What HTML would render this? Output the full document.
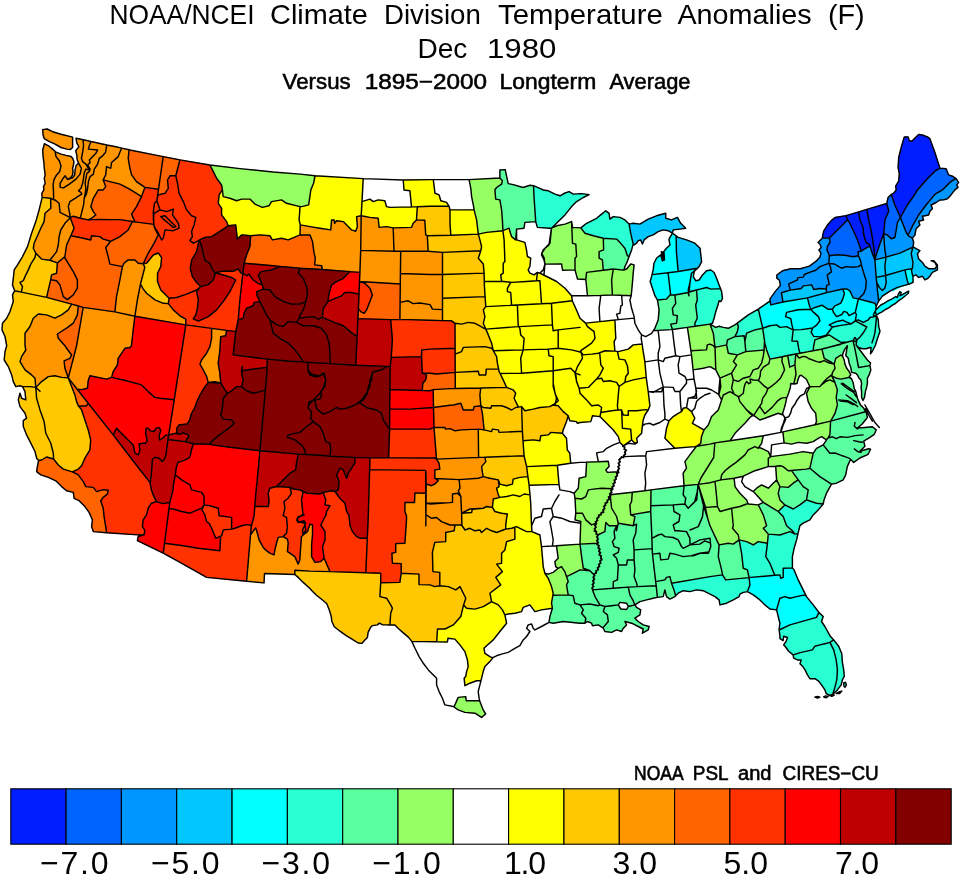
<!DOCTYPE html>
<html lang="en">
<head>
<meta charset="utf-8">
<title>NOAA/NCEI Climate Division Temperature Anomalies (F) Dec 1980</title>
<style>
html,body{margin:0;padding:0;background:#fff;}
body{width:961px;height:875px;overflow:hidden;font-family:"Liberation Sans",sans-serif;}
svg{display:block;}
text{font-family:"Liberation Sans",sans-serif;fill:#000;}
</style>
</head>
<body>
<svg width="961" height="875" viewBox="0 0 961 875">
<rect width="961" height="875" fill="#fff"/>
<g id="titles">
<text y="24.3" font-size="27.6"><tspan x="109.4" textLength="145.1" lengthAdjust="spacingAndGlyphs">NOAA/NCEI</tspan> <tspan x="270.1" textLength="97.8" lengthAdjust="spacingAndGlyphs">Climate</tspan> <tspan x="384.0" textLength="96.8" lengthAdjust="spacingAndGlyphs">Division</tspan> <tspan x="498.0" textLength="164.8" lengthAdjust="spacingAndGlyphs">Temperature</tspan> <tspan x="677.4" textLength="134.3" lengthAdjust="spacingAndGlyphs">Anomalies</tspan> <tspan x="827.9" textLength="36.8" lengthAdjust="spacingAndGlyphs">(F)</tspan></text>
<text y="58.4" font-size="27.6"><tspan x="417.5" textLength="49.9" lengthAdjust="spacingAndGlyphs">Dec</tspan> <tspan x="487.0" textLength="69.4" lengthAdjust="spacingAndGlyphs">1980</tspan></text>
<text y="89.0" font-size="21.8" stroke="#000" stroke-width="0.55"><tspan x="282.6" textLength="68.1" lengthAdjust="spacingAndGlyphs">Versus</tspan> <tspan x="364.7" textLength="122.4" lengthAdjust="spacingAndGlyphs">1895−2000</tspan> <tspan x="499.6" textLength="96.7" lengthAdjust="spacingAndGlyphs">Longterm</tspan> <tspan x="609.4" textLength="81.1" lengthAdjust="spacingAndGlyphs">Average</tspan></text>
</g>
<g id="map">
<path fill="#001eff" stroke="#001eff" stroke-width="0.6" fill-rule="evenodd" d="M846.2,215.6 846.2,215.6 835,217.5 831.2,220.6 827.5,225 823.7,231.2 822.5,236.2 822.5,237.8 829.4,238.1 836.2,231.2 842.5,225 847.5,220 847.5,220ZM858.7,211.9 858.7,211.9 846.2,215.6 847.5,220 847.5,220 848.7,221.2 853.7,231.2 857.5,240 860,247.4 861.2,251.2 865,248.7 869.9,246.2 869.3,244.3 866.2,242.5 863.7,235 863.1,227.5 860,220ZM866.8,209.4 858.7,211.9 860,220 863.1,227.5 863.7,235 866.2,242.5 869.3,244.3 869.9,246.2 870.6,248.1 872.4,253.7 874.9,259.9 874.3,251.2 873.1,242.5 871.2,231.2 868.7,220ZM886.8,203.5 866.8,209.4 866.8,209.4 868.7,220 871.2,231.2 873.1,242.5 874.3,251.2 874.9,259.9 876.2,254.9 878.7,247.4 881.8,238.7 883.7,233.7 883.7,233.7 884.3,227.5 884.9,220 888.7,211.2ZM891.2,194.4 894.9,205 899.9,216.2 900.4,217.5 907.4,205 914.9,194.4 917.4,189.9 927.4,178.7 934.9,171.2 939.9,168.1 934.9,152.5 929.9,138.7 927.4,136.9 922.4,135 918.7,134.4 914.9,138.1 911.8,141.2 909.3,140.6 908.1,136.9 904.3,136.9 901.2,147.5 898.7,157.5 898.1,167.5 899.3,173.7 898.7,181.2 895.6,186.2 896.2,189.9 893.7,193.1Z"/>
<path fill="#0064ff" stroke="#0064ff" stroke-width="0.6" fill-rule="evenodd" d="M829.3,255.7 837.6,254.7 844.9,255.2 853.2,256.8 858.4,255.7 858.1,251.8 861.2,251.2 861.2,251.2 860,247.4 857.5,240 853.7,231.2 848.7,221.2 847.5,220 847.5,220 847.5,220 842.5,225 836.2,231.2 829.4,238.1 829.4,238.1 830,242.5 827.5,246.2 826.9,249.9 828.7,253.7ZM891.2,194.4 888.1,197.5 886.8,203.5 886.8,203.5 888.7,211.2 884.9,220 884.3,227.5 883.7,233.7 883.7,233.7 887.4,235 891.2,238.7 894.9,237.5 896.2,230 897.4,222.5 900.4,217.5 899.9,216.2 894.9,205ZM900.4,217.5 906.2,232.5 908,235.2 912.4,226.2 918.6,215 926.1,205 934.9,194.4 942.4,189.9 949.9,182.4 955.7,178.4 952.4,176.2 948.6,174.9 946.1,168.7 939.9,168.1 939.9,168.1 934.9,171.2 927.4,178.7 917.4,189.9 914.9,194.4 907.4,205Z"/>
<path fill="#0096ff" stroke="#0096ff" stroke-width="0.6" fill-rule="evenodd" d="M770.2,300.4 770.2,300.8 770.7,304.9 783,302 781.4,292.7 790.3,290.1 788.7,283.8 797.1,280.2 798.1,277.6 803.3,277.1 804.3,274.5 809.5,272.4 815.8,270.3 819.9,266.6 825.2,264.6 828.8,263.5 829.3,255.7 828.7,253.7 826.9,249.9 827.5,246.2 830,242.5 829.4,238.1 829.4,238.1 822.5,237.8 822.5,238.1 820,240.6 818.1,242.5 820,244.3 821.2,247.4 818.9,250 821,253.1 819.9,257.3 815.8,261.4 809.5,266.1 800.2,268.7 790.8,268.7 782.5,270.8 776.8,275 776.8,278.1 779.4,280.2 780.4,285.4 775.2,291.6 770,298.9ZM828.8,263.5 825.2,264.6 819.9,266.6 815.8,270.3 809.5,272.4 804.3,274.5 803.3,277.1 798.1,277.6 797.1,280.2 788.7,283.8 790.3,290.1 790.3,290.1 801.2,288.5 803.3,285.9 811.6,284.9 813.7,289.5 819.9,288.5 826.2,289 826.2,289 826.7,285.4 829.3,284.3 828.3,280.2 827.2,275 831.4,271.9 830.4,266.6ZM826.7,292.6 842.8,289 842.8,289 847,289 850.1,291.1 852.2,295.8 853.2,297.9 858.4,298.9 863.7,293.7 865.7,288.5 866.3,281.2 863.7,272.9 861.6,265.6 861.4,264.6 858.4,266.6 853.2,267.2 846,266.6 841.8,268.2 838.7,266.6 834.5,264 828.8,263.5 830.4,266.6 831.4,271.9 827.2,275 828.3,280.2 829.3,284.3 826.7,285.4 826.2,289 826.2,289ZM829.3,255.7 828.8,263.5 834.5,264 838.7,266.6 841.8,268.2 846,266.6 853.2,267.2 858.4,266.6 861.4,264.6 860.5,260.4 858.4,255.7 853.2,256.8 844.9,255.2 837.6,254.7ZM858.4,255.7 860.5,260.4 861.4,264.6 861.6,265.6 863.7,272.9 866.3,281.2 865.7,288.5 863.7,293.7 858.4,298.9 867.5,301.2 875,303.3 876.2,306.6 876.2,306.6 877.5,303.3 878.7,301.1 877.4,289.9 876.7,282.4 876.2,277.4 876.2,277.4 875.6,269.9 874.9,259.9 874.9,259.9 872.4,253.7 870.6,248.1 869.9,246.2 865,248.7 861.2,251.2 861.2,251.2 861.2,251.2 858.1,251.8ZM886,257.1 884.9,249.9 884.3,242.5 883.7,233.7 881.8,238.7 878.7,247.4 876.2,254.9 874.9,259.9 884.9,257.4ZM883.7,233.7 884.3,242.5 884.9,249.9 886,257.1 899.9,253.1 912.4,247.4 913,246.8 913.7,242.5 912.4,238.1 912.4,238.1 908.7,236.2 908,235.2 906.2,232.5 900.4,217.5 897.4,222.5 896.2,230 894.9,237.5 891.2,238.7 887.4,235ZM908,235.2 908.7,236.2 912.4,238.1 914.9,235 916.1,228.7 919.9,225 918.6,221.2 923.6,220 922.4,216.2 928.6,215 929.9,211.2 932.4,208.7 931.1,205 936.1,202.5 940,200 943.6,199.9 947.4,198.7 949.9,196.2 952.4,193.1 954.9,189.9 958,187.4 956.8,184.9 958.6,182.4 956.1,178.7 955.7,178.4 949.9,182.4 942.4,189.9 934.9,194.4 926.1,205 918.6,215 912.4,226.2ZM861.2,251.2 861.2,251.2 861.2,251.2Z"/>
<path fill="#00c8ff" stroke="#00c8ff" stroke-width="0.6" fill-rule="evenodd" d="M672.4,233.2 673.2,229.9 679.9,229.1 685.7,228.3 680.7,223.3 677.4,217.4 671.5,219.9 665.7,218.3 665.7,213.3 656.5,215.8 648.2,219.1 639.9,224.1 633.2,223.3 629.1,224.1 629.1,224.1 630.7,233.2 632.4,240.7 633.2,244.1 634.1,244.9 636.6,243.2 638.2,240.7 640.7,239.9 642.4,244.1 644.1,239.9 648.2,236.6 653.2,234.9 658.2,231.6 663.2,229.9 668.2,230.7ZM700,248.2 694.8,243.2 686.5,239.9 678.2,237.4 676.1,235.9 676.5,253.2 678.2,271.5 678.2,271.5 697.5,268.3 699.1,266.6 701.6,261.7 700.8,255ZM783,302 783,302 807.5,297.9 807.5,297.9 826.2,292.7 826.7,292.6 826.2,289 819.9,288.5 813.7,289.5 811.6,284.9 803.3,285.9 801.2,288.5 790.3,290.1 790.3,290.1 781.4,292.7ZM826.7,292.6 826.2,292.7 807.5,297.9 807.5,297.9 809,304.1 810.6,309.3 810.6,309.3 815.8,307.2 822,305.2 824.1,306.7 828.3,309.3 832.4,309.3 832.4,309.3 834.5,306.2 840.8,303.1 842.8,298.9 844.4,293.7 842.8,289 842.8,289ZM874.9,259.9 874.9,259.9 874.9,259.9 875.6,269.9 876.2,277.4 885.6,275.5 885.6,275.5 884.9,266.2 886,257.1 884.9,257.4ZM913,246.8 912.4,247.4 899.9,253.1 886,257.1 884.9,266.2 885.6,275.5 904.9,269.9 904.9,269.9 911.2,268.7 912.4,268.4 913,262.4 911.2,253.7ZM876.7,282.4 877.4,289.9 878.7,301.1 882.4,296.1 889.9,291.1 897.4,287.4 906.2,284.9 908.7,284.3 908.7,284.3 907.4,281.2 904.9,269.9 904.9,269.9 885.6,275.5 886.2,282.4 884.9,288 882.4,290.5 879.3,287.4ZM876.2,277.4 876.2,277.4 876.7,282.4 879.3,287.4 882.4,290.5 884.9,288 886.2,282.4 885.6,275.5 885.6,275.5ZM913,276.2 916.1,274.9 918.6,277.4 922.4,276.2 924.9,279.9 927.4,278.7 929.9,276.2 932.4,272.4 937.4,269.9 937.4,264.9 933.6,260.6 931.1,260.6 934.9,262.4 936.8,266.2 934.9,268.7 928.6,268.7 924.9,266.2 922.4,262.4 918.6,258.7 917.4,253.7 919.9,250.6 916.1,248.7 913,246.8 913,246.8 911.2,253.7 913,262.4 912.4,268.4 912.4,268.7 911.2,268.7 912.4,274.9ZM810.6,309.3 810.6,309.3 810.6,309.3ZM874.9,259.9 874.9,259.9 874.9,259.9ZM912.4,268.4 911.2,268.7 912.4,268.7Z"/>
<path fill="#00ffff" stroke="#00ffff" stroke-width="0.6" fill-rule="evenodd" d="M672.4,233.2 669,239.1 669.9,244.9 666.5,248.2 663.5,251.9 664.5,259.9 662.4,260.7 660.7,254.9 656.5,258.2 654,263.2 653.2,269.9 652,274.6 668.1,272.7 678.2,271.5 676.5,253.2 676.1,235.9ZM652,274.6 651.6,276.5 650.2,281.5 652.4,288.2 654.9,295.7 657.4,300 666.5,299.1 669.9,295 670.3,295 670.7,295 668.1,272.9 668.1,272.7ZM678.2,271.5 668.1,272.7 668.1,272.9 670.7,295 674.9,295 688.2,292.5 688.5,292.4 688.2,289.9 689.8,283.2 689.9,283.1 691.5,273.2 697.5,268.3 678.2,271.5ZM697.5,268.3 691.5,273.2 689.9,283.1 689.2,291.6 696.3,290 696.5,290 696.5,290 696.6,290 700,289.1 706.6,287.5 710.8,289.1 720.5,288.6 719.1,285 716.6,278.3 714.1,272.5 710.8,270 706.6,270.8 702.5,275 699.1,280 695.8,280.8 693.3,276.6 694.2,271.6 696.6,269.1ZM770.2,300.8 766.6,303.3 758.3,309.1 762.4,326.6 762.7,328.3 769.9,325.8 776.6,324.9 779.9,327.4 786.6,326.6 789.9,328.3 793.2,329.9 791.9,324.9 790.8,318.7 785.6,316.6 786.6,312.4 798.1,309.8 810.6,309.3 810.6,309.3 809,304.1 807.5,297.9 783,302 783,302 770.7,304.9ZM810.6,309.3 810.6,309.3 810.6,309.3 798.1,309.8 786.6,312.4 785.6,316.6 790.8,318.7 791.9,324.9 793.2,329.9 801.2,329.6 812.7,328 816.8,324.9 819.9,320.8 818.4,316.6 813.7,312.4ZM832.4,309.3 832.4,309.3 828.3,309.3 824.1,306.7 822,305.2 815.8,307.2 810.6,309.3 813.7,312.4 818.4,316.6 819.9,320.8 816.8,324.9 812.7,328 811.1,332.2 813.7,336.4 819.9,336.9 826.2,335.3 829.3,331.2 832.4,327 829.3,324.9 835.6,321.8 842.8,320.2 846,321.8 851.2,323.9 851.2,323.9 855.3,320.8 855.3,320.8 856.4,314.5 855.3,312.4 855.3,312.4 849.1,315.6 847,312.4 843.9,311.4 841.8,314.5 836.6,316.6 833.5,312.4ZM858.4,298.9 853.2,297.9 852.2,295.8 850.1,291.1 847,289 842.8,289 844.4,293.7 842.8,298.9 840.8,303.1 834.5,306.2 832.4,309.3 833.5,312.4 836.6,316.6 841.8,314.5 843.9,311.4 847,312.4 849.1,315.6 855.3,312.4 855.3,312.4ZM851.2,323.9 846,321.8 842.8,320.2 835.6,321.8 829.3,324.9 832.4,327 840.8,325.4ZM908.7,284.3 913,282.4 913,276.2 913,276.2 912.4,274.9 911.2,268.7 904.9,269.9 907.4,281.2ZM774.9,575.3 750.8,577.4 749.1,577.6 749.9,584.9 747.4,591.6 747.4,591.6 753.3,594.9 759.9,599.9 764.9,604.9 769.9,609 776.6,609.9 779.9,598.2 784.9,596.6 789.9,598.2 796.6,596.6 804.9,594.9 806.5,596.6 806.5,596.6 803.2,589.9 798.2,579.9 794.1,569.9 792.4,567.9 783.2,568.3 783.2,577.4 780.7,578.2 779.9,574.9ZM819,612.4 818.2,611.5 813.2,604.9 806.5,596.6 804.9,594.9 796.6,596.6 789.9,598.2 784.9,596.6 779.9,598.2 776.6,609.9 776.6,609.9 778.2,616.5 779.9,623.2 779.1,629.9 779.1,630 789.9,624.9 816.5,617.4ZM858.4,298.9 855.3,312.4 856.4,314.5 855.3,320.8 855.3,320.8 858.3,319.9 863.3,322.4 868.3,319.9 870,317.5 872.9,317 874.8,316.4 873.3,315 875.6,310.4 876.2,306.6 875,303.3 867.5,301.2ZM875.6,310.4 875.4,311.6 876.4,315.1 876.6,315 879.1,313.3 882,311.9 885.4,309.5 888.7,307.9 892,305.4 895.4,303.5 898.7,300.6 902,298.5 905.3,295.8 908.4,293.3 908.7,291.2 906.6,292.1 903.3,294.1 899.9,295.8 901.2,292.5 899.9,291.6 898.3,294.1 897.4,297.5 895.8,296.6 891.6,299.1 887.5,301.2 884.1,303.3 880.8,305 878.3,307.5 875.8,310ZM689.9,283.1 689.8,283.2 688.2,289.9 688.5,292.4 696.3,290 689.2,291.6ZM696.5,290 696.5,290 696.3,290ZM810.6,309.3 810.6,309.3 810.6,309.3ZM876.4,315.1 875.4,311.6 875.6,310.4 873.3,315 874.8,316.4 875.4,316.2ZM876.6,315.8 876.6,315.8 876.4,315.1 875.4,316.2Z"/>
<path fill="#28ffd2" stroke="#28ffd2" stroke-width="0.6" fill-rule="evenodd" d="M541.5,189.1 534,185.8 533.5,185.7 534,196.6 534.9,209.9 535.7,221.6 535.7,221.6 537.4,227.4 549.9,228.2 551.5,228.2 558.3,221.6 565,214.9 571.6,206.6 576.6,201.6 583.3,197.5 589.1,194.6 581.6,193.6 573.3,194.1 569.1,191.6 565,193 560,195.8 555,194.1 548.3,190.8 543.3,190ZM629.1,224.1 624.9,219.9 619.9,217.4 613.3,216.6 609.9,219.1 609.1,213.3 605.8,210.8 601.6,214.1 596.6,218.3 586.6,223.3 580.8,227.9 585,233.2 593.3,235.7 603.3,238.2 603.3,238.2 616.6,239.1 619.9,242.4 624.9,248.2 627.4,255.7 629.1,256.6 629.1,256.6 631.6,249.9 633.2,244.1 632.4,240.7 630.7,233.2ZM695.2,326.3 710,324.1 712.5,323.3 714.1,318.3 715.8,311.6 717.5,306.6 719.1,300.8 720.8,301.6 722.5,298.3 721.6,291.6 720.5,288.6 710.8,289.1 706.6,287.5 700,289.1 696.6,290 696.5,290 697.3,300 695.7,305 697.3,318.3 694.8,323.3ZM675.7,595.7 678.2,593.2 683.2,590.7 689.9,591.6 696.5,589.9 703.2,590.7 710,594.1 715,596.6 719.1,599.9 720,604.9 726.6,603.2 733.3,599.9 739.1,596.6 739.9,594.1 743.3,592.4 747.4,591.6 749.9,584.9 749.1,577.6 725.8,579.9 722.5,574.9 710,576.6 671.5,583.2 674,589.9ZM758.3,309.1 758.3,309.1 748.3,314.9 741.6,319.9 737.3,323.1 738.3,326.6 737.4,331.6 734.9,336.6 744.1,335.7 744.9,341.6 746.6,333.2 754.9,329.9 762.7,328.3 762.4,326.6ZM762.7,328.3 764.5,340.7 764.9,343.2 766.6,349.9 769.9,359.1 782.3,356.6 787.7,355.5 795.7,353.9 795.8,353.9 800,353.1 798.7,348.7 797.5,341.2 791.9,341.1 793.2,329.9 789.9,328.3 786.6,326.6 779.9,327.4 776.6,324.9 769.9,325.8ZM808.5,351.6 813.1,350.7 813.7,346.2 814.9,339.9 827.4,335.6 829.3,335 834.9,338.7 841.2,342.5 847.4,341.9 853,340.6 854.9,337.5 856.8,340 856.8,340.1 857.4,339.5 860.5,336.4 863.7,332.2 866.8,327 855.3,320.8 851.2,323.9 851.2,323.9 851.2,323.9 840.8,325.4 832.4,327 829.3,331.2 826.2,335.3 819.9,336.9 813.7,336.4 811.1,332.2 812.7,328 801.2,329.6 793.2,329.9 791.9,341.1 797.5,341.2 798.7,348.7 800,353.1 800,353.1ZM855.3,320.8 866.8,327 863.7,332.2 860.5,336.4 857.4,339.5 856.8,340.1 856.5,342.1 856.1,345 856.1,345 858.6,347.5 862.4,348.7 866.1,348.7 869.9,347.5 871.1,347.5 870.5,353.7 872.4,351.2 875.5,345 877.4,338.7 880,331.2 878.7,326.6 878.3,319.9 876.6,315.8 875.4,316.2 875,316.6 874.8,316.4 872.9,317 870,317.5 868.3,319.9 863.3,322.4 858.3,319.9ZM806.5,499.9 799.9,504.9 793.2,509 784.9,504.9 784.9,504.9 778.2,511.5 778.2,511.5 783.2,516.5 786.6,525.7 792.4,530.8 794.9,534.1 794.9,534.1 798,533.6 799.9,525.7 803.2,523.2 809.9,519.9 813.2,514.9 818.2,509.9 823.2,504 823.2,504 816.5,503.2ZM749.1,577.6 750.8,577.4 774.9,575.3 773.2,571.6 769.9,563.3 765.8,556.6 767.4,543.3 758.3,541.6 753.3,544.9 746.6,541.6 739.1,539.9 741.6,553.3 743.3,568.3 747.4,569.9ZM774.9,575.3 779.9,574.9 780.7,578.2 783.2,577.4 783.2,568.3 792.4,567.9 792.4,564.9 792.4,556.6 794.1,548.3 796.6,539.9 798,533.6 794.9,534.1 794.9,534.1 794.9,534.1 789.9,531.6 779.9,535 768.3,534.1 767.4,543.3 765.8,556.6 769.9,563.3 773.2,571.6ZM829.9,635.7 824.9,626.5 821.5,621.5 823.2,616.5 819,612.4 816.5,617.4 789.9,624.9 779.1,630 779.9,635.7 780,638.7 783.1,640.6 783.7,636.2 787.5,637.5 786.2,641.2 783.7,644.9 785,646.2 788.7,651.2 793.1,654.9 801.2,652.4 812.4,649.9 814.9,646.2 819.9,644.9 824.9,643.7 829.9,642.4 829.9,642.4 833.7,639.9ZM793.1,654.9 793.7,658.1 797.5,659.9 801.2,659.9 800,663.7 802.5,666.2 805,669.9 807.5,674.9 809.9,678.7 814.9,678.7 818.7,681.2 822.4,686.1 824.9,689.9 826.2,693.6 829.9,695.5 832.9,694 834.9,687.4 836.8,679.9 837.4,669.9 836.2,659.9 833.7,649.9 829.9,642.4 829.9,642.4 829.9,642.4 824.9,643.7 819.9,644.9 814.9,646.2 812.4,649.9 801.2,652.4ZM832.9,694 833.7,693.6 837.4,689.9 841.2,684.9 842.4,679.9 844.3,676.2 843.7,669.9 842.4,662.4 841.8,653.7 838.7,646.2 833.7,639.9 833.7,639.9 829.9,642.4 829.9,642.4 833.7,649.9 836.2,659.9 837.4,669.9 836.8,679.9 834.9,687.4ZM769.9,359.1 782.3,356.7 782.3,356.6ZM800,353.2 808.5,351.6 800,353.1 800,353.1ZM813.1,350.7 808.5,351.6 813.1,350.8ZM851.2,323.9 851.2,323.9 851.2,323.9ZM856.8,340.1 855.3,341.6 856.5,342.1ZM855.3,341.6 856.8,340.1 856.8,340 854.9,337.5 853,340.6ZM794.9,534.1 794.9,534.1 794.9,534.1ZM875.4,316.2 874.8,316.4 875,316.6Z"/>
<path fill="#5affa0" stroke="#5affa0" stroke-width="0.6" fill-rule="evenodd" d="M533.5,185.7 529.9,185.3 523.2,187.5 513.2,184.6 508.2,183.6 505.2,169.6 499.9,170 499.9,178 502.4,180.8 501.6,184.1 496.6,187.5 494.9,189.9 495.7,199.1 499.9,199.9 501.6,209.9 502.4,219.9 502.9,230.7 509.1,228.2 509.9,231.6 511.6,236.6 515.7,239.9 516.6,229.1 516.6,229.1 524,228.2 524.9,222.4 535.7,221.6 535.7,221.6 534.9,209.9 534,196.6ZM624.1,269.9 624.9,266.5 626.6,263.2 629.1,256.6 627.4,255.7 624.9,248.2 619.9,242.4 616.6,239.1 603.3,238.2 603.3,238.2 603.6,249.9 599.1,251.6 599.1,258.2 602.4,259.9 603.3,270.2 603.3,270.2 613.3,269 621.6,269.9ZM552.9,595.2 551.5,603.2 552.4,608.2 552.4,608.2 549.9,616.5 549,622.4 553.2,623.2 563.2,621.5 580,623.2 585,623.2 585,623.2 585.8,618.2 581.6,613.2 583.3,609.9 580,604.9 574.8,603.2 573.2,595.7 568.2,594.9 568.2,594.9ZM657.4,300 657.4,300 659.1,309.9 658.2,319.9 654.9,328.3 653.4,330.6 671.5,329.6 672.4,329.5 670.7,324.1 676.5,323.3 677.4,315.8 673.2,314.9 672.4,308.3 675.7,303.3 674.9,295 670.7,295 670.3,295 669.9,295 666.5,299.1ZM688.5,292.4 689,295.7 688.2,292.5 688.2,292.5 674.9,295 675.7,303.3 672.4,308.3 673.2,314.9 677.4,315.8 676.5,323.3 670.7,324.1 672.4,329.5 687.4,327.4 687.4,327.4 695.2,326.3 694.8,323.3 697.3,318.3 695.7,305 697.3,300 696.5,290 696.3,290ZM618.3,523.2 618.3,523.2 616.6,530.7 616.6,525.8 616.6,525.8 614.1,531.6 614.9,538.3 612.4,541.6 614.1,546.6 619.1,548.3 618.3,552.4 613.3,554.9 616.6,558.3 618.3,564.9 626.6,564.9 627.4,559.9 634.1,559.9 634.1,549.9 634.1,549.9 633.2,539.9 635.7,533.3 636.6,524.1 633.3,525.6 633.2,525.7 633.2,525.7ZM650.7,511.5 630.7,514.9 634.9,516.5 633.3,525.6 636.6,524.1 635.7,533.3 633.2,539.9 634.1,549.9 634.1,549.9 652.2,548.6 651.9,538.3 651.9,538.3 651.6,530.7ZM684,485.7 651,489.9 650.8,505.7 650.9,505.7 673.2,504.9 673.2,504.9 684.9,504 685.7,498.2 683.2,494.9ZM650.8,505.7 650.7,511.5 650.7,511.5 651.6,530.7 651.9,538.3 658.2,535 661.6,534.1 664.9,536.6 673.2,537.5 678.2,539.9 681.5,546.6 683.2,548.3 689.9,544.9 689.9,538.3 686.5,531.6 678.2,530.8 674.9,530.7 673.2,524.9 679,521.5 679.9,514.9 674,511.5 673.2,504.9 673.2,504.9 650.9,505.7ZM698.2,484.4 698.2,484.4 684,485.7 684,485.7 683.2,494.9 685.7,498.2 684.9,504 688.2,508.2 689.9,506.5 694.8,501.5 697.3,491.6 697.7,488.3ZM684.9,504 673.2,504.9 674,511.5 679.9,514.9 679,521.5 673.2,524.9 674.9,530.7 678.2,530.8 686.5,531.6 689.9,538.3 689.9,544.9 700,539.9 710,538.3 710.5,543.2 710.8,546.6 708.8,552 708.3,553.3 700,553.3 693.3,555.8 689.9,555.9 683.2,556.6 674.9,554.1 669.9,553.3 668.2,559.1 660.7,559.9 659.9,553.3 652.5,554.1 654.1,568.3 655.7,581.6 655.7,581.6 655.7,581.6 664.9,579.9 666.5,577.4 669.9,576.6 671.5,583.2 671.5,583.2 710,576.6 722.5,574.9 722.5,574.9 721.6,569.9 718.3,556.6 719.1,544.9 719.1,544.9 716.6,539.9 710,525.7 707.8,518.9 703.6,505.9 703.3,504.9 698.2,484.4 697.7,488.3 696.7,500 689.9,506.5 688.2,508.2ZM594.1,574.9 594.1,574.9 597.5,569.9 599.9,563.3 601.6,558.3 599.9,554.9 599.1,548.3 597.5,543.3 580,544.1 581.6,556.6 583.3,568.3 590,570.7 590,570.7ZM580,569.9 573.2,573.3 566.5,576.6 564.8,571.6 564.8,571.6 568.2,581.6 566.5,584.9 568.2,594.9 573.2,595.7 574.8,603.2 580,604.9 590,604 598.3,605.7 599.9,604.9 595,596.6 592.5,589.9 593.3,583.2 594.1,574.9 590,570.7 590,570.7ZM599.9,604.9 598.3,605.7 590,604 580,604.9 583.3,609.9 581.6,613.2 585.8,618.2 585,623.2 587.5,621.5 591.6,623.2 592.5,625.7 598.3,624.9 602.9,627.9 608.3,621.5 607.4,614.9 603.3,611.5 604.9,606.5 604.9,606.5ZM592.5,589.9 595,596.6 599.9,604.9 604.9,606.5 604.9,606.5 611.6,605.7 618.3,604.9 618.3,604.9 619.9,602.4 626.6,603.2 628.3,606.5 628.3,606.5 634.9,604.9 633.2,600.7 629.9,594.9 628.3,587.1 628.2,587.1 613.2,588.3ZM618.3,604.9 611.6,605.7 604.9,606.5 603.3,611.5 607.4,614.9 608.3,621.5 602.9,627.9 603.3,628.2 604.9,631.5 611.6,632.4 616.6,629.9 621.6,631.5 623.3,628.2 626.6,624.9 624.9,621.5 631.6,623.2 638.2,626.5 643.2,629 642.4,633.2 648.2,629.9 649.1,626.5 643.2,624.9 638.2,621.5 634.9,618.2 639.9,614.9 640.7,609.9 636.6,607.4 634.9,604.9 628.3,606.5 626.6,609.5 620.8,609ZM597.5,535 597.5,543.3 597.5,543.3 599.1,548.3 599.9,554.9 601.6,558.3 599.9,563.3 597.5,569.9 594.1,574.9 594.1,574.9 593.3,583.2 592.5,589.9 613.2,588.3 613.3,581.6 617.4,579.9 618.3,564.9 616.6,558.3 613.3,554.9 618.3,552.4 619.1,548.3 614.1,546.6 612.4,541.6 614.9,538.3 614.1,531.6 616.6,525.8 609.1,525.8 605.8,522.5 604.9,531.6ZM613.2,588.3 628.2,587.1 628.3,587.1 628.3,587.1 637.4,586.6 637.4,586.6 637.4,586.6 636.6,583.2 634.1,576.6 634.9,569.9 634.1,559.9 627.4,559.9 626.6,564.9 618.3,564.9 617.4,579.9 613.3,581.6ZM634.1,549.9 634.1,559.9 634.9,569.9 634.1,576.6 636.6,583.2 637.4,586.6 637.4,586.6 656.2,585.8 655.7,581.6 655.7,581.6 654.1,568.3 652.5,554.1 652.4,553.3 652.2,548.6ZM628.3,587.1 629.9,594.9 633.2,600.7 634.9,604.9 639.9,601.6 646.6,599.9 653.2,598.2 657.4,597.4 656.2,585.8 637.4,586.6 637.4,586.6ZM651.9,538.3 651.9,538.3 652.2,548.6 652.4,553.3 652.5,554.1 659.9,553.3 660.7,559.9 668.2,559.1 669.9,553.3 674.9,554.1 683.2,556.6 689.9,555.9 691.5,555.8 699.8,553.3 708.8,552 710.8,546.6 710.5,543.2 704.8,540.8 699.8,544.1 689.9,544.9 683.2,548.3 681.5,546.6 678.2,539.9 673.2,537.5 664.9,536.6 661.6,534.1 658.2,535ZM655.7,581.6 656.2,585.8 657.4,597.4 657.4,597.4 663.2,596.6 664.9,589.9 666.5,596.6 669.9,599.1 674.9,596.6 675.7,595.7 674,589.9 671.5,583.2 671.5,583.2 671.5,583.2 669.9,576.6 666.5,577.4 664.9,579.9 655.7,581.6ZM737.3,323.1 734.9,324.9 728.3,328.3 723.3,327.4 719.1,326.3 715.8,327.4 710,324.1 713.3,333.2 715,347.4 715,347.4 726.6,344.9 726.6,344.9 727.5,339.9 734.9,336.6 734.9,336.6 737.4,331.6 738.3,326.6ZM734.9,336.6 734.9,336.6 727.5,339.9 726.6,344.9 728.3,353.2 737.4,354.9 737.4,354.9 745.8,351.6 744.9,341.6 744.9,341.6 744.1,335.7ZM744.9,341.6 744.9,341.6 745.8,351.6 764.1,349.9 764.1,349.9 764.5,340.7 762.7,328.3 754.9,329.9 746.6,333.2ZM813.1,350.7 821.5,349.1 821.9,349 827.2,347.7 853,340.6 847.4,341.9 841.2,342.5 834.9,338.7 829.3,335 827.4,335.6 814.9,339.9 813.7,346.2ZM856.5,342.1 855.3,341.6 853,340.6 854.9,348.7 858.6,367.5 869.9,365.6 870.5,363.1 867.4,360 863.6,355 859.9,350 856.1,345 856.1,345 856.1,345ZM827.2,347.7 821.9,349.1 824.2,358.3 831.7,362.5 834.2,364.1 835.8,358.3 840.8,355 842.6,356.3 842.4,355.8 843.3,352.5 844.9,349.1 847.4,345.8 846.7,350 845.8,355.8 848.3,358.3 849.2,363.3 850.8,367.5 851.7,372.4 855.8,373.3 857.4,374.9 859.1,378.3 860.8,379.9 861.6,383.3 861.1,387.4 861.6,391.6 861.6,397.4 863,400.5 864.5,397.4 865.4,391.6 866.6,387.4 867.4,383.3 867.4,378.3 869.1,374.9 870.8,369.9 869.9,365.6 858.6,367.5 854.9,348.7 853,340.6ZM865.5,411.8 863.6,408 860.5,404.9 858,399.9 856.6,394.9 855.8,391.6 854.2,388.3 853.3,383.3 851.7,379.1 851.4,378.8 849.1,377.4 845,378.3 840.8,379.1 836.6,378.3 831.7,375.8 832.1,376.6 833.3,379.1 834.9,382.4 834.9,382.4 834.9,382.5 837.4,389.9 836.2,397.4 837.4,404.9 834.9,413.7 830.6,421.1ZM809.9,468.2 809.9,468.2 819.9,476.6 831.5,484.1 836.5,483.2 843.2,479.9 845.7,474.9 847.3,466.6 850.6,459.3 850,458.7 843.7,456.2 840,454.9 835,453 829.9,453.3 823.2,444.9 823.2,444.9 816.5,448.3 813.2,453.3ZM865.5,411.8 830.6,421.1 829.9,434.9 827.8,438.1 826.5,439.9 826.5,439.9 826.3,440.3 823.2,444.9 829.9,453.3 835,453 840,454.9 843.7,456.2 850,458.7 850.6,459.3 850.6,459.3 853.7,462.4 859.9,458 868.1,454.3 870.6,449.3 868.7,448.7 859.9,451.2 864.9,446.2 863.7,441.2 869.9,437.4 874.3,434.3 876.2,429.9 872.4,426.8 864.9,427.5 857.5,428.1 862.4,423.7 867.4,417.5 866.2,412.2ZM798.2,479.9 793.2,483.2 788.2,487.4 779.9,486.6 778.2,493.2 779.9,499.9 784.9,504.9 784.9,504.9 793.2,509 799.9,504.9 806.5,499.9 806.5,499.9 808.2,489.9 803.2,486.6ZM809.9,468.2 806.5,469.1 788.2,470.7 791.6,470.7 798.2,479.9 803.2,486.6 808.2,489.9 806.5,499.9 806.5,499.9 816.5,503.2 823.2,504 824,499.9 826.5,493.2 831.5,484.1 819.9,476.6 809.9,468.2ZM763.3,502.4 758.3,504.9 758.3,504.9 763.3,514.9 766.6,525.7 763.3,528.3 768.3,534.1 768.3,534.1 779.9,535 789.9,531.6 794.9,534.1 792.4,530.8 786.6,525.7 783.2,516.5 778.2,511.5ZM719.1,544.9 718.3,556.6 721.6,569.9 722.5,574.9 722.5,574.9 725.8,579.9 749.1,577.6 747.4,569.9 743.3,568.3 741.6,553.3 739.1,539.9 739.1,539.9 733.3,544.1 728.3,543.3ZM795.8,354 787.7,355.6 789.7,367.1 794.9,364.8 794.9,364.8ZM689,295.7 688.5,292.4 688.2,292.5 688.2,292.5ZM633.2,525.7 633.2,525.7 633.3,525.6ZM697.7,488.3 697.3,491.6 694.8,501.5 689.9,506.5 696.7,500ZM707.8,518.9 705.2,506.7 703.6,505.9ZM628.3,587.1 628.3,587.1 628.2,587.1ZM689.9,544.9 699.8,544.1 704.8,540.8 710.5,543.2 710,538.3 700,539.9ZM708.8,552 699.8,553.3 691.5,555.8 689.9,555.9 693.3,555.8 700,553.3 708.3,553.3ZM671.5,583.2 671.5,583.2 671.5,583.2ZM787.7,355.6 795.8,354 795.7,353.9 787.7,355.5ZM827.2,347.7 821.9,349 821.9,349.1ZM795.8,353.9 795.7,353.9 795.8,354ZM856.1,345 856.1,345 856.1,345ZM834.9,382.4 834.9,382.4 833.3,379.1 832.1,376.6ZM834.9,382.5 834.9,382.4 834.9,382.4Z"/>
<path fill="#96ff64" stroke="#96ff64" stroke-width="0.6" fill-rule="evenodd" d="M300,174.1 273.2,172 239.9,168.6 209.9,165 209.9,165 213.3,171.6 216.6,178.3 221.6,185 222.4,189.9 222.4,189.9 222.4,189.9 223.2,196.6 229.9,198.3 236.6,200.8 241.6,199.1 249.9,199.1 254.9,204.1 262.4,207.4 269,205.8 271.5,201.6 281.5,199.9 286.5,203.3 300,206.6 301.6,206.6 308.6,204.9 309.6,198.3 310.8,190 313.6,183.3 315,175.8ZM499.9,178 499.9,178 469.1,179.6 469.1,179.6 470.8,188.3 471.6,196.6 473.3,204.9 474.1,209.8 474.1,209.9 476.6,219.9 478.3,234.1 478.3,234.1 486.6,232.4 502.9,230.7 502.4,219.9 501.6,209.9 499.9,199.9 495.7,199.1 494.9,189.9 496.6,187.5 501.6,184.1 502.4,180.8ZM544.9,264 544.9,264 544.9,264.1 561.6,264 562.5,270.2 575,269.9 575,258.2 576.6,256.6 575.8,244.1 572.5,243.2 571.6,221.6 565,224.1 556.6,225.8 551.5,228.2 550,243.2 549.1,244.1 549,244.9 544.8,248.5 542.5,252 541.9,253.7 544.2,258.2ZM580.8,227.9 580.8,227.9 572.5,227.4 571.6,221.6 572.5,243.2 575.8,244.1 576.6,256.6 575,258.2 575,269.9 577.5,279 585.8,279.5 585.8,279.4 586.6,272.4 603.3,270.2 602.4,259.9 599.1,258.2 599.1,251.6 603.6,249.9 603.3,238.2 593.3,235.7 585,233.2ZM613.3,269 603.3,270.2 603.3,270.2 586.6,272.4 585.8,279.4 587.5,295.8 587.5,295.8 600.8,295.4 612.4,295 611.6,279.9ZM624.1,269.9 624.1,269.9 624.1,269.9 621.6,269.9 613.3,269 611.6,279.9 612.4,295 612.9,295 621.6,295.3 621.6,295.3 631.2,295.7 632.4,283.2 633.2,273.2 634.1,264.9 630.7,264 626.6,269ZM580,544.1 556.5,545.8 556.5,545.8 556.5,545.8 558.2,558.3 554.9,561.6 555.7,566.6 558.2,568.3 561.5,566.6 564.8,571.6 564.8,571.6 566.5,576.6 573.2,573.3 580,569.9 590,570.7 583.3,568.3 581.6,556.6ZM544.9,573.3 548.2,578.3 551.5,586.6 553.2,593.2 552.9,595.2 568.2,594.9 568.2,594.9 566.5,584.9 568.2,581.6 564.8,571.6 561.5,566.6 558.2,568.3 558.2,568.3 553.2,572.4 548.2,574.1ZM454,707 458.2,709.9 464.9,712.4 474.9,713.2 481.6,717.4 485.7,714 483.2,709.9 480,701.8 479.1,700.7 466.2,700.7 465.7,696.6 458.2,697.4ZM695.2,326.3 687.4,327.4 690.9,350.7 706.5,349.9 707.3,344.9 710,344.1 713.3,345.7 715,347.4 715,347.4 713.3,333.2 710,324.1ZM690.9,350.7 691.5,354.9 691.5,354.9 693.1,369.9 703.2,368.2 710,366.6 715.8,369.9 715,347.4 713.3,345.7 710,344.1 707.3,344.9 706.5,349.9ZM710,444.1 696.5,446.3 689.9,454.9 684.9,461.6 686.5,468.2 683.2,473.2 684,485.7 684,485.7 698.2,484.4 698.2,484.4 701.2,477.5 707.5,467.5 713.7,457.5 714.8,443ZM612.3,488.8 612.4,488.2 614.1,483.2 615.8,478.2 618.2,471.8 607.4,472.4 605.8,469.9 609.1,466.6 608.3,461.3 598.3,461.7 586.6,462.1 585.8,476.6 579.1,478.2 578.3,488.2 574.1,493.2 575,498.2 575,498.2 581.6,499 585.8,496.6 588.3,489.9 593.3,489.1 601.6,488.2ZM610.2,494.7 610.8,493.2 612.3,488.8 601.6,488.2 593.3,489.1 588.3,489.9 585.8,496.6 581.6,499 575,498.2 575,498.2 575.8,513.2 582.5,513.2 585.8,519.9 591.6,524.9 595.8,523.2 598.3,516.5 603.3,511.5 604.9,504.9 608.3,499.9ZM595,530.7 595.8,523.2 595.8,523.2 591.6,524.9 585.8,519.9 582.5,513.2 575.8,513.2 575,519.9 580.8,521.5 580.7,523.2 580,544.1 597.5,543.3 597.5,543.3 597.5,535ZM632.3,492.2 610.2,494.7 611.6,508.2 616.6,516.5 618.3,523.2 633.2,525.7 633.3,525.6 634.9,516.5 630.7,514.9 629.9,504.9 631.6,501.5 632.3,492.3ZM644.9,490.7 632.3,492.2 632.3,492.3 631.6,501.5 629.9,504.9 630.7,514.9 650.7,511.5 650.7,511.5 650.8,505.7 651,489.9 644.9,490.7ZM610.2,494.7 608.3,499.9 604.9,504.9 603.3,511.5 598.3,516.5 595.8,523.2 595.8,523.2 595,530.7 597.5,535 604.9,531.6 605.8,522.5 609.1,525.8 616.6,525.8 616.6,525.8 616.6,525.8 616.6,530.7 618.3,523.2 618.3,523.2 616.6,516.5 611.6,508.2ZM715,347.4 715.8,369.9 715.8,369.9 720,378.2 731.6,373.2 731.6,373.2 736.6,364.9 733.3,361.6 737.4,354.9 728.3,353.2 726.6,344.9 726.6,344.9ZM745.8,351.6 737.4,354.9 737.4,354.9 733.3,361.6 736.6,364.9 731.6,373.2 733.3,379.9 733.3,379.9 738.3,381.5 743.3,378.2 749.9,376.5 753.3,369.9 758.3,368.2 761.6,363.2 763.2,356.6 764.1,350.7 764.1,349.9 764.1,349.9ZM731.6,373.2 731.6,373.2 720,378.2 720.8,386.7 718.8,394.9 721.6,400 723.3,395 730,391.7 734.2,394.2 731.6,388.2 733.3,379.9 733.3,379.9ZM746.8,410.1 753.3,415 753.3,415 753.7,415.3 759.6,406.4 759.6,406.4 759.8,406.1 761.6,403.3 762.7,398.1 765.8,393.9 767.9,388.7 767.9,388.7 763.7,385.6 758.5,380.4 753.3,380 750.8,379.1 750,379.1 750.8,382.5 748.7,383.7 746.6,381.6 745,384.1 744.1,387.5 743.3,393.3 739.1,396.6 738.3,396.6 738.3,396.6 739.9,401.6 746.3,409.5ZM782.3,356.7 769.9,359.1 768.9,363.7 763.7,366.9 760.6,371 760.1,376.2 758.5,380.4 763.7,385.6 767.9,388.7 767.9,388.7 771,386.6 776.2,382.5 780.4,378.3 782.5,374.1 784.5,370 783.5,365.8 781.9,361.6ZM834.9,382.4 829.9,379.9 826.2,381.2 821.1,385.1 819.9,386.6 814.7,386.6 809.9,386.7 806.5,393.3 808.2,401.6 811.5,408.3 815.7,413.3 816.5,421.6 815.1,424.7 830.6,421.1 834.9,413.7 837.4,404.9 836.2,397.4 837.4,389.9 834.9,382.5ZM696.5,446.3 710,444.1 714.8,443 715,442.9 730,440.8 735,433.3 739.9,428.3 744.9,423.3 749.9,417.5 752.7,415.4 750.2,413.7 746.8,410.1 746.6,410 746.3,409.5 739.9,401.6 738.3,396.6 738.3,396.6 734.2,394.2 730,391.7 723.3,395 721.6,400 721.6,400 718.3,410 711.6,416.6 708.3,425 704,430 701.5,436.6 700.7,443.3ZM698.2,484.4 710,482.7 715,481.4 720.8,479.9 721.6,474.9 725,470.7 730,466.6 735,463.2 739.9,459.1 744.9,454.9 748.3,449.9 754.9,446.6 758.3,448.3 758.7,447.5 761.6,443.3 763.3,435.8 763.3,435.8 730,440.8 730,440.8 715,442.9 714.8,443 713.7,457.5 707.5,467.5 701.2,477.5ZM758.7,447.5 758.3,448.3 754.9,446.6 748.3,449.9 744.9,454.9 739.9,459.1 735,463.2 730,466.6 725,470.7 721.6,474.9 720.8,479.9 720.8,479.9 734.1,478.2 734.1,478.2 743.3,476.2 743.3,476.2 754.9,470.7 768.3,466.6 768.3,466.6 768.3,458.3 770.7,456.6 768.3,451.6 761.6,448.3ZM815.1,424.7 782.9,431.9 784.1,442.9 784.1,442.9 791.6,444.1 798.2,442.4 806.5,443.3 813.2,441.6 818.2,438.3 821.5,436.6 826.5,439.9 827.8,438.1 829.9,434.9 830.6,421.1ZM768.3,466.6 775.7,466.2 775.7,466.2 779.9,465.7 783.2,466.6 788.2,470.7 806.5,469.1 809.9,468.2 813.2,453.3 813.2,453.3 803.2,451.6 789.9,454.1 770.7,456.6 768.3,458.3ZM788.2,470.7 783.2,466.6 779.9,465.7 775.7,466.2 776.6,479.9 776.6,479.9 779.9,486.6 779.9,486.6 788.2,487.4 793.2,483.2 798.2,479.9 791.6,470.7ZM776.6,479.9 773.2,483.2 768.3,488.2 761.6,484.9 756.6,488.2 753.3,491.6 753.3,491.6 756.6,494.9 763.3,502.4 763.3,502.4 778.2,511.5 778.2,511.5 784.9,504.9 779.9,499.9 778.2,493.2 779.9,486.6 779.9,486.6ZM710,482.7 698.2,484.4 704.8,504.9 705.2,506.7 706.6,507.4 717.5,506.5 717.5,506.5 716.6,496.5 715,481.4ZM720.8,479.9 715,481.4 716.6,496.5 717.5,506.5 717.5,506.5 720,511.5 731.6,508.2 731.6,508.2 739.9,506.5 748,503.5 746.6,499.9 739.9,493.2 735,486.6 734.1,478.2 734.1,478.2 720.8,479.9ZM705.2,506.7 707.8,518.9 710,525.7 716.6,539.9 719.1,544.9 719.1,544.9 728.3,543.3 733.3,544.1 739.1,539.9 739.1,539.9 738.3,535 732.5,528.3 733.3,525.7 731.6,508.2 720,511.5 717.5,506.5 706.6,507.4ZM758.3,504.9 748.3,504 748,503.5 739.9,506.5 731.6,508.2 731.6,508.2 733.3,525.7 732.5,528.3 738.3,535 739.1,539.9 746.6,541.6 753.3,544.9 758.3,541.6 767.4,543.3 768.3,534.1 768.3,534.1 763.3,528.3 766.6,525.7 763.3,514.9ZM787.7,355.6 782.3,356.7 781.9,361.6 783.5,365.8 784.5,370 782.5,374.1 780.4,378.3 776.2,382.5 771,386.6 767.9,388.7 765.8,393.9 762.7,398.1 761.6,403.3 759.8,406.1 759.6,406.4 759.6,406.4 764.8,413.7 772.1,407.4 777.3,401.2 781.4,398.1 786.9,397.4 788.7,392.9 790.3,387.7 790.8,383.5 793.8,384 796,374.1 794.9,364.8 794.9,364.8 794.9,364.8 789.7,367.1ZM753.7,415.3 759.9,420 764.9,418.3 771.6,415.8 778.2,413.3 783.2,415 782.5,413.7 784.5,407.4 785.6,403.3 786.6,398.1 786.9,397.4 781.4,398.1 777.3,401.2 772.1,407.4 764.8,413.7 759.6,406.4ZM793.8,384 793.9,384 797,383.5 798.1,379.3 799.6,375.7 801.2,375.2 806.4,379.3 809.9,386.7 814.7,386.6 819.9,386.6 821.1,385.1 824.1,381.4 827.2,378.3 831.4,375.2 831.7,375.8 832.5,372.5 835,368.3 834.2,364.1 828.2,362.7 824.1,360.6 819.9,362.2 816.8,361.6 808.5,358.5 806.4,357 803.3,356.4 799.1,358 795.8,354 794.9,364.8 794.9,364.8 796,374.1ZM764.1,349.9 764.1,350.7 763.2,356.6 761.6,363.2 758.3,368.2 753.3,369.9 749.9,376.5 743.3,378.2 738.3,381.5 733.3,379.9 731.6,388.2 734.2,394.2 738.3,396.6 739.1,396.6 743.3,393.3 744.1,387.5 745,384.1 746.6,381.6 748.7,383.7 750.8,382.5 750,379.1 750.8,379.1 753.3,380 758.5,380.4 760.1,376.2 760.6,371 763.7,366.9 768.9,363.7 769.9,359.1 766.6,349.9 764.9,343.2 764.5,340.7ZM851.4,378.8 849.2,376.6 850.8,374.9 849.2,371.6 846.7,368.3 844.9,364.1 844.2,360 842.6,356.3 840.8,355 835.8,358.3 834.2,364.1 835,368.3 832.5,372.5 831.7,375.8 831.7,375.8 836.6,378.3 840.8,379.1 845,378.3 849.1,377.4ZM800,353.2 795.8,354 799.1,358 803.3,356.4 806.4,357 808.5,358.5 816.8,361.6 819.9,362.2 824.1,360.6 828.2,362.7 834.2,364.1 831.7,362.5 824.2,358.3 821.9,349.1 821.2,349.3 813.1,350.8 808.5,351.6ZM222.4,189.9 222.4,189.9 222.4,189.9ZM544.9,264.1 544.9,264 544.9,264ZM544.8,248.5 549,244.9 549.1,244.1 545,248.2ZM551.5,228.2 549.1,244.1 550,243.2ZM624.1,269.9 624.1,269.9 624.1,269.9ZM705.2,506.7 704.8,504.9 698.2,484.4 703.3,504.9 703.6,505.9ZM616.6,525.8 616.6,525.8 616.6,525.8ZM720,378.2 719.1,388.2 718.8,394.9 720.8,386.7ZM782.3,356.7 787.7,355.6 787.7,355.5 782.3,356.6ZM795.8,354 800,353.2 800,353.1 795.8,353.9ZM821.9,349 821.5,349.1 813.1,350.7 813.1,350.8 821.2,349.3 821.9,349.1ZM821.1,385.1 826.2,381.2 829.9,379.9 834.9,382.4 832.1,376.6 831.7,375.8 831.7,375.8 831.7,375.8 831.7,375.8 831.4,375.2 827.2,378.3 824.1,381.4ZM834.9,382.4 834.9,382.4 834.9,382.5ZM752.7,415.4 753.3,415 753.3,415 746.8,410.1 750.2,413.7ZM746.3,409.5 746.6,410 746.8,410.1ZM831.7,375.8 831.7,375.8 831.7,375.8 831.7,375.8ZM832.1,376.6 831.7,375.8 831.7,375.8ZM831.7,375.8 831.7,375.8 831.7,375.8Z"/>
<path fill="#ffff00" stroke="#ffff00" stroke-width="0.6" fill-rule="evenodd" d="M222.4,189.9 219.1,194.9 218.3,203.3 221.6,208.3 221.6,214.9 226.6,221.6 228.2,225.7 228.2,225.7 235.7,224.9 237.4,239.1 241.6,234.9 250.7,235.7 259.9,234.9 269.9,235.7 272.4,239.9 281.5,238.2 288.2,239.9 300,234.9 300.3,224.9 300.3,224.9 299.1,219.9 299.6,213.3 300,206.6 286.5,203.3 281.5,199.9 271.5,201.6 269,205.8 262.4,207.4 254.9,204.1 249.9,199.1 241.6,199.1 236.6,200.8 229.9,198.3 223.2,196.6ZM363.2,178.6 315,175.8 315,175.8 313.6,183.3 310.8,190 309.6,198.3 308.6,204.9 301.6,206.6 300,206.6 299.6,213.3 299.1,219.9 300.3,224.9 300.3,224.9 311.6,226.9 319.9,228.3 330.8,229.9 331.6,219.9 334.1,219.9 334.6,223.3 336.6,220.8 343.3,221.6 347.4,225.8 351.6,229.9 355.7,231.2 357.4,226.6 356.6,216.6 361.2,215.8 361.2,215.8 362,201.6ZM362,201.6 361.2,215.8 361.2,215.8 369.9,217.4 378.2,218.3 379.1,227.4 386.5,226.6 393.2,227.9 393.2,227.9 411.5,227.4 413.2,223.3 416.5,219.9 416.5,219.9 417.3,206.7 411.5,206.9 389.9,207.4 386.5,206.6 384.9,200.8 378.2,199.9 373.2,201.6 369.9,199.1 362,201.6ZM430,179.6 403.2,180 404,190 409.9,190.8 411.5,206.9 417.3,206.7 430,206.3 449.1,206.3 446.6,202.4 440.8,200.8 439.1,194.9 435,193.3 433.3,179.6ZM474.1,209.8 450,209.9 450,209.9 450,223.2 450.8,235.2 450.8,235.2 478.3,234.1 478.3,234.1 476.6,219.9 474.1,209.9ZM478.3,234.1 479.9,239.9 481.6,246.6 480.8,250.7 478.3,258.2 483.3,264 484.1,273.1 484.1,273.2 484.3,281.5 501.6,281.2 501.6,281.2 500.7,274.9 503.2,273.2 503.2,263.2 504.9,261.5 504.1,239.9 502.9,230.7 486.6,232.4ZM516.6,229.1 516.6,229.1 515.7,239.9 511.6,236.6 509.9,231.6 509.1,228.2 502.9,230.7 504.1,239.9 504.9,261.5 503.2,263.2 503.2,273.2 500.7,274.9 501.6,281.2 510.7,282.3 511.6,282.4 526.5,281.5 536.5,280.7 536.5,280.6 537.4,272.4 534,274.9 529.9,273.2 528.2,269.9 529.9,266.5 530.7,258.2 527.4,256.5 526.5,249.9 524.9,242.4 516.6,239.9ZM539.7,273.2 537.4,272.4 537.4,272.4 536.5,280.6 539.9,280.8 541.5,303.8 551.5,303.3 551.5,303.3 572.3,300.8 572.3,300.8 571.6,295.7 565,288.2 556.6,281.5 546.7,276.5ZM485.8,306.6 483.3,309.9 484.9,316.6 483.3,323.3 485,327.3 485.8,329.1 518.2,326.6 518.8,326.6 518.2,325.8 517.4,305 517.4,305 511.6,305.3ZM541.5,303.8 517.4,305 518.2,325.8 518.8,326.6 552.4,324.9 552.4,324.9 551.5,303.3 551.5,303.3ZM572.3,300.8 551.5,303.3 552.4,324.9 552.4,324.9 553.2,330.8 558.2,329.9 558.2,329.9 558.2,329.9 558.2,348.2 558.2,348.2 571.5,349.9 581.1,352.2 580.8,350.7 586.6,346.6 591.6,343.2 595,338.3 594.1,331.6 587.5,326.6 585.8,323.3 585.6,323.1 580,318.3 575.7,308.3ZM485.8,329.1 486.6,330.9 488.3,334.9 491.6,343.2 493.3,350.7 493.3,350.7 523.2,349.9 523.2,349.9 524.1,338.3 520.7,334.9 519.9,328.3 518.8,326.6 518.2,326.6ZM518.8,326.6 519.9,328.3 520.7,334.9 524.1,338.3 523.2,349.9 548.2,349.1 548.2,349.1 558.2,348.2 558.2,329.9 558.2,329.9 553.2,330.8 552.4,324.9 552.4,324.9 552.4,324.9ZM493.3,350.7 496.6,356.6 497.4,363.2 498.6,369 499.1,371.6 500.1,373.5 521.6,373.2 521.6,373.2 520.7,358.2 523.2,349.9 523.2,349.9ZM548.2,349.1 548.2,349.1 523.2,349.9 520.7,358.2 521.6,373.2 553.2,370.7 553.2,370.7 553.2,356.6 549,355.7ZM558.2,348.2 548.2,349.1 549,355.7 553.2,356.6 553.2,370.7 570.7,368.2 575.2,372.7 577.5,366.6 582.5,358.2 581.1,352.2 571.5,349.9 558.2,348.2ZM500.1,373.5 503.2,379.9 506.6,387.4 506.6,387.4 513.2,389.9 515.7,393.2 514.1,398.2 518.4,407.1 521.6,406.6 521.6,406.6 521.6,406.6 524.9,410.8 533.2,409.1 539.9,407.5 549.9,406.6 550.3,406.3 552.4,405 552.6,405 554.2,404.1 555.4,403.2 556.5,398.2 555.4,394.2 555,393.3 554.8,392 553.2,386.5 553.2,383.3 553.2,370.7 553.2,370.7 521.6,373.2 521.6,373.2ZM575.2,372.7 570.7,368.2 553.2,370.7 553.2,383.3 554.8,392 555.4,394.2 558.3,400.8 555.4,403.2 554.9,405.3 558.2,405.8 558.2,405.8 563.2,411.6 568.2,415.8 568.2,415.8 568.2,415.8 569.8,420.8 576.5,421.6 577.3,423.3 580,422.5 590.8,421.6 592.5,415.8 599.9,416.6 599.9,416.6 600.8,412.5 600.8,412.5 601.6,407.5 598.3,405 591.6,405.7 586.6,399.9 580,393.2 579.2,388.3 576.5,381.5 576.4,380.2 575,373.2ZM484.3,281.5 484.4,285.7 485.1,296.6 485.8,306.6 511.6,305.3 510.7,292.5 507.4,291.6 507.4,288.3 510.7,282.3 501.6,281.2 501.6,281.2ZM536.5,280.6 536.5,280.7 526.5,281.5 511.6,282.4 510.7,282.3 507.4,288.3 507.4,291.6 510.7,292.5 511.6,305.3 517.4,305 517.4,305 541.5,303.8 539.9,280.8 536.5,280.6ZM523,440.8 524.1,455.8 524.1,455.8 526.6,466.6 557.4,465.2 557.4,465.2 570.7,463.2 569.8,453.3 567.3,449.9 566.5,438.3 562.4,433.3 550.7,432.4 548.2,434.9 540.7,435.8 539.9,440.8 533.2,439.9ZM529.1,485.3 529.1,484.9 527.9,476.6 519.9,477.4 513.2,479.1 512.4,484.1 506.6,485.7 499.9,484.1 498.3,479.9 499.1,486.6 496.6,488.2 498.3,494.9 499.9,497.4 506.6,496.5 513.2,494.9 519.9,496.5 524.1,494 530,494.9ZM531.3,519.6 530.7,503.2 530,494.9 524.1,494 519.9,496.5 513.2,494.9 506.6,496.5 499.9,497.4 493.3,499 492.4,507.4 494.9,511.5 501.6,513.2 507.4,514 506.6,518.2 505.7,525.7 505.7,529.1 511.6,528.3 514.8,527.2 516.6,526.6 519.9,528.3 526.6,531.6 531.9,531.6 531.6,525.7 531.3,520ZM557.4,465.2 557.4,465.2 526.6,466.6 527.9,476.6 529.1,484.9 529.1,485.3 559,484.4 558.2,474.9ZM531.9,531.6 526.6,531.6 519.9,528.3 516.6,526.6 514.8,527.2 514.9,539.1 506.6,541.6 504.9,549.9 501.6,553.3 501.6,563.3 496.6,564.1 502.4,571.6 495.8,577.4 500.7,584.9 489.9,593.2 491.6,601.6 498.3,604.9 502.4,609.9 504.9,614.9 504.9,614.9 508.2,614 514.9,613.2 521.6,611.6 523.2,607.4 529.9,604.9 534.9,611.6 541.5,609.9 552.4,608.2 552.4,608.2 551.5,603.2 552.9,595.2 553.2,593.2 551.5,586.6 548.2,578.3 544.9,573.3 544.9,573.3 543.2,566.6 542.4,556.6 541.5,546.6 541.5,546.6 539.9,535ZM491.6,601.6 483.3,606.6 474.9,609.1 466.6,608.2 463.6,604.9 460.8,616.5 453.3,624.9 445,629 437.5,629 436.7,641.8 447.4,641.9 447.9,638.3 454.9,639.1 459.9,644.9 464.9,651.6 467.4,659.9 468.2,666.6 466.6,671.6 465.7,676.6 464.1,678.2 464.9,685.7 469.9,683.2 476.6,680.7 480.9,680.8 481.6,678.2 483.2,671.6 484.9,666.6 489.9,661.6 492.8,657.9 489.9,656.6 484.9,653.3 484,648.3 486.6,645.7 493.3,639.9 499.9,631.5 506.6,623.2 504.9,614.9 504.9,614.9 502.4,609.9 498.3,604.9ZM585.6,323.1 585.8,323.3 587.5,326.6 594.1,331.6 595,338.3 591.6,343.2 586.6,346.6 580.8,350.7 581.1,352.2 583.3,354.9 591.6,354.1 598.3,353.2 599.7,352.7 604.9,350.7 614.9,351.1 614.1,341.6 615.8,338.3 614.9,320 599.9,321.6 599.9,321.6ZM575.2,372.7 575.7,373.2 576.4,380.2 576.6,381.5 579.1,388.2 579.2,388.3 588.3,387.4 596.6,379 599.9,374.9 603.3,368.2 600.8,364.9 599.7,352.7 598.3,353.2 591.6,354.1 583.3,354.9 581.1,352.2 582.5,358.2 577.5,366.6ZM614.9,351.1 604.9,350.7 599.7,352.7 600.8,364.9 603.3,368.2 599.9,374.9 596.6,379 601.6,378.2 603.3,381.5 609.9,380.7 616.6,382.4 619.1,386.5 619.1,386.5 624.9,382.4 625.8,376.5 628.3,373.2 627.4,365.7 624.9,359.9 619.1,359.1 617.4,351.4 614.9,351.1ZM642.1,344 633.2,344.9 628.3,349.1 618.3,351.6 617.4,351.4 619.1,359.1 624.9,359.9 627.4,365.7 628.3,373.2 625.8,376.5 624.9,382.4 624.9,382.4 633.2,379.9 646.2,377.4 646.2,377.4 644.9,361.9 644.9,361.6 643.2,351.6ZM579.2,388.3 580,393.2 586.6,399.9 591.6,405.7 598.3,405 601.6,407.5 600.8,412.5 611.6,410.8 617.9,410 617.4,405.7 618.3,394.9 619.1,386.5 619.1,386.5 616.6,382.4 609.9,380.7 603.3,381.5 601.6,378.2 596.6,379 588.3,387.4ZM624.9,382.4 619.1,386.5 618.3,394.9 617.4,405.7 617.9,410 617.9,410 621.6,410 621.6,410 623.3,415 628.3,415.3 628.3,410.8 636.6,410.8 645.7,409.6 648.2,410 648.2,410 649.9,405.7 648.2,391.5 648.2,391.5 646.2,377.4 633.2,379.9 624.9,382.4ZM600.8,412.5 600.8,412.5 599.9,416.6 599.9,416.6 606.6,423.3 613.3,430 618.3,436.6 619.9,442.4 623.3,445.8 628.3,442.4 631.6,439.9 630.7,429.1 622.4,428.3 621.6,410 617.9,410 617.9,410 611.6,410.8ZM648.2,410 645.7,409.6 636.6,410.8 628.3,410.8 628.3,415.3 623.3,415 621.6,410 621.6,410 622.4,428.3 630.7,429.1 631.6,439.9 634.9,443.3 637.4,442.4 637.4,442.4 636.6,438.3 641.6,433.3 642.4,425.8 643.2,420 644.9,415ZM681.5,411.6 681.5,411.6 678.2,413.3 673.2,416.6 669,420.8 666.5,428.3 664.9,438.3 669.9,443.3 674.9,448.3 694.8,446.6 696.5,446.3 700.7,443.3 701.5,436.6 704,430 698.2,426.6 692.4,423.3 694.8,418.3 691.5,411.6 686.5,407.5 683.2,408.3ZM537.4,272.4 536.5,280.6 536.5,280.6ZM558.2,329.9 558.2,329.9 558.2,329.9ZM575.7,373.2 575.2,372.7 575,373.2 576.4,380.2ZM553.2,383.3 553.2,386.5 554.8,392ZM555.4,394.2 554.8,392 555,393.3ZM555.4,394.2 556.5,398.2 555.4,403.2 558.3,400.8ZM554.9,405.3 555.4,403.2 554.2,404.1 552.6,405 554.5,405.3ZM576.4,380.2 576.5,381.5 579.2,388.3 579.1,388.2 576.6,381.5ZM521.6,406.6 521.6,406.6 521.6,406.6ZM552.6,405 552.4,405 550.3,406.3ZM568.2,415.8 568.2,415.8 568.2,415.8Z"/>
<path fill="#ffc800" stroke="#ffc800" stroke-width="0.6" fill-rule="evenodd" d="M50.7,198.5 50,198.3 42.2,197.4 39.1,210 35.8,221.6 31.6,233.3 27.5,246.6 22.5,256.6 17.5,264.9 14.2,269.9 13.3,278.3 12.5,284.9 14.7,290.7 14.7,290.7 21.3,292.1 21.3,292.1 22.5,286.6 20,282.4 23.3,280.7 25,276.6 28.3,269.9 30.8,264.1 35,257.4 35.8,253.3 35.8,253.3 33.3,248.3 34.1,243.3 37.5,235.8 40.8,228.3 44.1,221.6 45,213.3 50.8,208.3ZM21.3,292.1 46.6,297.4 46.6,297.4 49.9,283.2 50.7,279.7 51.6,274.9 56.6,273.3 57.4,262.9 57.4,262.9 49.9,260.3 49.9,260.3 41.6,259.1 35.8,253.3 35,257.4 30.8,264.1 28.3,269.9 25,276.6 23.3,280.7 20,282.4 22.5,286.6 21.3,292.1ZM14.7,290.7 12.5,294.9 13.3,301.6 10,311.6 6.7,318.2 2.5,323.2 2,329.9 5,336.5 6.7,345.7 5,351.6 4.2,360 8.3,366.6 11.7,374.9 13.3,381.6 15.8,386.6 20,385.8 22.5,386.6 30,386.6 35.8,387.4 35.8,387.4 35,378.3 31.6,374.9 25,369.9 20,361.6 21.6,356.6 25.8,350 25,345.7 25,333.2 30,326.5 33.3,318.2 38.3,314 46.6,314.9 54.9,318.2 61.6,314.9 68.3,309.9 71.6,304.1 46.6,297.4 46.6,297.4 21.3,292.1ZM143.2,263.8 144.8,267.4 140.7,283.2 140.5,284 143.3,289.1 146.6,293.3 155,299.9 163.3,303.3 168.3,303.6 169.1,298.3 166.6,295.8 160.8,290 157.5,281.6 157.5,273.3 160.8,266.6 161.6,257.5 158.3,253 153.3,255 146.6,263.3ZM22.5,386.6 25,391.6 25.8,399.9 21.6,398.3 20,393.3 18.3,399.9 20,406.6 25,413.2 26.6,418.2 23.3,420.7 23.3,426.6 26.6,434.9 30.8,443.2 35,451.5 36.6,458.2 38.6,460.5 38.6,460.5 41.6,460 46.6,457 53.6,459 53.3,453.2 50.8,443.2 45.8,433.2 44.1,421.6 40,409.9 36.6,398.3 35.8,387.4 35.8,387.4 30,386.6ZM68.3,377.9 61.6,377.4 54.9,375.8 48.3,376.6 41.6,381.6 35.8,387.4 36.6,398.3 40,409.9 44.1,421.6 45.8,433.2 50.8,443.2 53.3,453.2 53.6,459 58.3,465 63.3,469.1 72.4,471.9 72.4,471.9 78.3,469.1 81.6,465.7 84.9,458.2 89.9,449.9 90.7,439.9 88.2,429.9 84.9,419.9 81.6,409.9 78.3,405.7 78.3,405.7 76.6,401.6 74.9,394.9 71.6,386.6ZM450,531.6 445.7,532.5 445.7,541.6 434.8,542.4 432.4,552.4 432.9,571.6 439.8,572.4 439.8,585.7 439.8,585.7 448.3,586.6 455.8,589.9 460,586.6 465.8,598.2 463.6,604.9 463.6,604.9 466.6,608.2 474.9,609.1 483.3,606.6 491.6,601.6 489.9,593.2 500.7,584.9 495.8,577.4 502.4,571.6 496.6,564.1 501.6,563.3 501.6,553.3 504.9,549.9 506.6,541.6 514.9,539.1 514.8,527.2 511.6,528.3 505.7,529.1 505.7,529.1 503.2,530 496.6,532.5 491.6,530.8 486.6,528.3 481.6,532.5 479.9,530 474.9,530.8 469.9,528.3 465,530 461.9,525.5 461.6,525 455,525 454.1,530.8ZM310,571.1 294.8,570.2 294.8,574.5 298.2,577.4 303.2,582.4 310,588.5 311.2,590 316.2,595 322.5,600 326.8,603.7 329.3,610 331.2,616.2 331.8,621.2 334.3,626.8 340,631.2 346.2,635.6 352.4,639.3 358.1,643 361.8,643.4 364.9,639.9 367.4,637.4 368.1,632.4 370.6,627.4 372.4,625.6 377.4,624.9 379.3,623.1 382.4,624.7 387.4,624.9 389.9,624.9 390.7,613.2 392.4,608.2 390.7,604.9 386.6,598.2 379.9,596.6 380.7,582.7 380.7,582.7 380.7,573.2 365.8,572.7 330,571.6 330,571.6ZM389.9,624.9 389.9,624.9 394.9,624.9 398.6,628.7 403.6,633.1 408.6,637.4 411.8,641.4 436.6,641.8 436.7,641.8 437.5,629 445,629 453.3,624.9 460.8,616.5 463.6,604.9 463.6,604.9 463.6,604.9 465.8,598.2 460,586.6 455.8,589.9 448.3,586.6 439.8,585.7 434.8,586.6 429.9,584.9 419,584.6 419,574.1 401.2,573.2 399.9,582.4 380.7,582.7 379.9,596.6 386.6,598.2 390.7,604.9 392.4,608.2 390.7,613.2ZM430,206.3 417.3,206.7 416.5,219.9 416.5,219.9 424.8,220.3 425.7,234.9 427.3,235.7 450.8,235.2 450.8,235.2 450.8,235.2 450,223.2 450,209.9 449.1,206.3 449.1,206.3ZM427.3,235.7 427.3,235.7 428.2,251.2 442.5,252.4 442.5,252.4 480.8,250.7 481.6,246.6 479.9,239.9 478.3,234.1 450.8,235.2 450.8,235.2ZM480.8,250.7 442.5,252.4 442.5,252.4 442.5,274.5 442.5,274.5 484.1,273.1 483.3,264 478.3,258.2ZM442.5,274.5 442.5,285.7 442.5,298.3 442.5,298.3 485.1,296.6 484.4,285.7 484.3,281.5 484.1,273.2 484.1,273.1 442.5,274.5ZM442.5,298.3 442.5,309.6 442.5,320.6 451.6,320.8 455,323.3 455,323.3 461.6,324.1 468.3,322.4 474.9,323.3 479.9,325.8 484.1,328.3 485.8,329.1 485,327.3 483.3,323.3 484.9,316.6 483.3,309.9 485.8,306.6 485.1,296.6 442.5,298.3ZM485.8,329.1 484.1,328.3 479.9,325.8 474.9,323.3 468.3,322.4 461.6,324.1 455,323.3 455.1,348.2 455.1,354.1 461.6,351.6 463.3,347.4 484.9,346.6 491.6,348.2 493.3,350.7 493.3,350.7 491.6,343.2 488.3,334.9 486.6,330.9ZM498.6,369 497.4,363.2 496.6,356.6 493.3,350.7 491.6,348.2 484.9,346.6 463.3,347.4 461.6,351.6 455.1,354.1 455.2,372.4 455.2,372.4 478.3,371.2 479.1,374.9 485.8,374.9 486.3,369.1ZM500.1,373.5 499.1,371.6 498.6,369 486.3,369.1 485.8,374.9 479.1,374.9 478.3,371.2 455.2,372.4 455.3,388.5 480.8,388 506.6,387.4 503.2,379.9ZM518.4,407.1 514.1,398.2 515.7,393.2 513.2,389.9 506.6,387.4 506.6,387.4 480.8,388 480.8,388 479.9,394.9 480.8,405.7 483.3,407.5 490.8,408.3 491.6,405.8 501.6,405.8 506.6,407.5 511.6,410 515.7,407.5 518.4,407.1ZM518.4,407.1 515.7,407.5 511.6,410 506.6,407.5 501.6,405.8 491.6,405.8 490.8,408.3 483.3,407.5 480.8,405.7 482.4,413.3 484.1,429.9 491.6,431.6 492.4,429.1 498.3,429.9 499.1,432.4 522.4,431.3 522.4,431.3 521.6,406.6ZM484.1,429.9 478.3,429.1 478.6,457.4 484.9,457.2 524.1,455.8 523,440.8 522.4,431.3 499.1,432.4 498.3,429.9 492.4,429.1 491.6,431.6ZM521.6,406.6 522.4,431.3 522.4,431.3 523,440.8 533.2,439.9 539.9,440.8 540.7,435.8 548.2,434.9 550.7,432.4 562.4,433.3 563.2,429.9 566.5,421.6 568.2,415.8 568.2,415.8 563.2,411.6 558.2,405.8 558.2,405.8 554.9,405.3 554.5,405.3 552.6,405 550.3,406.3 549.9,406.6 539.9,407.5 533.2,409.1 524.9,410.8ZM524.1,455.8 484.9,457.2 484.9,457.2 485.8,461.6 481.6,466.6 482.4,472.4 483.3,476.6 489.9,478.2 498.3,479.9 498.3,479.9 499.9,484.1 506.6,485.7 512.4,484.1 513.2,479.1 519.9,477.4 527.9,476.6 526.6,466.6 524.1,455.8ZM461.6,513.2 461.9,525.5 465,530 469.9,528.3 474.9,530.8 479.9,530 481.6,532.5 486.6,528.3 491.6,530.8 496.6,532.5 503.2,530 505.7,529.1 505.7,529.1 505.7,525.7 506.6,518.2 507.4,514 501.6,513.2 494.9,511.5 492.4,507.4 486.6,506.7 483.3,508.3 472.4,509.2 471.6,512.5ZM518.4,407.1 518.4,407.1 521.6,406.6 521.6,406.6ZM461.6,513.2 461.6,513.2 471.6,512.5 472.4,509.2 483.3,508.3 486.6,506.7 492.4,507.4 486.6,506.5 483.3,508.2 469.9,509ZM463.6,604.9 463.6,604.9 463.6,604.9Z"/>
<path fill="#ff9600" stroke="#ff9600" stroke-width="0.6" fill-rule="evenodd" d="M42.7,129.6 43.1,135 44.3,138.7 48.5,141.2 55.1,144.1 61,147.5 66.8,149.1 70.1,149.6 72.6,147.5 72.6,137.1 61,134.2 52.6,131.7 47.2,129ZM55.1,151.3 52.6,149.1 48.5,145.8 44.3,143.7 43.9,145.8 42.7,150 43.1,156.6 43.9,162.5 44.3,168.3 45.2,174.9 44.3,178.3 45.2,183.3 43.5,186.6 43.9,189.9 41.8,193.3 42.2,197.4 50,198.3 50.7,198.5 53.6,199.7 53.5,190.8 53.1,184.9 53.9,179.9 56,175.8 59.7,171.6 61,165.8 59.3,160.8 56,156.6ZM67.6,179.5 71,177.4 72.6,174.9 73,171.6 72.6,168.3 73.5,165 73.9,161.6 72.6,158.3 71,156.5 66,155.4 61,154.1 56,152.1 55.1,151.3 56,156.6 59.3,160.8 61,165.8 59.7,171.6 56,175.8 53.9,179.9 53.1,184.9 53.5,190.8 53.6,199.7 55,199.9 55.8,200.6 55.8,200.6 56.1,200.8 59.1,203.2 60,212.4 70.3,217.7 69.6,213.2 68.3,206.6 69.9,201.6 76,197.8 77.6,196.6 81.8,194.1 81,192.4 78.5,190.8 81,188.3 82.6,183.3 83.5,178.3 84.3,172.5 85.9,169.1 89.3,170 85.9,164.1 82.6,161.6 81.4,158.3 82.6,152.5 83.5,145.8 83.1,139.7 76,138.3 76.8,142.9 78.9,146.6 75.8,150.8 76.8,155 77.2,160 78.4,162.8 81.4,168.3 80.1,174.1 76,179.1 69.3,184.1 63.5,187.9 60.3,187.4 60,183.7 62.6,179.1 65.1,175.8ZM90.9,141.5 90.9,141.5 83.5,139.8 83.1,139.7 83.5,145.8 82.6,152.5 81.4,158.3 82.6,161.6 85.9,164.1 89.3,170 85.9,169.1 84.3,172.5 83.5,178.3 82.6,183.3 81,188.3 78.5,190.8 81,192.4 81.8,194.1 77.6,196.6 76,197.8 69.9,201.6 68.3,206.6 69.6,213.2 70.3,217.7 73.3,216.2 80.3,218.2 80.3,218.2 81.9,211.6 83.6,204.9 84.3,197.8 85.1,194.1 85.9,188.3 85.1,183.3 85.9,178.3 86.8,173.3 89.3,171.6 90.1,169.1 87.6,165 90.1,162.5 89.3,160 91.8,157.5 95.9,153.3 97.6,150 88.4,149.1 89.3,145.8ZM106.8,145 106.8,145 90.9,141.5 89.3,145.8 88.4,149.1 97.6,150 95.9,153.3 91.8,157.5 89.3,160 90.1,162.5 87.6,165 90.1,169.1 89.3,171.6 86.8,173.3 85.9,178.3 85.1,183.3 85.9,188.3 85.1,194.1 84.3,197.8 86.4,194.1 87.6,188.3 88.4,181.6 90.1,176.6 93.4,174.1 94.3,169.1 97.6,164.1 99.3,158.3 102.6,155.8 105.5,152.5ZM116,146.8 106.8,145 105.5,152.5 102.6,155.8 99.3,158.3 97.6,164.1 94.3,169.1 93.4,174.1 90.1,176.6 88.4,181.6 87.6,188.3 86.4,194.1 84.3,197.8 83.6,204.9 81.9,211.6 80.3,218.2 88.3,219.9 91.6,218.2 95.8,214.9 93.3,211.6 90.8,206.6 93.3,198.3 98.3,189.9 103.2,189.9 105.7,186.6 103.2,179.9 105.7,174.9 106.6,166.6 110.7,168.3 111.6,162.5 118.2,156.6 121.6,148.1ZM129.1,149.8 121.6,148.1 118.2,156.6 111.6,162.5 110.7,168.3 106.6,166.6 105.7,174.9 103.2,179.9 109.9,181.6 119.9,184.1 128.2,188.3 134.9,192.4 141.5,196.6 141.5,196.6 144.9,187.4 144.9,187.4 136.5,181.6 131.6,174.9 129.9,168.3 128.2,158.3ZM67.6,179.5 67.6,179.5 67.6,179.5 65.1,175.8 62.6,179.1 60,183.7 60.3,187.4 63.5,187.9 69.3,184.1 76,179.1 80.1,174.1 81.4,168.3 78.4,162.8 78.5,162.9 76,165.8 75.1,170 74.7,174.9 72.6,177.9ZM55.8,200.6 55.8,200.6 53.6,199.7 50.7,198.5 50.8,208.3 45,213.3 44.1,221.6 40.8,228.3 37.5,235.8 34.1,243.3 33.3,248.3 35.8,253.3 35.8,253.3 41.6,259.1 49.9,260.3 49.9,260.3 56.6,251.6 58.3,245 59.1,236.6 60.8,230 64.9,223.3 70.3,217.7 60,212.4 59.1,203.2 56.1,200.8ZM49.9,260.3 57.4,262.9 64.4,257 64.9,256.6 66.6,245 70.8,235.8 70.8,235.8 74.1,228.3 70.3,217.7 64.9,223.3 60.8,230 59.1,236.6 58.3,245 56.6,251.6ZM114.9,311.9 114.9,311.9 134.9,316.2 134.9,316.2 137.4,299.9 140.5,284 140.7,283.2 144.8,267.4 143.2,263.8 138.2,263.3 134.9,259.9 128.2,259.9 124,263.3 122.4,266.6 119.9,279.9 116.5,296.6ZM78.3,306 71.6,304.1 71.6,304.1 68.3,309.9 61.6,314.9 54.9,318.2 46.6,314.9 38.3,314 33.3,318.2 30,326.5 25,333.2 25,345.7 25.8,350 21.6,356.6 20,361.6 25,369.9 31.6,374.9 35,378.3 35.8,387.4 41.6,381.6 48.3,376.6 54.9,375.8 61.6,377.4 68.3,377.9 68.3,377.9 68.3,377.9 68.3,377.9 64.9,368.3 64.1,360.8 69.9,358.3 71.6,355 66.6,348.3 64.9,345.7 58.3,338.2 57.4,334 66.6,328.2 73.3,323.2 77.4,314.9ZM114.9,311.9 83.2,307.4 76.6,345.7 68.3,377.9 68.3,377.9 77.2,389.3 81.6,389.6 87.4,388.3 88.2,380.8 89.9,375.8 106.6,379.1 111.6,377.4 111.6,377.4 113.2,371.6 117.4,365 118.2,358.3 124.9,348.3 129.9,347.5 131.5,345.7 133.2,329.9 134.9,316.2 134.9,316.2 134.9,316.2 134.9,316.2 114.9,311.9ZM140.5,284 137.4,299.9 134.9,316.2 185.8,324.9 185.8,319.1 179.9,315.8 173.3,309.9 168.3,303.6 163.3,303.3 155,299.9 146.6,293.3 143.3,289.1ZM226.6,330.4 211.6,328.4 211.6,338.2 209.9,346.6 206.6,353.2 201.6,359.9 199.9,364 203.2,369.9 203.3,369.9 203.3,370 206.6,376.5 208.1,381.9 208.3,382.4 208.4,382.4 208.9,382.4 214.9,381.7 220.7,383 220.7,382.9 219.9,373.2 218.2,363.2 218.2,363.2 219.9,349.9 220.7,336.6 225.7,335.7ZM300.3,224.9 300,234.9 310,234.9 312.5,241.6 313.6,249.9 314.1,253.2 315.3,258.2 314.6,264.9 321.6,265.7 322.4,269.5 322.4,269.5 349.9,271.6 359.9,272.4 360.7,250.4 360.7,250.4 361.2,215.8 356.6,216.6 357.4,226.6 355.7,231.2 351.6,229.9 347.4,225.8 343.3,221.6 336.6,220.8 334.6,223.3 334.1,219.9 331.6,219.9 330.8,229.9 319.9,228.3 311.6,226.9ZM361.2,215.8 360.7,250.4 394,251.2 393.2,227.9 393.2,227.9 386.5,226.6 379.1,227.4 378.2,218.3 369.9,217.4ZM416.5,219.9 416.5,219.9 413.2,223.3 411.5,227.4 393.2,227.9 394,251.2 394,251.2 400.7,251.2 428.2,251.2 427.3,235.7 427.3,235.7 425.7,234.9 424.8,220.3 416.5,219.9ZM360.7,250.4 360.7,250.4 359.9,272.4 359.5,281.5 400.3,284 400.4,273.5 400.7,251.2 394,251.2 394,251.2ZM428.2,251.2 400.7,251.2 400.4,273.5 400.4,273.5 430,274.5 442.5,274.5 442.5,252.4ZM430,274.5 400.4,273.5 400.4,273.5 400.3,284 400.1,302.4 400.1,302.4 408.2,300.8 413.2,303.6 419.8,303 430,304.6 432.5,309.1 442.5,309.6 442.5,298.3 442.5,285.7 442.5,274.5ZM399.9,319.4 430,320.3 442.5,320.6 442.5,309.6 432.5,309.1 430,304.6 419.8,303 413.2,303.6 408.2,300.8 400.1,302.4 400.1,302.4ZM450,388.6 433.2,389.6 433.2,389.6 433.5,407.5 450,405.3 453.3,405 460.8,403.3 463.3,410 473.3,410 474.1,406.6 480.8,405.7 479.9,394.9 480.8,388 480.8,388 455.3,388.5 455.3,388.5ZM434,427.4 436.5,459.1 478.3,457.4 478.6,457.4 478.3,429.1 478.3,429.1 461.6,429.9 455,430.8 450,428.6 445.7,429.1 444.8,427.4ZM425.7,493.2 414.9,492.9 414.5,502.4 404.9,502.4 404.9,511.5 406.5,515.7 406.5,520 404.9,543.3 395.7,543.6 395.7,552.4 391.9,553.3 392.4,563.3 401.2,563.6 401.2,573.2 401.2,573.2 419,574.1 419,584.6 429.9,584.9 434.8,586.6 439.8,585.7 439.8,585.7 439.8,572.4 432.9,571.6 432.4,552.4 434.8,542.4 445.7,541.6 445.7,532.5 450,531.6 454.1,530.8 455,525 455,525 450,525 441.5,521.6 436.5,517.5 431.5,518.3 426.5,515 425.9,515.7 425.9,516 425.9,515.7 425.7,503.2 425.7,503.2 425.7,503.2 425.7,503.2ZM435.2,478.5 438.2,480.7 434.8,484 431.5,485.7 426.2,484 426,503.2 431.5,503.2 450,502.6 452.5,502.4 452.5,494 457.5,493.2 460.8,496.5 458.3,490.7 460,488.2 459.1,479.6 459.1,479.6ZM425.9,515.7 426.5,515 431.5,518.3 436.5,517.5 441.5,521.6 450,525 455,525 455,525 461.6,525 461.9,525.5 461.6,513.2 461.6,513.2 461.6,513.2 461.6,513.2 460.8,496.5 460.8,496.5 457.5,493.2 452.5,494 452.5,502.4 450,502.6 430.8,504 426,503.2ZM246.6,581.2 246.6,581.2 264,582.9 264.5,573.5 294.8,574.5 294.8,570.2 310,571.1 330,571.6 324.1,558.3 324.1,558.3 320.8,561.6 315,562.4 311.6,556.6 311.6,544.9 312.5,535 312.5,525 310,524.1 307.5,531.6 303.2,534.9 303.2,534.9 301.5,536.6 300.7,546.6 299.8,559.9 298.2,564.1 294.8,556.6 289.9,553.2 287.4,551.6 288.2,543.2 287.4,539.1 283.2,536.6 283.2,536.6 278.2,537.4 276.5,543.2 274.9,549.9 274,554.9 269.9,553.2 266.5,550.7 263.2,547.4 259.1,539.9 257.4,533.3 255.7,527.9 254.1,529.9 250.5,535 250.5,535ZM436.5,459.1 439,463.2 439.8,469.1 434.8,469.9 434.8,478.2 435.2,478.5 459.1,479.6 459.1,479.6 478.3,478.2 483.3,476.6 482.4,472.4 481.6,466.6 485.8,461.6 484.9,457.2 484.9,457.2 478.6,457.4 478.3,457.4ZM483.3,476.6 478.3,478.2 459.1,479.6 460,488.2 458.3,490.7 460.8,496.5 460.8,496.5 461.6,513.2 461.6,513.2 469.9,509 483.3,508.2 486.6,506.5 492.4,507.4 493.3,499 499.9,497.4 498.3,494.9 496.6,488.2 499.1,486.6 498.3,479.9 498.3,479.9 489.9,478.2ZM67.6,179.5 67.6,179.5 67.6,179.5ZM55.8,200.6 55,199.9 53.6,199.7ZM134.9,316.2 134.9,316.2 134.9,316.2 134.9,316.2ZM203.3,370 203.3,369.9 203.2,369.9ZM203.3,370 206.6,376.5 208.1,381.9 206.6,376.5ZM220.7,382.9 220.7,383 220.8,383 220.8,383ZM68.3,377.9 68.3,377.9 68.3,377.9ZM68.3,377.9 68.3,377.9 68.3,377.9ZM425.7,503.2 425.7,503.2 425.7,503.2ZM425.7,503.2 425.9,515.7 425.9,515.7 426,503.2ZM425.9,515.7 425.9,516 425.9,515.7ZM450,502.6 431.5,503.2 426,503.2 426,503.2 430.8,504ZM461.6,513.2 461.6,513.2 461.6,513.2Z"/>
<path fill="#ff6400" stroke="#ff6400" stroke-width="0.6" fill-rule="evenodd" d="M103.2,179.9 105.7,186.6 103.2,189.9 98.3,189.9 93.3,198.3 90.8,206.6 93.3,211.6 95.8,214.9 91.6,218.2 88.3,219.9 88.3,219.9 99.9,219.4 109.9,219.6 119.9,219.6 132.4,221.5 134.9,221.9 131.6,214.1 136.5,206.6 141.5,196.6 134.9,192.4 128.2,188.3 119.9,184.1 109.9,181.6ZM163.2,156.6 129.9,150 129.1,149.8 128.2,158.3 129.9,168.3 131.6,174.9 136.5,181.6 144.9,187.4 144.9,187.4 158.5,189.3ZM46.6,297.4 71.6,304.1 71.6,304.1 78.3,306 83.2,307.4 83.2,307.4 114.9,311.9 116.5,296.6 119.9,279.9 122.4,266.6 109.9,264.1 108.2,256.6 105.7,247.5 110.7,241.3 110.7,241.3 103.2,239.1 99.9,236.6 91.6,235.8 90.7,240 79.9,237.5 70.8,235.8 70.8,235.8 66.6,245 64.9,256.6 64.4,257 68.3,263.3 73.3,271.6 77.4,279.9 77.4,288.2 73.3,294.9 67.4,299.6 63.3,296.6 59.9,284.9 56.6,280.7 50.7,279.7 49.9,283.2ZM64.4,257 57.4,262.9 57.4,262.9 56.6,273.3 51.6,274.9 50.7,279.7 56.6,280.7 59.9,284.9 63.3,296.6 67.4,299.6 73.3,294.9 77.4,288.2 77.4,279.9 73.3,271.6 68.3,263.3ZM134.9,221.9 132.4,221.5 128.2,230 119.9,236.6 110.7,241.3 105.7,247.5 108.2,256.6 109.9,264.1 122.4,266.6 124,263.3 128.2,259.9 134.9,259.9 138.2,263.3 143.2,263.8 143.2,263.8 148.2,253.3 154,243.3 158.2,235 154.8,228.3 154.6,227.3 154.2,226.6 153.9,224.4 134.9,221.9ZM83.2,307.4 83.2,307.4 78.3,306 77.4,314.9 73.3,323.2 66.6,328.2 57.4,334 58.3,338.2 64.9,345.7 66.6,348.3 71.6,355 69.9,358.3 64.1,360.8 64.9,368.3 68.3,377.9 76.6,345.7ZM163.2,156.6 163.2,156.6 163.2,156.6 158.5,189.3 157.3,197.8 157.3,197.8 158.3,194.9 165,193.3 168.3,188.3 167.5,180 170,175.8 175.8,175.8 175.8,175.8 179.9,159.9 178.3,159.6ZM300,234.9 288.2,239.9 281.5,238.2 272.4,239.9 269.9,235.7 259.9,234.9 250.7,235.7 249.9,246.6 246.6,254.9 244.1,263.2 273.2,265.7 280.4,266.4 300,268.2 322.4,269.5 321.6,265.7 314.6,264.9 315.3,258.2 314.1,253.2 313.6,249.9 312.5,241.6 310,234.9ZM77.2,389.3 68.3,377.9 71.6,386.6 74.9,394.9 76.6,401.6 78.3,405.7 78.3,405.7 79.9,406.2 86.6,405.7 88.2,403.2 88.2,403.2ZM38.6,460.5 37.5,465.8 36.6,471.6 40.8,474.9 48.3,477.4 55.8,480.8 61.6,486.6 66.6,490.8 73.3,492.4 74.1,498.3 79.1,500.7 84.9,506.6 89.1,512.4 92.4,519.9 91.6,526.6 93.3,531.6 106.6,532.7 105.7,526.6 104.1,516.6 103.2,508.2 100.7,500.7 103.2,497.4 107.4,494.1 108.2,490.3 103.2,489.6 96.6,491.6 93.3,487.4 85.8,486.6 83.3,481.6 78.3,474.9 72.4,471.9 63.3,469.1 58.3,465 53.6,459 46.6,457 41.6,460ZM400.3,284 359.5,281.5 364.9,283.3 369.9,288.3 372.4,295 369.9,301.6 366.6,309.9 364.1,313.3 360.7,311.6 358.4,308.3 357.9,318.6 357.9,318.6 390.7,319.6 390.7,319.6 399.9,319.4 399.9,319.4 400.1,302.4ZM422.3,390.5 430,390.7 433.2,389.6 433.2,389.6 450,388.6 455.3,388.5 455.3,388.5 455.2,372.4 455.2,372.4 436.6,374 430,373.2 422.3,373.2 426.5,374.9 425.7,379.9 422.8,383.2 422.3,390.5ZM450,405.3 433.5,407.5 434,427.4 444.8,427.4 445.7,429.1 450,428.6 455,430.8 461.6,429.9 478.3,429.1 478.3,429.1 484.1,429.9 482.4,413.3 480.8,405.7 474.1,406.6 473.3,410 463.3,410 460.8,403.3 453.3,405ZM163.2,156.6 163.2,156.6 163.2,156.6ZM179.9,159.9 163.2,156.6 178.3,159.6ZM154.6,227.3 153.9,224.4 154.2,226.6Z"/>
<path fill="#ff3200" stroke="#ff3200" stroke-width="0.6" fill-rule="evenodd" d="M158.5,189.3 144.9,187.4 141.5,196.6 141.5,196.6 136.5,206.6 131.6,214.1 134.9,221.9 134.9,221.9 153.9,224.4 153.3,218.3 153.5,217.4 153.2,213.2 154.5,203.2 156.9,200.7 157.3,197.8ZM80.3,218.2 80.3,218.2 73.3,216.2 70.3,217.7 74.1,228.3 70.8,235.8 79.9,237.5 90.7,240 91.6,235.8 99.9,236.6 103.2,239.1 110.7,241.3 110.7,241.3 119.9,236.6 128.2,230 132.4,221.5 119.9,219.6 109.9,219.6 99.9,219.4 88.3,219.9 88.3,219.9ZM209.9,165 179.9,159.9 175.8,175.8 175.8,175.8 177.5,183.3 179.1,193.3 183.3,201.6 186.6,209.9 191.6,215.8 195.8,217.4 194.1,224.9 191.6,231.6 192.4,236.6 189.9,240.7 193.3,243.2 199.1,240.3 199.1,240.2 204.9,237.4 211.6,236.6 218.3,232.4 224.9,228.2 228.2,225.7 226.6,221.6 221.6,214.9 221.6,208.3 218.3,203.3 219.1,194.9 222.4,189.9 222.4,189.9 221.6,185 216.6,178.3 213.3,171.6ZM153.5,217.4 153.9,224.4 154.6,227.3 158.3,233.2 161.6,239.9 163.3,238.2 165,229.9 173.3,230.7 179.1,228.2 178.3,223.2 172.5,214.9 173.3,209.1 166.6,211.6 160,209.9 154.2,213.3ZM160.8,216.6 165,215.8 171.6,222.4 175.8,226.6 173.3,227.4 168.3,223.2 163.3,219.1ZM160.8,216.6 163.3,219.1 168.3,223.2 173.3,227.4 175.8,226.6 171.6,222.4 165,215.8ZM157.3,197.8 156.9,200.7 160,209.9 166.6,211.6 173.3,209.1 172.5,214.9 178.3,223.2 179.1,228.2 173.3,230.7 165,229.9 163.3,238.2 161.6,239.9 158.3,233.2 154.6,227.3 154.8,228.3 158.2,235 154,243.3 148.2,253.3 143.2,263.8 143.2,263.8 146.6,263.3 153.3,255 158.3,253 161.6,257.5 160.8,266.6 157.5,273.3 157.5,281.6 160.8,290 166.6,295.8 169.1,298.3 176.6,297.5 186.6,294.1 196.6,290 200.8,286.6 200.8,286.6 196.6,282.5 192.4,276.6 190.3,268.3 191.6,260 196.6,251.7 199.1,240.3 193.3,243.2 189.9,240.7 192.4,236.6 191.6,231.6 194.1,224.9 195.8,217.4 191.6,215.8 186.6,209.9 183.3,201.6 179.1,193.3 177.5,183.3 175.8,175.8 170,175.8 167.5,180 168.3,188.3 165,193.3 158.3,194.9 157.3,197.8ZM241.5,285.7 242.9,273 240.7,273 238.2,268.8 233.2,271.3 223.2,271.1 214.9,272.8 223.2,275 231.6,277.5 235.7,280 229.9,291.6 223.2,301.6 216.6,309.9 208.3,316.6 198.3,321.1 193.3,318.8 195.8,314.9 197.4,308.3 198.3,299.9 196.6,291.6 200.8,286.6 196.6,290 186.6,294.1 176.6,297.5 169.1,298.3 168.3,303.6 173.3,309.9 179.9,315.8 185.8,319.1 185.8,324.9 185.8,324.9 211.6,328.4 226.6,330.4 235.7,331.6 235.7,331.6 238.2,319.9 238.2,319.9 239.9,299.9ZM211.6,328.4 185.8,324.9 185.8,324.9 174.2,399.8 168.7,434.9 168.7,434.9 175.8,433.3 175.8,433.3 176.8,432.3 176.8,428.1 178.9,425 187.2,423.9 189.8,419.8 191.4,413.5 194.5,408.3 197.6,400 200,395 205,386.6 208.3,382.5 208.1,381.9 206.6,376.5 203.3,370 203.2,369.9 199.9,364 201.6,359.9 206.6,353.2 209.9,346.6 211.6,338.2ZM113.2,434.9 88.2,403.2 86.6,405.7 79.9,406.2 78.3,405.7 81.6,409.9 84.9,419.9 88.2,429.9 90.7,439.9 89.9,449.9 84.9,458.2 81.6,465.7 78.3,469.1 72.4,471.9 72.4,471.9 78.3,474.9 83.3,481.6 85.8,486.6 93.3,487.4 96.6,491.6 103.2,489.6 108.2,490.3 107.4,494.1 103.2,497.4 100.7,500.7 103.2,508.2 104.1,516.6 105.7,526.6 106.6,532.7 106.6,532.7 138.2,534.9 144,534.9 144,534.9 144.9,530.7 142.4,526.6 143.2,519.9 146.5,514.9 148.2,508.2 151.5,503.2 156.5,501.6 156.5,501.6 153.2,494.9 151.5,489.9 149.9,482.4 136.5,465.3ZM219.1,515.7 218.3,508.2 209.9,505.7 204.1,504.9 201.9,509.9 204.9,514.9 206.6,521.6 209.1,523.3 211.6,528.3 215.8,538.3 220.6,536.2 221.6,535.8 223.3,529.9 231.6,529.1 231.6,517.4ZM254.8,506.2 254.1,515.7 251.6,525.2 251.2,526.6 250.5,535 250.5,535 254.1,529.9 255.7,527.9 257.4,533.3 259.1,539.9 263.2,547.4 266.5,550.7 269.9,553.2 274,554.9 274.9,549.9 276.5,543.2 278.2,537.4 283.2,536.6 283.2,536.6 286.5,533.3 287.4,526.6 286.5,517.4 283.2,515.7 284.9,508.2 284,501.5 288.2,498.2 291.5,493.2 289.9,487.4 289.9,487.4 276.5,486.5 269.9,488.2 268.2,493.2 269.1,501.5 268.2,506.5ZM303.2,491.5 299.9,489.9 293.2,489 289.9,487.4 291.5,493.2 288.2,498.2 284,501.5 284.9,508.2 283.2,515.7 286.5,517.4 287.4,526.6 286.5,533.3 283.2,536.6 287.4,539.1 288.2,543.2 287.4,551.6 289.9,553.2 294.8,556.6 298.2,564.1 299.8,559.9 300.7,546.6 301.5,536.6 303.2,534.9 303.2,534.9 302.5,530 305,524.9 304.8,523.3 299.9,522 298.3,522.5 296.7,520 297.4,518.5 297.3,518.3 297.6,518.1 298.3,516.6 300.9,515.9 302.3,514.9 302.8,515.4 303.1,515.3 301.5,499.9ZM359.5,281.5 359,294.2 358.4,308.3 360.7,311.6 364.1,313.3 366.6,309.9 369.9,301.6 372.4,295 369.9,288.3 364.9,283.3ZM399.9,319.4 399.9,319.4 390.7,319.6 392.4,339.9 391.2,357.4 391.2,357.4 421.5,356.6 421.5,356.6 421.8,349.9 430,349.1 455.1,348.2 455.1,348.2 455,323.3 455,323.3 451.6,320.8 442.5,320.6 430,320.3ZM430,349.1 421.8,349.9 421.5,356.6 422.3,373.2 422.3,373.2 430,373.2 436.6,374 455.2,372.4 455.2,372.4 455.1,354.1 455.1,348.2 455.1,348.2ZM389.6,429.1 389.6,429.1 388.6,457.7 434.8,457.9 436.5,459.1 434,427.4 429.9,429.1ZM388.6,457.7 388.6,457.7 369.9,457.9 369.6,469.6 425.7,470.4 426.2,484 431.5,485.7 434.8,484 438.2,480.7 435.2,478.5 434.8,478.2 434.8,469.9 439.8,469.1 439,463.2 436.5,459.1 434.8,457.9ZM425.7,470.4 369.6,469.6 368.3,515.7 367.3,538.3 365.8,572.7 365.8,572.7 380.7,573.2 380.7,582.7 380.7,582.7 399.9,582.4 401.2,573.2 401.2,573.2 401.2,563.6 392.4,563.3 391.9,553.3 395.7,552.4 395.7,543.6 404.9,543.3 406.5,520 406.5,515.7 404.9,511.5 404.9,502.4 414.5,502.4 414.9,492.9 425.7,493.2 425.7,492.8ZM349.1,515.7 346.6,511.5 344.9,503.2 339.9,498.2 335,491.5 331.6,490.7 323.3,492.4 323.1,492.5 325.8,499.9 325,504.9 330,505.7 326.6,511.5 325.8,515.7 324.1,518.3 320.8,525 325,531.6 325,539.9 322.5,546.6 324.1,558.3 330,571.6 330,571.6 365.8,572.7 365.8,572.7 367.3,538.3 360.8,538.3 356.6,536.6 352.4,531.6 349.9,525ZM163.2,553.2 180,562.4 206.6,577.4 246.6,581.2 250.5,535 251.2,526.6 251.6,525.2 246.6,524.6 241.6,525.8 234.9,528.3 231.6,529.1 223.3,529.9 221.6,535.8 220.6,536.2 219.9,550.7 198.3,548.2 183.3,545.7 164.5,543.3ZM156.9,200.7 154.5,203.2 153.2,213.2 153.5,217.4 154.2,213.3 160,209.9ZM153.9,224.4 153.5,217.4 153.3,218.3ZM208.4,382.4 208.3,382.4 208.1,381.9 208.3,382.5ZM426.2,484 425.7,470.4 425.7,492.8 425.7,493.2 425.7,503.2 425.7,503.2 426,503.2ZM425.7,503.2 425.7,503.2 426,503.2 426,503.2ZM303.2,534.9 305.7,529.9 305,524.9 302.5,530ZM299.9,522 298.2,521.6 297.4,518.5 296.7,520 298.3,522.5ZM297.6,518.1 297.3,518.3 297.4,518.5ZM297.6,518.1 300.9,515.9 298.3,516.6ZM302.8,515.4 302.3,514.9 300.9,515.9ZM455.2,372.4 455.2,372.4 455.2,372.4Z"/>
<path fill="#ff0000" stroke="#ff0000" stroke-width="0.6" fill-rule="evenodd" d="M134.9,316.2 134.9,316.2 133.2,329.9 131.5,345.7 129.9,347.5 124.9,348.3 118.2,358.3 117.4,365 113.2,371.6 111.6,377.4 111.6,377.4 126.5,380.8 141.5,384.9 148.2,391.6 154.8,397.4 160,398.3 174.2,399.8 185.8,324.9ZM242.9,273 242.9,273 241.5,285.7 239.9,299.9 238.2,319.9 243.2,318.3 244,313.3 246.5,308.3 253.2,305.8 254,302.4 259.9,301.6 259.7,301.3 257.4,296.6 256.5,291.6 263.2,289.1 262.4,285 258.2,283.3 253.2,280 249,274.1 246.5,275.8ZM77.2,389.3 88.2,403.2 88.2,403.2 113.2,434.9 116.5,428.2 121.5,433.2 128.2,439.9 133.2,444.9 134.9,453.2 138.2,454.9 139.9,449.9 139,444 143.2,443.2 145.6,443.2 147.2,440.6 145.6,433.3 146.1,428.1 148.2,428.1 150.8,431.2 154.5,431.2 156,428.1 159.1,427.6 160.7,430.2 159.1,436.4 159.7,440.1 162.3,438.5 165.4,435.4 168.7,434.9 174.2,399.8 160,398.3 154.8,397.4 148.2,391.6 141.5,384.9 126.5,380.8 111.6,377.4 106.6,379.1 89.9,375.8 88.2,380.8 87.4,388.3 81.6,389.6ZM156.5,501.6 151.5,503.2 148.2,508.2 146.5,514.9 143.2,519.9 142.4,526.6 144.9,530.7 144,534.9 144,534.9 138.2,536.5 137.4,540.7 163.2,553.2 163.2,553.2 164.5,543.3 169,508.6 169.8,502.5 169.8,502.5 162.5,503.6ZM209,444.4 208,444.2 193.5,443.7 191.4,449.9 190.4,455.2 189.3,457.8 184.1,460.4 177.9,462.4 176.3,467.6 175.3,474.8 181.6,479.9 190,484.9 191.6,489.9 201.6,492.4 204.1,496.5 204.1,504.9 204.1,504.9 204.1,504.9 209.9,505.7 218.3,508.2 219.1,515.7 231.6,517.4 231.6,529.1 234.9,528.3 241.6,525.8 246.6,524.6 251.6,525.2 254.1,515.7 254.8,506.2 255.7,494.9 258.2,469.9 259.9,450.7 259.9,450.7 230,447.3ZM175.3,474.8 175.3,474.9 173.7,483.2 172.7,491.1 169.8,502.4 169.8,502.5 169,508.6 173.3,509 181.6,511.5 190,513.2 201.6,508.2 204.1,504.9 204.1,504.9 204.1,496.5 201.6,492.4 191.6,489.9 190,484.9 181.6,479.9ZM320,494 306.5,493.2 303.2,491.5 301.5,499.9 303.1,515.3 304.2,515 303.2,515.7 302.8,515.4 300.9,515.9 297.6,518.1 297.4,518.5 298.2,521.6 299.9,522 304.2,520.8 305.8,523.3 305,524.9 305.7,529.9 303.2,534.9 307.5,531.6 310,524.1 312.5,525 312.5,535 311.6,544.9 311.6,556.6 315,562.4 320.8,561.6 324.1,558.3 324.1,558.3 322.5,546.6 325,539.9 325,531.6 320.8,525 324.1,518.3 325.8,515.7 326.6,511.5 330,505.7 325,504.9 325.8,499.9 323.1,492.5ZM359.9,272.4 349.9,271.6 343.3,278.3 336.6,281.6 331.6,285 329.1,293.3 327.9,301.6 327.9,301.6 333.3,299.1 341.6,295.8 344.9,292.5 351.6,292.5 359,294.2 359.5,281.5ZM389.9,389.5 389.9,389.5 389.7,409.1 389.7,409.1 409.9,409.1 433.5,407.5 433.2,389.6 430,390.7 422.3,390.5ZM389.7,409.1 389.6,429.1 429.9,429.1 434,427.4 433.5,407.5 409.9,409.1 389.7,409.1ZM169,508.6 164.5,543.3 183.3,545.7 198.3,548.2 219.9,550.7 220.6,536.2 215.8,538.3 211.6,528.3 209.1,523.3 206.6,521.6 204.9,514.9 201.9,509.9 204.1,504.9 201.6,508.2 190,513.2 181.6,511.5 173.3,509ZM134.9,316.2 134.9,316.2 134.9,316.2ZM242.9,273 241.5,285.7 242.9,273 242.9,273ZM204.1,504.9 204.1,504.9 204.1,504.9ZM303.1,515.3 303.2,515.7 304.2,515ZM303.2,515.7 303.1,515.3 302.8,515.4ZM299.9,522 304.8,523.3 305,524.9 305.8,523.3 304.2,520.8Z"/>
<path fill="#be0000" stroke="#be0000" stroke-width="0.6" fill-rule="evenodd" d="M214.9,272.8 214.9,275 213.2,280 208.3,284.6 200.8,286.6 196.6,291.6 198.3,299.9 197.4,308.3 195.8,314.9 193.3,318.8 198.3,321.1 208.3,316.6 216.6,309.9 223.2,301.6 229.9,291.6 235.7,280 231.6,277.5 223.2,275ZM280.4,266.4 273.2,265.7 244.1,263.2 242.9,273 246.5,275.8 249,274.1 253.2,280 258.2,283.3 262.4,285 258.2,275 261.5,271.6 271.5,270ZM235.7,331.6 226.6,330.4 225.7,335.7 220.7,336.6 219.9,349.9 218.2,363.2 219.9,373.2 220.8,383 224.1,388.3 227.4,393.3 231.6,390.8 236.6,386.6 241.6,386.6 241.6,386.6 243.2,380 241.6,373.3 241.9,370.7 253.2,369 267,367.4 267,367.4 267.4,359.1 267.4,359.1 233.2,354.9ZM241.9,370.7 241.6,370.7 242.4,366.5ZM143.2,443.2 139,444 139.9,449.9 138.2,454.9 134.9,453.2 133.2,444.9 128.2,439.9 121.5,433.2 116.5,428.2 113.2,434.9 136.5,465.3 149.9,482.4 150.3,482.2 151.3,474.9 151.9,466.6 152.4,459.3 155,457.2 159.1,458.3 162.3,461.4 164.3,459.3 165.9,455.2 168,439.5 168.7,434.9 168.7,434.9 165.4,435.4 162.3,438.5 159.7,440.1 159.1,436.4 160.7,430.2 159.1,427.6 156,428.1 154.5,431.2 150.8,431.2 148.2,428.1 146.1,428.1 145.6,433.3 147.2,440.6 145.6,443.2ZM168.7,434.9 168,439.5 185.2,441.6 185.2,441.6 188.8,436.4 188.3,434.9 183.1,432.8 179.9,434.3 175.8,433.3 175.8,433.3 168.7,434.9ZM149.9,482.4 151.5,489.9 153.2,494.9 156.5,501.6 156.5,501.6 162.5,503.6 169.8,502.5 169.8,502.5 169.8,502.4 172.7,491.1 173.7,483.2 175.3,474.9 175.3,474.8 176.3,467.6 177.9,462.4 184.1,460.4 189.3,457.8 190.4,455.2 191.4,449.9 193.5,443.7 193.5,443.7 185.2,441.6 185.2,441.6 168,439.5 165.9,455.2 164.3,459.3 162.3,461.4 159.1,458.3 155,457.2 152.4,459.3 151.9,466.6 151.3,474.9 150.3,482.2ZM298.2,454.1 259.9,450.7 258.2,469.9 255.7,494.9 254.8,506.2 268.2,506.5 269.1,501.5 268.2,493.2 269.9,488.2 276.5,486.5 276.5,486.5 279.9,483.2 284.9,478.2 289.9,473.2 295.7,469.9 296.5,463.2ZM357.9,318.6 357.1,336.1 355.7,365.2 386.5,366.4 390.2,366.6 390.2,366.6 391.2,357.4 391.2,357.4 392.4,339.9 390.7,319.6 390.7,319.6ZM390.2,366.6 389.9,389.5 389.9,389.5 422.3,390.5 422.3,390.5 422.8,383.2 425.7,379.9 426.5,374.9 422.3,373.2 422.3,373.2 422.3,373.2 421.5,356.6 421.5,356.6 391.2,357.4ZM358.4,308.3 359,294.2 351.6,292.5 344.9,292.5 341.6,295.8 333.3,299.1 327.9,301.6 323.3,308.3 322.4,317.4 322.4,317.4 328.3,319.9 336.6,323.3 343.3,325.8 348.3,329.9 353.2,334.1 357.1,336.1 357.9,318.6 357.9,318.6ZM369.9,457.9 369.9,457.9 354.9,457.4 354.9,457.4 354.9,463.2 351.6,468.2 348.3,473.2 346.6,478.2 343.3,469.9 339.9,468.2 336.6,474.9 339.1,481.6 338.3,489.9 335,491.5 339.9,498.2 344.9,503.2 346.6,511.5 349.1,515.7 349.9,525 352.4,531.6 356.6,536.6 360.8,538.3 367.3,538.3 368.3,515.7 369.6,469.6ZM244.1,263.2 242.9,272.9 242.9,273 242.9,273ZM242.9,273 242.9,273 242.9,273ZM218.2,363.2 218.2,363.2 219.9,373.2 220.7,382.9 220.8,383 219.9,373.2ZM242.4,366.5 241.6,370.7 241.9,370.7ZM168.7,434.9 168.7,434.9 168.7,434.9ZM422.3,373.2 422.3,373.2 422.3,373.2Z"/>
<path fill="#820000" stroke="#820000" stroke-width="0.6" fill-rule="evenodd" d="M228.2,225.7 224.9,228.2 218.3,232.4 211.6,236.6 204.9,237.4 199.1,240.2 199.1,240.3 200.8,243.3 202.4,250 204.9,260 209.9,263.7 211.9,268.6 214.9,272.8 214.9,272.8 223.2,271.1 233.2,271.3 238.2,268.8 240.7,273 242.9,273 242.9,273 242.9,272.9 244.1,263.2 246.6,254.9 249.9,246.6 250.7,235.7 241.6,234.9 237.4,239.1 235.7,224.9 228.2,225.7ZM214.9,272.8 211.9,268.6 209.9,263.7 204.9,260 202.4,250 200.8,243.3 199.1,240.3 196.6,251.7 191.6,260 190.3,268.3 192.4,276.6 196.6,282.5 200.8,286.6 200.8,286.6 208.3,284.6 213.2,280 214.9,275 214.9,272.8 214.9,272.8ZM238.2,319.9 238.2,319.9 235.7,331.6 235.7,331.6 233.2,354.9 267.4,359.1 267.4,359.1 290,361.2 303.3,361.9 303.3,361.9 300,356.6 295,349.9 288.3,343.2 280,338.3 273.3,333.3 269.9,319.9 266.5,314.9 263.2,308.3 259.9,301.6 254,302.4 253.2,305.8 246.5,308.3 244,313.3 243.2,318.3ZM300,268.2 280.4,266.4 271.5,270 261.5,271.6 258.2,275 262.4,285 263.2,289.1 269.9,290 275,296.6 283.3,301.6 291.6,304.1 300,304.1 305.8,301.6 307.5,293.3 306.6,286.6 303.3,278.3 298.3,273.3ZM263.2,289.1 256.5,291.6 257.4,296.6 259.7,301.3 259.9,301.6 263.2,308.3 266.5,314.9 269.9,319.9 276.7,324.9 283.3,326.6 288.3,321.6 296.6,322.4 296.6,322.4 299.1,318.3 300,314.9 303.3,309.9 305.8,301.6 305.8,301.6 300,304.1 291.6,304.1 283.3,301.6 275,296.6 269.9,290ZM303.3,361.9 307.5,362.2 330.3,363.6 330.3,363.6 329.9,353.2 329.1,343.2 326.6,334.9 321.6,328.3 313.3,325.8 303.3,325.8 296.6,322.4 296.6,322.4 288.3,321.6 283.3,326.6 276.7,324.9 269.9,319.9 273.3,333.3 280,338.3 288.3,343.2 295,349.9 300,356.6ZM220.7,383 220.7,383.2 208.9,382.4 208.3,382.5 208.3,382.5 205,386.6 200,395 197.6,400 194.5,408.3 191.4,413.5 189.8,419.8 187.2,423.9 178.9,425 176.8,428.1 176.8,432.3 175.8,433.3 179.9,434.3 183.1,432.8 188.3,434.9 188.8,436.4 185.2,441.6 193.5,443.7 193.5,443.7 208,444.2 209,444.4 213.3,439.9 221.6,433.3 229.9,427.4 234.1,423.3 231.6,419.9 223.3,419.1 220.8,415 222.4,408.3 223.3,398.3 227.4,393.3 224.1,388.3 220.8,383 220.8,383ZM264.9,395.7 265.3,390.4 259.9,391.6 253.2,393.3 246.6,390.8 241.6,386.6 241.6,386.6 236.6,386.6 231.6,390.8 227.4,393.3 223.3,398.3 222.4,408.3 220.8,415 223.3,419.1 231.6,419.9 234.1,423.3 229.9,427.4 221.6,433.3 213.3,439.9 209,444.4 230,447.3 259.9,450.7 259.9,450.7ZM265.3,390.4 266.5,376.5 267,367.4 267,367.4 253.2,369 241.9,370.7 241.6,373.3 243.2,380 241.6,386.6 246.6,390.8 253.2,393.3 259.9,391.6ZM290,361.2 267.4,359.1 267,367.4 266.5,376.5 265.3,390.4 264.9,395.7 259.9,450.7 298.2,454.1 298.2,454.1 305.7,454.5 304.8,449.9 301.5,444.9 294.9,439.9 287.4,437.4 288.2,434.9 299.9,432.4 304.8,428.3 313.2,421.6 310.7,418.3 311.5,411.6 308.2,408.3 308.5,405.5 309,401.6 312.7,400.6 313.3,399.9 319.9,393.2 320.9,391.8 320.8,391.6 321.7,390.6 323.3,388.2 325.8,379.9 325.8,379.8 323.5,373.7 320,375.8 320,375.8 319.9,375.8 316.5,376.7 309.8,375 309.1,372.4 308.4,371.6 308.3,371.6 308.3,371.5 308,368.3 307.5,362.2 303.3,361.9 303.3,361.9ZM305.7,454.5 320,455.2 330,456.2 330.8,449.9 330,443.3 325.8,441.6 323.3,433.3 320,426.6 313.2,421.6 304.8,428.3 299.9,432.4 288.2,434.9 287.4,437.4 294.9,439.9 301.5,444.9 304.8,449.9ZM314.8,400 314.8,400 312.7,400.6 308.5,405.5 308.2,408.3 311.5,411.6 310.7,418.3 313.2,421.6 320,426.6 323.3,433.3 325.8,441.6 330,443.3 330.8,449.9 330,456.2 330,456.2 354.9,457.4 354.9,457.4 369.9,457.9 369.9,457.9 388.6,457.7 388.6,457.7 389.6,429.1 389.6,429.1 386.6,424.9 383.2,419.9 381.6,413.3 376.6,410 368.3,408.3 359.2,402.7 357.5,403.6 353.3,405.8 346.6,408.3 339.9,409.1 336.6,407.5 330,411.6 323.3,414.1 320,411.6 316.5,408.3ZM305.7,454.5 298.2,454.1 298.2,454.1 296.5,463.2 295.7,469.9 289.9,473.2 284.9,478.2 279.9,483.2 276.5,486.5 276.5,486.5 289.9,487.4 289.9,487.4 293.2,489 299.9,489.9 303.2,491.5 306.5,493.2 320,494 323.1,492.5 323.3,492.4 331.6,490.7 335,491.5 338.3,489.9 339.1,481.6 336.6,474.9 339.9,468.2 343.3,469.9 346.6,478.2 348.3,473.2 351.6,468.2 354.9,463.2 354.9,457.4 330,456.2 330,456.2 320,455.2ZM322.4,269.5 300,268.2 298.3,273.3 303.3,278.3 306.6,286.6 307.5,293.3 305.8,301.6 305.8,301.6 303.3,309.9 300,314.9 299.1,318.3 305.8,317.4 313.3,316.6 318.3,319.1 322.4,317.4 323.3,308.3 327.9,301.6 327.9,301.6 329.1,293.3 331.6,285 336.6,281.6 343.3,278.3 349.9,271.6 322.4,269.5ZM355.7,365.2 357.1,336.1 353.2,334.1 348.3,329.9 343.3,325.8 336.6,323.3 328.3,319.9 322.4,317.4 322.4,317.4 318.3,319.1 313.3,316.6 305.8,317.4 299.1,318.3 296.6,322.4 303.3,325.8 313.3,325.8 321.6,328.3 326.6,334.9 329.1,343.2 329.9,353.2 330.3,363.6ZM308,368.3 308,368.3 309,372 313.3,374.9 319.9,375.7 323.3,373.2 323.5,373.7 324.1,373.3 325.8,379.8 325.8,379.9 325.8,379.9 325.8,380 325,386.6 321.7,390.6 320.9,391.8 321.6,395 320,399.1 314.8,400 316.5,408.3 320,411.6 323.3,414.1 330,411.6 336.6,407.5 339.9,409.1 346.6,408.3 353.3,405.8 357.5,403.6 361.6,399.9 366.6,393.2 367.7,390.9 368.3,386.6 369.9,383.4 369.9,379.9 372.2,374 372.4,372.5 372.9,372.4 373.2,371.6 381.4,369.9 381.6,369.9 381.6,369.9 386.5,366.4 355.7,365.2 330.3,363.6 330.3,363.6 307.5,362.2ZM390.2,366.6 390.2,366.6 386.5,366.4 381.6,369.9 381.6,369.9 381.4,369.9 372.9,372.4 372.2,374 371.6,380 369.9,383.4 369.9,386.5 367.7,390.9 367.4,393.3 363.3,400 359.2,402.7 368.3,408.3 376.6,410 381.6,413.3 383.2,419.9 386.6,424.9 389.6,429.1 389.7,409.1 389.9,389.5 389.9,389.5 389.9,389.5ZM214.9,272.8 214.9,272.8 214.9,272.8ZM208.9,382.4 208.4,382.4 208.3,382.5 208.3,382.5ZM208.9,382.4 220.7,383.2 220.7,383 214.9,381.7ZM309,372 308,368.3 308,368.3 308.3,371.5 308.3,371.5 308.4,371.6ZM309,372 309.1,372.4 311.6,375 319.9,375.8 320,375.8 323.5,373.7 323.3,373.2 319.9,375.7 313.3,374.9ZM309.1,372.4 309,372 308.4,371.6ZM309.1,372.4 309.8,375 316.5,376.7 319.9,375.8 311.6,375ZM320,375.8 319.9,375.8 320,375.8ZM314.8,400 320,399.1 321.6,395 320.9,391.8 319.9,393.2 313.3,399.9 312.7,400.6 314.8,400ZM312.7,400.6 309,401.6 308.5,405.5ZM308.3,371.5 308.3,371.6 308.4,371.6 308.3,371.5ZM323.5,373.7 325.8,379.8 324.1,373.3ZM325.8,379.9 325.8,379.9 325.8,379.8ZM325.8,379.9 323.3,388.2 321.7,390.6 325,386.6 325.8,380ZM320.9,391.8 321.7,390.6 320.8,391.6ZM381.4,369.9 381.6,369.9 381.6,369.9 381.6,369.9ZM381.4,369.9 373.2,371.6 372.9,372.4ZM372.2,374 372.9,372.4 372.4,372.5ZM372.2,374 369.9,379.9 369.9,383.4 371.6,380ZM367.7,390.9 369.9,386.5 369.9,383.4 368.3,386.6ZM367.7,390.9 366.6,393.2 361.6,399.9 357.5,403.6 359.2,402.7 363.3,400 367.4,393.3Z"/>
<path fill="#000000" d="M660.7,250.7 664.5,251.9 664.9,259.1 662.4,261.2 661,256.6Z"/>
<path fill="#28ffd2" d="M814.9,697.1 817.4,696.4 819.9,697.1 817.4,698.1Z"/>
<path fill="#28ffd2" d="M823.7,696.8 825.6,695.9 828.1,696.5 825.9,697.8Z"/>
<path fill="#28ffd2" d="M829.9,695.5 832.4,694.6 834.3,695.1 831.8,696.4Z"/>
<path fill="#28ffd2" d="M836.2,693.4 839.3,691.8 841.8,691.1 839.9,693.4Z"/>
<path fill="#28ffd2" d="M843.7,683 845.5,682.2 846.4,684.9 844.9,687.4 843.9,686.1Z"/>
<path fill="#00ffff" d="M890.8,290.8 896.6,287.9 901.6,286.2 902.4,286.6 898.3,288.7 892.4,291.6Z"/>
<path fill="none" stroke="#000" stroke-width="1.45" stroke-linejoin="round" stroke-linecap="round" d="M14.7,290.7 21.3,292.1M14.7,290.7 12.5,294.9 13.3,301.6 10,311.6 6.7,318.2 2.5,323.2 2,329.9 5,336.5 6.7,345.7 5,351.6 4.2,360 8.3,366.6 11.7,374.9 13.3,381.6 15.8,386.6 20,385.8 22.5,386.6M42.2,197.4 39.1,210 35.8,221.6 31.6,233.3 27.5,246.6 22.5,256.6 17.5,264.9 14.2,269.9 13.3,278.3 12.5,284.9 14.7,290.7 14.7,290.7M46.6,297.4 46.6,297.4 21.3,292.1M21.3,292.1 21.3,292.1 22.5,286.6 20,282.4 23.3,280.7 25,276.6 28.3,269.9 30.8,264.1 35,257.4 35.8,253.3M22.5,386.6 30,386.6 35.8,387.4 35.8,387.4M22.5,386.6 25,391.6 25.8,399.9 21.6,398.3 20,393.3 18.3,399.9 20,406.6 25,413.2 26.6,418.2 23.3,420.7 23.3,426.6 26.6,434.9 30.8,443.2 35,451.5 36.6,458.2 38.6,460.5 38.6,460.5M35.8,253.3 41.6,259.1 49.9,260.3 49.9,260.3M50.7,198.5 50.8,208.3 45,213.3 44.1,221.6 40.8,228.3 37.5,235.8 34.1,243.3 33.3,248.3 35.8,253.3 35.8,253.3M53.6,459 53.3,453.2 50.8,443.2 45.8,433.2 44.1,421.6 40,409.9 36.6,398.3 35.8,387.4M35.8,387.4 35,378.3 31.6,374.9 25,369.9 20,361.6 21.6,356.6 25.8,350 25,345.7 25,333.2 30,326.5 33.3,318.2 38.3,314 46.6,314.9 54.9,318.2 61.6,314.9 68.3,309.9 71.6,304.1M35.8,387.4 41.6,381.6 48.3,376.6 54.9,375.8 61.6,377.4 68.3,377.9M38.6,460.5 37.5,465.8 36.6,471.6 40.8,474.9 48.3,477.4 55.8,480.8 61.6,486.6 66.6,490.8 73.3,492.4 74.1,498.3 79.1,500.7 84.9,506.6 89.1,512.4 92.4,519.9 91.6,526.6 93.3,531.6 106.6,532.7M38.6,460.5 41.6,460 46.6,457 53.6,459M42.2,197.4 50,198.3 50.7,198.5M55.1,151.3 52.6,149.1 48.5,145.8 44.3,143.7 43.9,145.8 42.7,150 43.1,156.6 43.9,162.5 44.3,168.3 45.2,174.9 44.3,178.3 45.2,183.3 43.5,186.6 43.9,189.9 41.8,193.3 42.2,197.4M71.6,304.1 46.6,297.4M46.6,297.4 49.9,283.2 50.7,279.7M57.4,262.9 49.9,260.3M49.9,260.3 56.6,251.6 58.3,245 59.1,236.6 60.8,230 64.9,223.3 70.3,217.7M64.4,257 68.3,263.3 73.3,271.6 77.4,279.9 77.4,288.2 73.3,294.9 67.4,299.6 63.3,296.6 59.9,284.9 56.6,280.7 50.7,279.7M50.7,279.7 51.6,274.9 56.6,273.3 57.4,262.9 57.4,262.9M50.7,198.5 53.6,199.7M53.6,199.7 55,199.9 55.8,200.6M53.6,199.7 55.8,200.6M53.6,199.7 53.5,190.8 53.1,184.9 53.9,179.9 56,175.8 59.7,171.6 61,165.8 59.3,160.8 56,156.6 55.1,151.3M53.6,459 58.3,465 63.3,469.1 72.4,471.9M67.6,179.5 71,177.4 72.6,174.9 73,171.6 72.6,168.3 73.5,165 73.9,161.6 72.6,158.3 71,156.5 66,155.4 61,154.1 56,152.1 55.1,151.3M55.8,200.6 55.8,200.6 56.1,200.8 59.1,203.2 60,212.4 70.3,217.7M57.4,262.9 64.4,257M70.8,235.8 70.8,235.8 66.6,245 64.9,256.6 64.4,257M67.6,179.5 67.6,179.5M67.6,179.5 67.6,179.5 67.6,179.5M78.4,162.8 81.4,168.3 80.1,174.1 76,179.1 69.3,184.1 63.5,187.9 60.3,187.4 60,183.7 62.6,179.1 65.1,175.8 67.6,179.5M78.4,162.8 78.5,162.9 76,165.8 75.1,170 74.7,174.9 72.6,177.9 67.6,179.5M68.3,377.9 68.3,377.9M68.3,377.9 68.3,377.9 68.3,377.9M68.3,377.9 68.3,377.9M68.3,377.9 68.3,377.9M68.3,377.9 64.9,368.3 64.1,360.8 69.9,358.3 71.6,355 66.6,348.3 64.9,345.7 58.3,338.2 57.4,334 66.6,328.2 73.3,323.2 77.4,314.9 78.3,306M68.3,377.9 76.6,345.7 83.2,307.4M68.3,377.9 77.2,389.3M78.3,405.7 78.3,405.7 76.6,401.6 74.9,394.9 71.6,386.6 68.3,377.9M70.3,217.7 74.1,228.3 70.8,235.8M70.3,217.7 69.6,213.2 68.3,206.6 69.9,201.6 76,197.8 77.6,196.6 81.8,194.1 81,192.4 78.5,190.8 81,188.3 82.6,183.3 83.5,178.3 84.3,172.5 85.9,169.1 89.3,170 85.9,164.1 82.6,161.6 81.4,158.3 82.6,152.5 83.5,145.8 83.1,139.7M70.3,217.7 73.3,216.2 80.3,218.2 80.3,218.2M70.8,235.8 79.9,237.5 90.7,240 91.6,235.8 99.9,236.6 103.2,239.1 110.7,241.3 110.7,241.3M71.6,304.1 71.6,304.1 78.3,306M72.4,471.9 72.4,471.9 78.3,469.1 81.6,465.7 84.9,458.2 89.9,449.9 90.7,439.9 88.2,429.9 84.9,419.9 81.6,409.9 78.3,405.7M72.4,471.9 78.3,474.9 83.3,481.6 85.8,486.6 93.3,487.4 96.6,491.6 103.2,489.6 108.2,490.3 107.4,494.1 103.2,497.4 100.7,500.7 103.2,508.2 104.1,516.6 105.7,526.6 106.6,532.7M77.2,389.3 81.6,389.6 87.4,388.3 88.2,380.8 89.9,375.8 106.6,379.1 111.6,377.4M88.2,403.2 88.2,403.2 77.2,389.3M78.3,405.7 79.9,406.2 86.6,405.7 88.2,403.2M78.3,306 83.2,307.4 83.2,307.4M83.1,139.7 76,138.3 76.8,142.9 78.9,146.6 75.8,150.8 76.8,155 77.2,160 78.4,162.8M80.3,218.2 88.3,219.9M80.3,218.2 81.9,211.6 83.6,204.9 84.3,197.8M90.9,141.5 90.9,141.5 83.5,139.8 83.1,139.7M83.2,307.4 114.9,311.9M84.3,197.8 85.1,194.1 85.9,188.3 85.1,183.3 85.9,178.3 86.8,173.3 89.3,171.6 90.1,169.1 87.6,165 90.1,162.5 89.3,160 91.8,157.5 95.9,153.3 97.6,150 88.4,149.1 89.3,145.8 90.9,141.5M84.3,197.8 86.4,194.1 87.6,188.3 88.4,181.6 90.1,176.6 93.4,174.1 94.3,169.1 97.6,164.1 99.3,158.3 102.6,155.8 105.5,152.5 106.8,145M88.2,403.2 113.2,434.9M88.3,219.9 88.3,219.9 99.9,219.4 109.9,219.6 119.9,219.6 132.4,221.5M88.3,219.9 91.6,218.2 95.8,214.9 93.3,211.6 90.8,206.6 93.3,198.3 98.3,189.9 103.2,189.9 105.7,186.6 103.2,179.9M106.8,145 106.8,145 90.9,141.5M103.2,179.9 109.9,181.6 119.9,184.1 128.2,188.3 134.9,192.4 141.5,196.6M103.2,179.9 105.7,174.9 106.6,166.6 110.7,168.3 111.6,162.5 118.2,156.6 121.6,148.1M106.6,532.7 106.6,532.7 138.2,534.9 144,534.9M121.6,148.1 116,146.8 106.8,145M110.7,241.3 105.7,247.5 108.2,256.6 109.9,264.1 122.4,266.6M110.7,241.3 119.9,236.6 128.2,230 132.4,221.5M111.6,377.4 126.5,380.8 141.5,384.9 148.2,391.6 154.8,397.4 160,398.3 174.2,399.8M111.6,377.4 111.6,377.4 113.2,371.6 117.4,365 118.2,358.3 124.9,348.3 129.9,347.5 131.5,345.7 133.2,329.9 134.9,316.2M149.9,482.4 136.5,465.3 113.2,434.9M113.2,434.9 116.5,428.2 121.5,433.2 128.2,439.9 133.2,444.9 134.9,453.2 138.2,454.9 139.9,449.9 139,444 143.2,443.2 145.6,443.2 147.2,440.6 145.6,433.3 146.1,428.1 148.2,428.1 150.8,431.2 154.5,431.2 156,428.1 159.1,427.6 160.7,430.2 159.1,436.4 159.7,440.1 162.3,438.5 165.4,435.4 168.7,434.9M134.9,316.2 114.9,311.9 114.9,311.9M114.9,311.9 116.5,296.6 119.9,279.9 122.4,266.6M129.1,149.8 121.6,148.1M122.4,266.6 124,263.3 128.2,259.9 134.9,259.9 138.2,263.3 143.2,263.8M163.2,156.6 129.9,150 129.1,149.8M144.9,187.4 144.9,187.4 136.5,181.6 131.6,174.9 129.9,168.3 128.2,158.3 129.1,149.8M132.4,221.5 134.9,221.9M134.9,316.2 134.9,316.2M134.9,316.2 134.9,316.2 134.9,316.2M134.9,316.2 134.9,316.2M134.9,316.2 134.9,316.2M134.9,316.2 134.9,316.2M134.9,316.2 185.8,324.9M134.9,316.2 137.4,299.9 140.5,284M134.9,221.9 134.9,221.9 153.9,224.4M134.9,221.9 131.6,214.1 136.5,206.6 141.5,196.6M140.5,284 143.3,289.1 146.6,293.3 155,299.9 163.3,303.3 168.3,303.6M140.5,284 140.7,283.2 144.8,267.4 143.2,263.8M141.5,196.6 141.5,196.6 144.9,187.4M143.2,263.8 143.2,263.8 148.2,253.3 154,243.3 158.2,235 154.8,228.3 154.6,227.3M143.2,263.8 146.6,263.3 153.3,255 158.3,253 161.6,257.5 160.8,266.6 157.5,273.3 157.5,281.6 160.8,290 166.6,295.8 169.1,298.3M144,534.9 138.2,536.5 137.4,540.7 163.2,553.2 163.2,553.2M144,534.9 144,534.9 144.9,530.7 142.4,526.6 143.2,519.9 146.5,514.9 148.2,508.2 151.5,503.2 156.5,501.6M144.9,187.4 158.5,189.3M156.5,501.6 156.5,501.6 153.2,494.9 151.5,489.9 149.9,482.4M149.9,482.4 150.3,482.2 151.3,474.9 151.9,466.6 152.4,459.3 155,457.2 159.1,458.3 162.3,461.4 164.3,459.3 165.9,455.2 168,439.5M153.5,217.4 153.9,224.4M153.9,224.4 153.3,218.3 153.5,217.4M153.5,217.4 153.2,213.2 154.5,203.2 156.9,200.7M153.5,217.4 154.2,213.3 160,209.9M153.9,224.4 154.6,227.3M154.6,227.3 154.2,226.6 153.9,224.4M160,209.9 166.6,211.6 173.3,209.1 172.5,214.9 178.3,223.2 179.1,228.2 173.3,230.7 165,229.9 163.3,238.2 161.6,239.9 158.3,233.2 154.6,227.3M156.5,501.6 162.5,503.6 169.8,502.5 169.8,502.5M156.9,200.7 160,209.9M156.9,200.7 157.3,197.8M158.5,189.3 157.3,197.8M157.3,197.8 157.3,197.8 158.3,194.9 165,193.3 168.3,188.3 167.5,180 170,175.8 175.8,175.8M158.5,189.3 163.2,156.6M163.2,156.6 163.2,156.6M163.2,156.6 163.2,156.6 163.2,156.6M179.9,159.9 163.2,156.6M179.9,159.9 178.3,159.6 163.2,156.6M163.2,553.2 180,562.4 206.6,577.4 246.6,581.2M163.2,553.2 164.5,543.3M220.6,536.2 219.9,550.7 198.3,548.2 183.3,545.7 164.5,543.3M164.5,543.3 169,508.6M185.2,441.6 185.2,441.6 168,439.5M168,439.5 168.7,434.9M185.8,324.9 185.8,319.1 179.9,315.8 173.3,309.9 168.3,303.6M168.3,303.6 169.1,298.3M168.7,434.9 168.7,434.9M168.7,434.9 168.7,434.9M174.2,399.8 168.7,434.9M168.7,434.9 168.7,434.9M168.7,434.9 175.8,433.3 175.8,433.3M169,508.6 173.3,509 181.6,511.5 190,513.2 201.6,508.2 204.1,504.9M169,508.6 169.8,502.5M169.1,298.3 176.6,297.5 186.6,294.1 196.6,290 200.8,286.6M169.8,502.5 169.8,502.4 172.7,491.1 173.7,483.2 175.3,474.9 175.3,474.8M174.2,399.8 185.8,324.9M175.3,474.8 181.6,479.9 190,484.9 191.6,489.9 201.6,492.4 204.1,496.5 204.1,504.9M175.3,474.8 176.3,467.6 177.9,462.4 184.1,460.4 189.3,457.8 190.4,455.2 191.4,449.9 193.5,443.7M175.8,433.3 179.9,434.3 183.1,432.8 188.3,434.9 188.8,436.4 185.2,441.6M175.8,433.3 176.8,432.3 176.8,428.1 178.9,425 187.2,423.9 189.8,419.8 191.4,413.5 194.5,408.3 197.6,400 200,395 205,386.6 208.3,382.5M175.8,175.8 175.8,175.8 179.9,159.9M199.1,240.3 193.3,243.2 189.9,240.7 192.4,236.6 191.6,231.6 194.1,224.9 195.8,217.4 191.6,215.8 186.6,209.9 183.3,201.6 179.1,193.3 177.5,183.3 175.8,175.8M209.9,165 179.9,159.9M185.2,441.6 193.5,443.7 193.5,443.7M185.8,324.9 185.8,324.9 211.6,328.4M193.5,443.7 208,444.2 209,444.4M199.1,240.3 200.8,243.3 202.4,250 204.9,260 209.9,263.7 211.9,268.6 214.9,272.8M200.8,286.6 200.8,286.6 196.6,282.5 192.4,276.6 190.3,268.3 191.6,260 196.6,251.7 199.1,240.3M199.1,240.3 199.1,240.2 204.9,237.4 211.6,236.6 218.3,232.4 224.9,228.2 228.2,225.7M214.9,272.8 223.2,275 231.6,277.5 235.7,280 229.9,291.6 223.2,301.6 216.6,309.9 208.3,316.6 198.3,321.1 193.3,318.8 195.8,314.9 197.4,308.3 198.3,299.9 196.6,291.6 200.8,286.6M200.8,286.6 208.3,284.6 213.2,280 214.9,275 214.9,272.8M203.2,369.9 203.3,369.9 203.3,370M203.3,370 203.2,369.9M203.2,369.9 199.9,364 201.6,359.9 206.6,353.2 209.9,346.6 211.6,338.2 211.6,328.4M203.3,370 206.6,376.5 208.1,381.9M208.1,381.9 206.6,376.5 203.3,370M204.1,504.9 209.9,505.7 218.3,508.2 219.1,515.7 231.6,517.4 231.6,529.1M220.6,536.2 215.8,538.3 211.6,528.3 209.1,523.3 206.6,521.6 204.9,514.9 201.9,509.9 204.1,504.9M204.1,504.9 204.1,504.9M204.1,504.9 204.1,504.9 204.1,504.9M208.1,381.9 208.3,382.4 208.4,382.4M208.3,382.5 208.1,381.9M208.3,382.5 208.3,382.5 208.9,382.4M208.3,382.5 208.4,382.4M208.4,382.4 208.9,382.4M208.9,382.4 220.7,383.2 220.7,383M208.9,382.4 214.9,381.7 220.7,383M209,444.4 230,447.3 259.9,450.7 259.9,450.7M227.4,393.3 223.3,398.3 222.4,408.3 220.8,415 223.3,419.1 231.6,419.9 234.1,423.3 229.9,427.4 221.6,433.3 213.3,439.9 209,444.4M315,175.8 300,174.1 273.2,172 239.9,168.6 209.9,165 209.9,165M222.4,189.9 221.6,185 216.6,178.3 213.3,171.6 209.9,165M211.6,328.4 226.6,330.4M214.9,272.8 214.9,272.8M214.9,272.8 214.9,272.8 214.9,272.8M214.9,272.8 223.2,271.1 233.2,271.3 238.2,268.8 240.7,273 242.9,273M218.2,363.2 219.9,373.2 220.8,383M220.7,382.9 219.9,373.2 218.2,363.2 218.2,363.2M218.2,363.2 219.9,349.9 220.7,336.6 225.7,335.7 226.6,330.4M231.6,529.1 223.3,529.9 221.6,535.8 220.6,536.2M220.8,383 220.7,382.9M220.7,383 220.7,382.9M220.8,383 220.8,383 220.7,383M220.8,383 224.1,388.3 227.4,393.3M222.4,189.9 222.4,189.9 222.4,189.9M222.4,189.9 222.4,189.9M222.4,189.9 223.2,196.6 229.9,198.3 236.6,200.8 241.6,199.1 249.9,199.1 254.9,204.1 262.4,207.4 269,205.8 271.5,201.6 281.5,199.9 286.5,203.3 300,206.6M228.2,225.7 226.6,221.6 221.6,214.9 221.6,208.3 218.3,203.3 219.1,194.9 222.4,189.9M226.6,330.4 235.7,331.6M227.4,393.3 231.6,390.8 236.6,386.6 241.6,386.6 241.6,386.6M250.7,235.7 241.6,234.9 237.4,239.1 235.7,224.9 228.2,225.7 228.2,225.7M251.6,525.2 246.6,524.6 241.6,525.8 234.9,528.3 231.6,529.1M267.4,359.1 267.4,359.1 233.2,354.9 235.7,331.6M235.7,331.6 235.7,331.6 238.2,319.9 238.2,319.9M238.2,319.9 239.9,299.9 241.5,285.7M238.2,319.9 243.2,318.3 244,313.3 246.5,308.3 253.2,305.8 254,302.4 259.9,301.6M242.9,273 241.5,285.7M241.5,285.7 242.9,273 242.9,273M241.6,386.6 246.6,390.8 253.2,393.3 259.9,391.6 265.3,390.4M241.6,386.6 243.2,380 241.6,373.3 241.9,370.7M241.9,370.7 241.6,370.7 242.4,366.5 241.9,370.7M241.9,370.7 253.2,369 267,367.4 267,367.4M242.9,273 242.9,273M242.9,273 242.9,273M242.9,273 242.9,273M242.9,273 242.9,272.9 244.1,263.2M242.9,273 246.5,275.8 249,274.1 253.2,280 258.2,283.3 262.4,285M244.1,263.2 242.9,273M244.1,263.2 273.2,265.7 280.4,266.4M244.1,263.2 246.6,254.9 249.9,246.6 250.7,235.7M246.6,581.2 246.6,581.2 264,582.9 264.5,573.5 294.8,574.5M246.6,581.2 250.5,535M250.5,535 251.2,526.6 251.6,525.2M250.5,535 250.5,535 254.1,529.9 255.7,527.9 257.4,533.3 259.1,539.9 263.2,547.4 266.5,550.7 269.9,553.2 274,554.9 274.9,549.9 276.5,543.2 278.2,537.4 283.2,536.6 283.2,536.6M250.7,235.7 259.9,234.9 269.9,235.7 272.4,239.9 281.5,238.2 288.2,239.9 300,234.9M251.6,525.2 254.1,515.7 254.8,506.2M254.8,506.2 268.2,506.5 269.1,501.5 268.2,493.2 269.9,488.2 276.5,486.5M254.8,506.2 255.7,494.9 258.2,469.9 259.9,450.7M269.9,319.9 266.5,314.9 263.2,308.3 259.9,301.6M259.9,301.6 259.7,301.3 257.4,296.6 256.5,291.6 263.2,289.1M259.9,450.7 298.2,454.1M265.3,390.4 264.9,395.7 259.9,450.7M262.4,285 263.2,289.1M262.4,285 258.2,275 261.5,271.6 271.5,270 280.4,266.4M263.2,289.1 269.9,290 275,296.6 283.3,301.6 291.6,304.1 300,304.1 305.8,301.6M267,367.4 266.5,376.5 265.3,390.4M267,367.4 267.4,359.1M267.4,359.1 290,361.2 303.3,361.9 303.3,361.9M269.9,319.9 276.7,324.9 283.3,326.6 288.3,321.6 296.6,322.4 296.6,322.4M303.3,361.9 300,356.6 295,349.9 288.3,343.2 280,338.3 273.3,333.3 269.9,319.9M276.5,486.5 289.9,487.4 289.9,487.4M276.5,486.5 276.5,486.5 279.9,483.2 284.9,478.2 289.9,473.2 295.7,469.9 296.5,463.2 298.2,454.1M280.4,266.4 300,268.2M283.2,536.6 287.4,539.1 288.2,543.2 287.4,551.6 289.9,553.2 294.8,556.6 298.2,564.1 299.8,559.9 300.7,546.6 301.5,536.6 303.2,534.9 303.2,534.9M283.2,536.6 286.5,533.3 287.4,526.6 286.5,517.4 283.2,515.7 284.9,508.2 284,501.5 288.2,498.2 291.5,493.2 289.9,487.4M289.9,487.4 293.2,489 299.9,489.9 303.2,491.5M294.8,574.5 298.2,577.4 303.2,582.4 310,588.5 311.2,590 316.2,595 322.5,600 326.8,603.7 329.3,610 331.2,616.2 331.8,621.2 334.3,626.8 340,631.2 346.2,635.6 352.4,639.3 358.1,643 361.8,643.4 364.9,639.9 367.4,637.4 368.1,632.4 370.6,627.4 372.4,625.6 377.4,624.9 379.3,623.1 382.4,624.7 387.4,624.9 389.9,624.9M294.8,574.5 294.8,570.2 310,571.1 330,571.6M296.6,322.4 303.3,325.8 313.3,325.8 321.6,328.3 326.6,334.9 329.1,343.2 329.9,353.2 330.3,363.6M296.6,322.4 299.1,318.3M297.4,518.5 298.2,521.6 299.9,522M299.9,522 298.3,522.5 296.7,520 297.4,518.5M297.4,518.5 297.3,518.3 297.6,518.1M297.6,518.1 297.4,518.5M297.6,518.1 298.3,516.6 300.9,515.9M300.9,515.9 297.6,518.1M298.2,454.1 298.2,454.1 305.7,454.5M299.1,318.3 300,314.9 303.3,309.9 305.8,301.6 305.8,301.6M299.1,318.3 305.8,317.4 313.3,316.6 318.3,319.1 322.4,317.4M305,524.9 304.8,523.3 299.9,522M299.9,522 304.2,520.8 305.8,523.3 305,524.9M300,206.6 301.6,206.6 308.6,204.9 309.6,198.3 310.8,190 313.6,183.3 315,175.8M300.3,224.9 300.3,224.9 299.1,219.9 299.6,213.3 300,206.6M322.4,269.5 321.6,265.7 314.6,264.9 315.3,258.2 314.1,253.2 313.6,249.9 312.5,241.6 310,234.9 300,234.9M300,234.9 300.3,224.9M300,268.2 322.4,269.5M305.8,301.6 307.5,293.3 306.6,286.6 303.3,278.3 298.3,273.3 300,268.2M300.3,224.9 311.6,226.9 319.9,228.3 330.8,229.9 331.6,219.9 334.1,219.9 334.6,223.3 336.6,220.8 343.3,221.6 347.4,225.8 351.6,229.9 355.7,231.2 357.4,226.6 356.6,216.6 361.2,215.8M300.9,515.9 302.3,514.9 302.8,515.4M302.8,515.4 300.9,515.9M303.2,515.7 302.8,515.4M302.8,515.4 303.1,515.3M303.1,515.3 303.2,515.7M303.1,515.3 301.5,499.9 303.2,491.5M303.1,515.3 304.2,515 303.2,515.7M303.2,491.5 306.5,493.2 320,494 323.1,492.5M303.2,534.9 302.5,530 305,524.9M305,524.9 305.7,529.9 303.2,534.9M303.2,534.9 307.5,531.6 310,524.1 312.5,525 312.5,535 311.6,544.9 311.6,556.6 315,562.4 320.8,561.6 324.1,558.3 324.1,558.3M307.5,362.2 303.3,361.9M330,456.2 320,455.2 305.7,454.5M305.7,454.5 304.8,449.9 301.5,444.9 294.9,439.9 287.4,437.4 288.2,434.9 299.9,432.4 304.8,428.3 313.2,421.6M330.3,363.6 330.3,363.6 307.5,362.2M308,368.3 307.5,362.2M308,368.3 308,368.3 309,372M308.3,371.5 308,368.3M308.3,371.5 308.3,371.5 308.4,371.6M308.4,371.6 308.3,371.6 308.3,371.5M308.4,371.6 309,372M309.1,372.4 308.4,371.6M313.2,421.6 310.7,418.3 311.5,411.6 308.2,408.3 308.5,405.5M308.5,405.5 309,401.6 312.7,400.6M312.7,400.6 308.5,405.5M309,372 313.3,374.9 319.9,375.7 323.3,373.2 323.5,373.7M309,372 309.1,372.4M309.1,372.4 311.6,375 319.9,375.8M319.9,375.8 316.5,376.7 309.8,375 309.1,372.4M312.7,400.6 313.3,399.9 319.9,393.2 320.9,391.8M312.7,400.6 314.8,400 314.8,400M330,456.2 330.8,449.9 330,443.3 325.8,441.6 323.3,433.3 320,426.6 313.2,421.6M314.8,400 316.5,408.3 320,411.6 323.3,414.1 330,411.6 336.6,407.5 339.9,409.1 346.6,408.3 353.3,405.8 357.5,403.6M320.9,391.8 321.6,395 320,399.1 314.8,400M363.2,178.6 315,175.8 315,175.8M320,375.8 320,375.8 319.9,375.8M319.9,375.8 320,375.8M323.5,373.7 320,375.8M320.9,391.8 320.8,391.6 321.7,390.6M321.7,390.6 320.9,391.8M321.7,390.6 323.3,388.2 325.8,379.9M325.8,379.9 325.8,380 325,386.6 321.7,390.6M322.4,269.5 322.4,269.5 349.9,271.6M322.4,317.4 322.4,317.4 328.3,319.9 336.6,323.3 343.3,325.8 348.3,329.9 353.2,334.1 357.1,336.1M322.4,317.4 323.3,308.3 327.9,301.6M324.1,558.3 322.5,546.6 325,539.9 325,531.6 320.8,525 324.1,518.3 325.8,515.7 326.6,511.5 330,505.7 325,504.9 325.8,499.9 323.1,492.5M323.1,492.5 323.3,492.4 331.6,490.7 335,491.5M325.8,379.8 323.5,373.7M323.5,373.7 324.1,373.3 325.8,379.8M324.1,558.3 330,571.6M325.8,379.8 325.8,379.9 325.8,379.9M325.8,379.9 325.8,379.8M327.9,301.6 327.9,301.6 329.1,293.3 331.6,285 336.6,281.6 343.3,278.3 349.9,271.6M327.9,301.6 333.3,299.1 341.6,295.8 344.9,292.5 351.6,292.5 359,294.2M354.9,457.4 330,456.2 330,456.2M330,571.6 330,571.6 365.8,572.7M355.7,365.2 330.3,363.6M335,491.5 339.9,498.2 344.9,503.2 346.6,511.5 349.1,515.7 349.9,525 352.4,531.6 356.6,536.6 360.8,538.3 367.3,538.3M335,491.5 338.3,489.9 339.1,481.6 336.6,474.9 339.9,468.2 343.3,469.9 346.6,478.2 348.3,473.2 351.6,468.2 354.9,463.2 354.9,457.4M349.9,271.6 359.9,272.4M354.9,457.4 354.9,457.4 369.9,457.9 369.9,457.9M386.5,366.4 355.7,365.2M357.1,336.1 355.7,365.2M357.1,336.1 357.9,318.6M357.5,403.6 361.6,399.9 366.6,393.2 367.7,390.9M359.2,402.7 357.5,403.6M357.9,318.6 390.7,319.6 390.7,319.6M358.4,308.3 357.9,318.6 357.9,318.6M359.5,281.5 364.9,283.3 369.9,288.3 372.4,295 369.9,301.6 366.6,309.9 364.1,313.3 360.7,311.6 358.4,308.3M359,294.2 358.4,308.3M359,294.2 359.5,281.5M389.6,429.1 386.6,424.9 383.2,419.9 381.6,413.3 376.6,410 368.3,408.3 359.2,402.7M367.7,390.9 367.4,393.3 363.3,400 359.2,402.7M359.5,281.5 400.3,284M359.5,281.5 359.9,272.4M359.9,272.4 360.7,250.4 360.7,250.4M360.7,250.4 394,251.2M360.7,250.4 361.2,215.8M361.2,215.8 369.9,217.4 378.2,218.3 379.1,227.4 386.5,226.6 393.2,227.9 393.2,227.9M361.2,215.8 361.2,215.8 362,201.6M362,201.6 363.2,178.6M362,201.6 362,201.6 369.9,199.1 373.2,201.6 378.2,199.9 384.9,200.8 386.5,206.6 389.9,207.4 411.5,206.9M403.2,180 403.2,180 363.2,178.6 363.2,178.6M367.3,538.3 365.8,572.7 365.8,572.7M365.8,572.7 380.7,573.2 380.7,582.7 380.7,582.7M367.3,538.3 368.3,515.7 369.6,469.6M367.7,390.9 368.3,386.6 369.9,383.4M369.9,383.4 369.9,386.5 367.7,390.9M369.6,469.6 425.7,470.4M369.6,469.6 369.9,457.9M369.9,383.4 369.9,379.9 372.2,374M372.2,374 371.6,380 369.9,383.4M369.9,457.9 388.6,457.7 388.6,457.7M372.2,374 372.4,372.5 372.9,372.4M372.9,372.4 372.2,374M372.9,372.4 373.2,371.6 381.4,369.9M381.4,369.9 372.9,372.4M389.9,624.9 390.7,613.2 392.4,608.2 390.7,604.9 386.6,598.2 379.9,596.6 380.7,582.7M380.7,582.7 399.9,582.4 401.2,573.2M381.4,369.9 381.6,369.9 381.6,369.9M381.6,369.9 381.6,369.9 381.4,369.9M381.6,369.9 386.5,366.4M386.5,366.4 390.2,366.6 390.2,366.6M388.6,457.7 434.8,457.9 436.5,459.1M388.6,457.7 389.6,429.1 389.6,429.1M389.6,429.1 429.9,429.1 434,427.4M389.6,429.1 389.7,409.1M389.7,409.1 389.7,409.1 409.9,409.1 433.5,407.5M389.7,409.1 389.9,389.5 389.9,389.5M389.9,389.5 422.3,390.5M389.9,389.5 389.9,389.5 390.2,366.6M389.9,624.9 389.9,624.9 394.9,624.9 398.6,628.7 403.6,633.1 408.6,637.4 411.8,641.4M390.2,366.6 391.2,357.4M391.2,357.4 391.2,357.4 392.4,339.9 390.7,319.6M390.7,319.6 399.9,319.4 399.9,319.4M421.5,356.6 421.5,356.6 391.2,357.4M394,251.2 393.2,227.9M393.2,227.9 411.5,227.4 413.2,223.3 416.5,219.9 416.5,219.9M400.7,251.2 394,251.2 394,251.2M442.5,320.6 430,320.3 399.9,319.4M399.9,319.4 400.1,302.4M400.1,302.4 400.3,284M400.1,302.4 400.1,302.4 408.2,300.8 413.2,303.6 419.8,303 430,304.6 432.5,309.1 442.5,309.6M400.3,284 400.4,273.5M400.4,273.5 400.4,273.5 430,274.5 442.5,274.5M400.4,273.5 400.7,251.2M400.7,251.2 428.2,251.2M401.2,573.2 419,574.1 419,584.6 429.9,584.9 434.8,586.6 439.8,585.7M401.2,573.2 401.2,573.2 401.2,563.6 392.4,563.3 391.9,553.3 395.7,552.4 395.7,543.6 404.9,543.3 406.5,520 406.5,515.7 404.9,511.5 404.9,502.4 414.5,502.4 414.9,492.9 425.7,493.2M411.5,206.9 409.9,190.8 404,190 403.2,180M433.3,179.6 430,179.6 403.2,180M411.5,206.9 417.3,206.7M411.8,641.4 436.6,641.8 436.7,641.8M411.8,641.4 415,648.3 419.1,656.6 423.3,663.3 428.3,669.9 434.1,675.7 436.6,678.2 436.6,684.9 439.1,691.6 442.4,698.2 444.9,704.9 453.2,706.5 454,707M416.5,219.9 416.5,219.9 424.8,220.3 425.7,234.9 427.3,235.7M416.5,219.9 417.3,206.7M417.3,206.7 430,206.3 449.1,206.3M422.3,373.2 421.5,356.6M421.5,356.6 421.8,349.9 430,349.1 455.1,348.2 455.1,348.2M433.2,389.6 430,390.7 422.3,390.5M422.3,390.5 422.3,390.5 422.8,383.2 425.7,379.9 426.5,374.9 422.3,373.2M422.3,373.2 422.3,373.2M422.3,373.2 422.3,373.2 422.3,373.2M455.2,372.4 436.6,374 430,373.2 422.3,373.2M425.7,470.4 426.2,484M425.7,493.2 425.7,492.8 425.7,470.4M425.7,493.2 425.7,503.2 425.7,503.2M425.7,503.2 425.7,503.2M425.7,503.2 425.7,503.2 425.7,503.2M425.7,503.2 426,503.2M425.7,503.2 426,503.2M425.9,515.7 425.7,503.2M425.9,515.7 425.9,516 425.9,515.7M425.9,515.7 425.9,515.7M425.9,515.7 426,503.2M455,525 455,525 450,525 441.5,521.6 436.5,517.5 431.5,518.3 426.5,515 425.9,515.7M426,503.2 430.8,504 450,502.6M426,503.2 426,503.2M426,503.2 426.2,484M426,503.2 431.5,503.2 450,502.6M426.2,484 431.5,485.7 434.8,484 438.2,480.7 435.2,478.5M428.2,251.2 427.3,235.7 427.3,235.7M427.3,235.7 450.8,235.2 450.8,235.2M428.2,251.2 442.5,252.4M433.5,407.5 433.2,389.6M433.2,389.6 433.2,389.6 450,388.6 455.3,388.5 455.3,388.5M449.1,206.3 446.6,202.4 440.8,200.8 439.1,194.9 435,193.3 433.3,179.6M469.1,179.6 433.3,179.6M434,427.4 433.5,407.5M433.5,407.5 450,405.3 453.3,405 460.8,403.3 463.3,410 473.3,410 474.1,406.6 480.8,405.7M434,427.4 444.8,427.4 445.7,429.1 450,428.6 455,430.8 461.6,429.9 478.3,429.1 478.3,429.1M436.5,459.1 434,427.4M459.1,479.6 459.1,479.6 435.2,478.5M435.2,478.5 434.8,478.2 434.8,469.9 439.8,469.1 439,463.2 436.5,459.1M436.5,459.1 478.3,457.4 478.6,457.4M436.7,641.8 447.4,641.9 447.9,638.3 454.9,639.1 459.9,644.9 464.9,651.6 467.4,659.9 468.2,666.6 466.6,671.6 465.7,676.6 464.1,678.2 464.9,685.7 469.9,683.2 476.6,680.7 480.9,680.8M436.7,641.8 437.5,629 445,629 453.3,624.9 460.8,616.5 463.6,604.9M463.6,604.9 465.8,598.2 460,586.6 455.8,589.9 448.3,586.6 439.8,585.7M439.8,585.7 439.8,585.7 439.8,572.4 432.9,571.6 432.4,552.4 434.8,542.4 445.7,541.6 445.7,532.5 450,531.6 454.1,530.8 455,525M442.5,252.4 442.5,252.4 480.8,250.7M442.5,274.5 442.5,252.4M442.5,298.3 442.5,285.7 442.5,274.5M442.5,274.5 442.5,274.5 484.1,273.1M442.5,309.6 442.5,298.3M442.5,298.3 442.5,298.3 485.1,296.6M442.5,320.6 442.5,309.6M455,323.3 455,323.3 451.6,320.8 442.5,320.6M450,209.9 449.1,206.3 449.1,206.3M450,209.9 450,209.9 474.1,209.8M450.8,235.2 450.8,235.2 450,223.2 450,209.9M450,502.6 452.5,502.4 452.5,494 457.5,493.2 460.8,496.5M478.3,234.1 450.8,235.2M454,707 458.2,709.9 464.9,712.4 474.9,713.2 481.6,717.4 485.7,714 483.2,709.9 480,701.8M454,707 458.2,697.4 465.7,696.6 466.2,700.7 479.1,700.7 480,701.8M455,323.3 461.6,324.1 468.3,322.4 474.9,323.3 479.9,325.8 484.1,328.3 485.8,329.1M455.1,348.2 455,323.3M455,525 461.6,525 461.9,525.5M455.1,354.1 455.1,348.2M455.2,372.4 455.1,354.1M455.1,354.1 461.6,351.6 463.3,347.4 484.9,346.6 491.6,348.2 493.3,350.7M455.2,372.4 455.2,372.4M455.2,372.4 455.2,372.4M455.2,372.4 455.2,372.4M455.3,388.5 455.2,372.4M455.2,372.4 478.3,371.2 479.1,374.9 485.8,374.9 486.3,369.1 498.6,369M480.8,388 455.3,388.5M460.8,496.5 458.3,490.7 460,488.2 459.1,479.6M459.1,479.6 478.3,478.2 483.3,476.6M461.6,513.2 461.6,513.2 460.8,496.5 460.8,496.5M461.6,513.2 461.6,513.2M461.6,513.2 461.6,513.2 461.6,513.2M461.6,513.2 469.9,509 483.3,508.2 486.6,506.5 492.4,507.4M461.9,525.5 461.6,513.2M461.6,513.2 471.6,512.5 472.4,509.2 483.3,508.3 486.6,506.7 492.4,507.4M505.7,529.1 505.7,529.1 503.2,530 496.6,532.5 491.6,530.8 486.6,528.3 481.6,532.5 479.9,530 474.9,530.8 469.9,528.3 465,530 461.9,525.5M463.6,604.9 466.6,608.2 474.9,609.1 483.3,606.6 491.6,601.6M463.6,604.9 463.6,604.9 463.6,604.9M463.6,604.9 463.6,604.9M474.1,209.8 473.3,204.9 471.6,196.6 470.8,188.3 469.1,179.6M499.9,178 499.9,178 469.1,179.6 469.1,179.6M474.1,209.8 474.1,209.9 476.6,219.9 478.3,234.1 478.3,234.1M480.8,250.7 481.6,246.6 479.9,239.9 478.3,234.1M478.3,234.1 486.6,232.4 502.9,230.7M478.3,429.1 484.1,429.9M478.6,457.4 478.3,429.1M484.9,457.2 478.6,457.4M480,701.8 479.9,701.6 479.1,698.2 478.2,691.6 479.9,684.9 480.9,680.8M484.1,273.1 483.3,264 478.3,258.2 480.8,250.7M480.8,405.7 479.9,394.9 480.8,388 480.8,388M480.8,388 506.6,387.4M480.8,405.7 483.3,407.5 490.8,408.3 491.6,405.8 501.6,405.8 506.6,407.5 511.6,410 515.7,407.5 518.4,407.1M484.1,429.9 482.4,413.3 480.8,405.7M480.9,680.8 481.6,678.2 483.2,671.6 484.9,666.6 489.9,661.6 492.8,657.9M483.3,476.6 489.9,478.2 498.3,479.9 498.3,479.9M483.3,476.6 482.4,472.4 481.6,466.6 485.8,461.6 484.9,457.2 484.9,457.2M484.1,273.1 484.1,273.2 484.3,281.5M522.4,431.3 499.1,432.4 498.3,429.9 492.4,429.1 491.6,431.6 484.1,429.9M485.1,296.6 484.4,285.7 484.3,281.5M484.3,281.5 501.6,281.2 501.6,281.2M484.9,457.2 524.1,455.8M485.1,296.6 485.8,306.6M485.8,329.1 485,327.3 483.3,323.3 484.9,316.6 483.3,309.9 485.8,306.6M485.8,306.6 511.6,305.3M493.3,350.7 493.3,350.7 491.6,343.2 488.3,334.9 486.6,330.9 485.8,329.1M485.8,329.1 518.2,326.6 518.8,326.6M491.6,601.6 498.3,604.9 502.4,609.9 504.9,614.9 504.9,614.9M491.6,601.6 489.9,593.2 500.7,584.9 495.8,577.4 502.4,571.6 496.6,564.1 501.6,563.3 501.6,553.3 504.9,549.9 506.6,541.6 514.9,539.1 514.8,527.2M492.4,507.4 494.9,511.5 501.6,513.2 507.4,514 506.6,518.2 505.7,525.7 505.7,529.1M499.9,497.4 493.3,499 492.4,507.4M492.8,657.9 489.9,656.6 484.9,653.3 484,648.3 486.6,645.7 493.3,639.9 499.9,631.5 506.6,623.2 504.9,614.9M492.8,657.9 493.2,657.4 496.5,655.8 501.5,654.1 508.2,652.4 514.8,648.3 519.9,645.7 523.2,639.9 526.6,636.5 529.9,631.5 526.6,628.2 528.2,624.9 531.6,624 533.2,628.2 534.9,629.9 541.5,626.5 549,622.4M493.3,350.7 496.6,356.6 497.4,363.2 498.6,369M493.3,350.7 523.2,349.9 523.2,349.9M498.3,479.9 499.9,484.1 506.6,485.7 512.4,484.1 513.2,479.1 519.9,477.4 527.9,476.6M498.3,479.9 499.1,486.6 496.6,488.2 498.3,494.9 499.9,497.4M498.6,369 499.1,371.6 500.1,373.5M502.9,230.7 502.4,219.9 501.6,209.9 499.9,199.9 495.7,199.1 494.9,189.9 496.6,187.5 501.6,184.1 502.4,180.8 499.9,178M533.5,185.7 529.9,185.3 523.2,187.5 513.2,184.6 508.2,183.6 505.2,169.6 499.9,170 499.9,178M499.9,497.4 506.6,496.5 513.2,494.9 519.9,496.5 524.1,494 530,494.9M506.6,387.4 503.2,379.9 500.1,373.5M500.1,373.5 521.6,373.2 521.6,373.2M510.7,282.3 501.6,281.2M501.6,281.2 500.7,274.9 503.2,273.2 503.2,263.2 504.9,261.5 504.1,239.9 502.9,230.7M502.9,230.7 509.1,228.2 509.9,231.6 511.6,236.6 515.7,239.9 516.6,229.1 516.6,229.1M504.9,614.9 508.2,614 514.9,613.2 521.6,611.6 523.2,607.4 529.9,604.9 534.9,611.6 541.5,609.9 552.4,608.2M514.8,527.2 511.6,528.3 505.7,529.1M506.6,387.4 506.6,387.4 513.2,389.9 515.7,393.2 514.1,398.2 518.4,407.1M510.7,282.3 511.6,282.4 526.5,281.5 536.5,280.7 536.5,280.6M511.6,305.3 510.7,292.5 507.4,291.6 507.4,288.3 510.7,282.3M511.6,305.3 517.4,305 517.4,305M514.8,527.2 516.6,526.6 519.9,528.3 526.6,531.6 531.9,531.6M516.6,229.1 516.6,239.9 524.9,242.4 526.5,249.9 527.4,256.5 530.7,258.2 529.9,266.5 528.2,269.9 529.9,273.2 534,274.9 537.4,272.4M516.6,229.1 524,228.2 524.9,222.4 535.7,221.6M518.8,326.6 518.2,325.8 517.4,305M517.4,305 541.5,303.8M518.4,407.1 518.4,407.1M518.4,407.1 521.6,406.6M518.4,407.1 521.6,406.6M523.2,349.9 524.1,338.3 520.7,334.9 519.9,328.3 518.8,326.6M518.8,326.6 552.4,324.9 552.4,324.9M521.6,406.6 521.6,406.6M521.6,406.6 521.6,406.6 521.6,406.6M521.6,406.6 524.9,410.8 533.2,409.1 539.9,407.5 549.9,406.6 550.3,406.3M522.4,431.3 522.4,431.3 521.6,406.6M521.6,373.2 520.7,358.2 523.2,349.9M553.2,370.7 553.2,370.7 521.6,373.2M523,440.8 522.4,431.3M524.1,455.8 523,440.8M523,440.8 533.2,439.9 539.9,440.8 540.7,435.8 548.2,434.9 550.7,432.4 562.4,433.3M523.2,349.9 548.2,349.1 548.2,349.1M526.6,466.6 524.1,455.8 524.1,455.8M527.9,476.6 526.6,466.6M526.6,466.6 557.4,465.2 557.4,465.2M527.9,476.6 529.1,484.9 529.1,485.3M530,494.9 529.1,485.3M529.1,485.3 559,484.4M530,494.9 530.7,503.2 531.3,519.6 531.3,520 531.6,525.7M531.9,531.6 531.6,525.7M531.6,525.7 534.9,518.2 541.5,516.5 543.2,509 551.5,508.2 553.2,516.5M531.9,531.6 539.9,535 541.5,546.6M551.5,228.2 558.3,221.6 565,214.9 571.6,206.6 576.6,201.6 583.3,197.5 589.1,194.6 581.6,193.6 573.3,194.1 569.1,191.6 565,193 560,195.8 555,194.1 548.3,190.8 543.3,190 541.5,189.1 534,185.8 533.5,185.7M535.7,221.6 535.7,221.6 534.9,209.9 534,196.6 533.5,185.7M535.7,221.6 537.4,227.4 549.9,228.2 551.5,228.2M536.5,280.6 536.5,280.6M536.5,280.6 537.4,272.4M536.5,280.6 539.9,280.8 541.5,303.8M537.4,272.4 536.5,280.6M537.4,272.4 537.4,272.4 539.7,273.2M539.7,273.2 544,274.9 544.9,264.1M571.6,295.7 565,288.2 556.6,281.5 546.7,276.5 539.7,273.2M539.7,273.2 543.3,269.9 544.9,264.1M544.9,573.3 544.9,573.3 543.2,566.6 542.4,556.6 541.5,546.6 541.5,546.6M541.5,546.6 552.4,546M541.5,303.8 551.5,303.3 551.5,303.3M541.9,253.7 544.2,258.2 544.9,264M544.9,264 544,259.9 541.5,254.9 541.9,253.7M541.9,253.7 541.7,253.2 542.5,252M542.5,252 541.9,253.7M542.5,252 543.2,249.9 544.8,248.5M544.8,248.5 542.5,252M544.8,248.5 545,248.2 549.1,244.1M549.1,244.1 549,244.9 544.8,248.5M544.9,264.1 544.9,264 544.9,264M544.9,264.1 544.9,264M575,269.9 562.5,270.2 561.6,264 544.9,264.1M544.9,573.3 548.2,574.1 553.2,572.4 558.2,568.3 558.2,568.3M552.9,595.2 553.2,593.2 551.5,586.6 548.2,578.3 544.9,573.3M553.2,370.7 553.2,356.6 549,355.7 548.2,349.1M548.2,349.1 558.2,348.2M549,622.4 553.2,623.2 563.2,621.5 580,623.2 585,623.2 585,623.2M552.4,608.2 549.9,616.5 549,622.4M549.1,244.1 551.5,228.2M551.5,228.2 550,243.2 549.1,244.1M550.3,406.3 552.4,405 552.6,405M552.6,405 550.3,406.3M571.6,221.6 565,224.1 556.6,225.8 551.5,228.2M552.4,324.9 551.5,303.3M551.5,303.3 572.3,300.8M552.4,546 553.2,540 551.5,530 549.9,521.6 553.2,516.5M552.4,546 556.5,545.8M552.4,608.2 552.4,608.2 551.5,603.2 552.9,595.2M552.4,324.9 552.4,324.9 553.2,330.8 558.2,329.9M552.6,405 554.5,405.3 554.9,405.3M552.6,405 554.2,404.1 555.4,403.2M552.9,595.2 568.2,594.9 568.2,594.9M553.2,516.5 561.5,518.2 569.8,521.5 580.7,523.2M553.2,383.3 554.8,392M554.8,392 553.2,386.5 553.2,383.3M553.2,383.3 553.2,370.7M553.2,370.7 570.7,368.2 575.2,372.7M554.8,392 555.4,394.2M555.4,394.2 555,393.3 554.8,392M554.9,405.3 558.2,405.8 558.2,405.8 563.2,411.6 568.2,415.8M555.4,403.2 554.9,405.3M555.4,394.2 558.3,400.8 555.4,403.2M555.4,403.2 556.5,398.2 555.4,394.2M558.2,568.3 555.7,566.6 554.9,561.6 558.2,558.3 556.5,545.8 556.5,545.8M556.5,545.8 556.5,545.8 580,544.1M559,484.4 558.2,474.9 557.4,465.2M557.4,465.2 570.7,463.2M564.8,571.6 561.5,566.6 558.2,568.3M558.2,329.9 558.2,329.9 558.2,329.9M558.2,329.9 558.2,329.9M558.2,329.9 558.2,348.2M558.2,348.2 558.2,348.2 571.5,349.9 581.1,352.2M559,484.4 559.9,489.9 569.8,491.6 574.1,493.2M570.7,463.2 569.8,453.3 567.3,449.9 566.5,438.3 562.4,433.3M562.4,433.3 563.2,429.9 566.5,421.6 568.2,415.8M564.8,571.6 564.8,571.6 566.5,576.6 573.2,573.3 580,569.9 590,570.7M568.2,594.9 566.5,584.9 568.2,581.6 564.8,571.6M580,604.9 574.8,603.2 573.2,595.7 568.2,594.9M568.2,415.8 568.2,415.8 568.2,415.8M568.2,415.8 568.2,415.8M568.2,415.8 569.8,420.8 576.5,421.6 577.3,423.3 580,422.5 590.8,421.6 592.5,415.8 599.9,416.6M570.7,463.2 570.7,463.2 580,462.4 586.6,462.1M580.8,227.9 580.8,227.9 572.5,227.4 571.6,221.6M575,269.9 575,258.2 576.6,256.6 575.8,244.1 572.5,243.2 571.6,221.6M571.6,295.7 587.5,295.8M572.3,300.8 572.3,300.8 571.6,295.7M585.6,323.1 580,318.3 575.7,308.3 572.3,300.8M575,498.2 574.1,493.2M574.1,493.2 578.3,488.2 579.1,478.2 585.8,476.6 586.6,462.1M585.8,279.4 585.8,279.5 577.5,279 575,269.9M575,498.2 575,498.2 581.6,499 585.8,496.6 588.3,489.9 593.3,489.1 601.6,488.2 612.3,488.8M575.8,513.2 575,498.2M575.2,372.7 575.7,373.2 576.4,380.2M576.4,380.2 575,373.2 575.2,372.7M575.2,372.7 577.5,366.6 582.5,358.2 581.1,352.2M575.8,513.2 582.5,513.2 585.8,519.9 591.6,524.9 595.8,523.2M580.7,523.2 580.8,521.5 575,519.9 575.8,513.2M576.4,380.2 576.6,381.5 579.1,388.2 579.2,388.3M579.2,388.3 576.5,381.5 576.4,380.2M600.8,412.5 601.6,407.5 598.3,405 591.6,405.7 586.6,399.9 580,393.2 579.2,388.3M579.2,388.3 588.3,387.4 596.6,379M590,570.7 583.3,568.3 581.6,556.6 580,544.1M580,544.1 580.7,523.2M580,544.1 597.5,543.3M585,623.2 585.8,618.2 581.6,613.2 583.3,609.9 580,604.9M580,604.9 590,604 598.3,605.7 599.9,604.9M603.3,238.2 593.3,235.7 585,233.2 580.8,227.9M629.1,224.1 624.9,219.9 619.9,217.4 613.3,216.6 609.9,219.1 609.1,213.3 605.8,210.8 601.6,214.1 596.6,218.3 586.6,223.3 580.8,227.9M599.7,352.7 598.3,353.2 591.6,354.1 583.3,354.9 581.1,352.2M581.1,352.2 580.8,350.7 586.6,346.6 591.6,343.2 595,338.3 594.1,331.6 587.5,326.6 585.8,323.3 585.6,323.1M585,623.2 587.5,621.5 591.6,623.2 592.5,625.7 598.3,624.9 602.9,627.9M585.6,323.1 599.9,321.6 599.9,321.6M587.5,295.8 585.8,279.4M585.8,279.4 586.6,272.4 603.3,270.2M586.6,462.1 598.3,461.7M587.5,295.8 587.5,295.8 600.8,295.4M594.1,574.9 590,570.7 590,570.7M599.9,604.9 595,596.6 592.5,589.9M592.5,589.9 593.3,583.2 594.1,574.9M592.5,589.9 613.2,588.3M597.5,543.3 599.1,548.3 599.9,554.9 601.6,558.3 599.9,563.3 597.5,569.9 594.1,574.9 594.1,574.9M595.8,523.2 595.8,523.2 595,530.7 597.5,535M595.8,523.2 598.3,516.5 603.3,511.5 604.9,504.9 608.3,499.9 610.2,494.7M596.6,379 599.9,374.9 603.3,368.2 600.8,364.9 599.7,352.7M619.1,386.5 619.1,386.5 616.6,382.4 609.9,380.7 603.3,381.5 601.6,378.2 596.6,379M597.5,543.3 597.5,543.3 597.5,535M597.5,535 604.9,531.6 605.8,522.5 609.1,525.8 616.6,525.8M598.3,461.7 596.6,452.9 603.3,451.6 606.6,448.3 613.3,444.9 619.9,442.4M598.3,461.7 608.3,461.3 609.1,466.6 605.8,469.9 607.4,472.4 618.2,471.8M599.7,352.7 604.9,350.7 614.9,351.1M604.9,606.5 604.9,606.5 599.9,604.9M599.9,321.6 599.1,308.3 600.8,295.4M614.9,320 599.9,321.6M619.9,442.4 618.3,436.6 613.3,430 606.6,423.3 599.9,416.6M599.9,416.6 599.9,416.6 600.8,412.5 600.8,412.5M600.8,295.4 612.4,295M600.8,412.5 611.6,410.8 617.9,410M602.9,627.9 603.3,628.2 604.9,631.5 611.6,632.4 616.6,629.9 621.6,631.5 623.3,628.2 626.6,624.9 624.9,621.5 631.6,623.2 638.2,626.5 643.2,629 642.4,633.2 648.2,629.9 649.1,626.5 643.2,624.9 638.2,621.5 634.9,618.2 639.9,614.9 640.7,609.9 636.6,607.4 634.9,604.9M602.9,627.9 608.3,621.5 607.4,614.9 603.3,611.5 604.9,606.5M603.3,238.2 603.3,238.2 616.6,239.1 619.9,242.4 624.9,248.2 627.4,255.7 629.1,256.6M603.3,270.2 602.4,259.9 599.1,258.2 599.1,251.6 603.6,249.9 603.3,238.2M603.3,270.2 603.3,270.2 613.3,269M604.9,606.5 611.6,605.7 618.3,604.9M618.3,523.2 616.6,516.5 611.6,508.2 610.2,494.7M612.3,488.8 610.8,493.2 610.2,494.7M610.2,494.7 632.3,492.2M618.2,471.8 615.8,478.2 614.1,483.2 612.4,488.2 612.3,488.8M613.3,269 611.6,279.9 612.4,295M612.4,295 612.9,295 621.6,295.3M613.2,588.3 613.3,581.6 617.4,579.9 618.3,564.9M628.2,587.1 613.2,588.3M613.3,269 621.6,269.9 624.1,269.9M614.9,351.1 614.9,351.1 617.4,351.4M614.9,320 615.8,338.3 614.1,341.6 614.9,351.1M618.3,319.6 614.9,320M616.6,525.8 616.6,525.8M616.6,525.8 614.1,531.6 614.9,538.3 612.4,541.6 614.1,546.6 619.1,548.3 618.3,552.4 613.3,554.9 616.6,558.3 618.3,564.9M616.6,525.8 616.6,525.8 616.6,525.8M616.6,525.8 616.6,530.7 618.3,523.2 618.3,523.2M617.4,351.4 618.3,351.6 628.3,349.1 633.2,344.9 642.1,344M624.9,382.4 625.8,376.5 628.3,373.2 627.4,365.7 624.9,359.9 619.1,359.1 617.4,351.4M617.9,410 617.4,405.7 618.3,394.9 619.1,386.5M617.9,410 617.9,410 621.6,410M618.2,471.8 618.3,471.6 619.1,463.3 619.9,458.3 624.1,456.6M621.6,295.3 622.4,305 620.8,305.8 619.9,313.3 616.6,314.1 618.3,319.6M618.3,319.6 618.3,319.6 634.3,318.1M628.3,606.5 626.6,609.5 620.8,609 618.3,604.9M618.3,604.9 618.3,604.9 619.9,602.4 626.6,603.2 628.3,606.5 628.3,606.5M618.3,523.2 633.2,525.7M618.3,564.9 626.6,564.9 627.4,559.9 634.1,559.9M619.1,386.5 624.9,382.4M619.9,442.4 623.3,445.8M621.6,410 621.6,410 623.3,415 628.3,415.3 628.3,410.8 636.6,410.8 645.7,409.6 648.2,410M631.6,439.9 630.7,429.1 622.4,428.3 621.6,410M621.6,295.3 621.6,295.3 631.2,295.7M624.1,456.6 624.1,456.6 625.8,450.8 623.3,445.8 623.3,445.8M623.3,445.8 628.3,442.4 631.6,439.9M637.4,442.4 634.9,444.1 628.3,443.3 623.3,445.8M624.1,269.9 624.1,269.9 624.1,269.9M629.1,256.6 626.6,263.2 624.9,266.5 624.1,269.9M624.1,269.9 624.1,269.9M624.1,269.9 626.6,269 630.7,264 634.1,264.9 633.2,273.2 632.4,283.2 631.2,295.7M624.1,456.6 645.7,455.8M624.9,382.4 624.9,382.4 633.2,379.9 646.2,377.4M628.2,587.1 628.3,587.1 628.3,587.1M628.3,587.1 628.2,587.1M634.9,604.9 633.2,600.7 629.9,594.9 628.3,587.1M628.3,587.1 637.4,586.6 637.4,586.6M628.3,606.5 634.9,604.9M672.4,233.2 673.2,229.9 679.9,229.1 685.7,228.3 680.7,223.3 677.4,217.4 671.5,219.9 665.7,218.3 665.7,213.3 656.5,215.8 648.2,219.1 639.9,224.1 633.2,223.3 629.1,224.1 629.1,224.1M633.2,244.1 632.4,240.7 630.7,233.2 629.1,224.1M629.1,256.6 629.1,256.6 631.6,249.9 633.2,244.1M633.3,525.6 634.9,516.5 630.7,514.9M630.7,514.9 629.9,504.9 631.6,501.5 632.3,492.3 632.3,492.2M630.7,514.9 650.7,511.5M631.2,295.7 629.9,300 631.6,308.3 634.1,316.6 634.3,318.1M631.6,439.9 634.9,443.3 637.4,442.4M632.3,492.2 644.9,490.7M633.3,525.6 633.2,525.7 633.2,525.7M633.2,525.7 633.3,525.6M633.2,244.1 634.1,244.9 636.6,243.2 638.2,240.7 640.7,239.9 642.4,244.1 644.1,239.9 648.2,236.6 653.2,234.9 658.2,231.6 663.2,229.9 668.2,230.7 672.4,233.2M634.1,549.9 634.1,549.9 633.2,539.9 635.7,533.3 636.6,524.1 633.3,525.6M634.1,559.9 634.1,549.9M634.1,549.9 652.2,548.6M637.4,586.6 637.4,586.6 636.6,583.2 634.1,576.6 634.9,569.9 634.1,559.9M634.3,318.1 634.9,323.3 638.2,329.9 641.6,334.9M634.9,604.9 639.9,601.6 646.6,599.9 653.2,598.2 657.4,597.4M637.4,442.4 637.4,442.4M637.4,442.4 637.4,442.4 637.4,442.4M642.4,425.8 641.6,433.3 636.6,438.3 637.4,442.4M656.2,585.8 637.4,586.6M641.6,334.9 641.6,334.9 645.7,336.6 651.6,333.3 653.4,330.6M642.1,344 641.2,338.3 641.6,334.9M642.1,344 643.2,351.6 644.9,361.6 644.9,361.9M648.2,410 644.9,415 643.2,420 642.4,425.8M642.4,425.8 644.9,424.1 649.9,423.3 653.2,425 659.9,422.5 664.9,419.1M644.9,490.7 645.7,483.2 644.9,473.2 646.6,464.9 645.7,455.8M644.9,490.7 644.9,490.7 651,489.9M646.2,377.4 646.2,377.4 644.9,361.9M644.9,361.9 658.2,359.9 658.2,359.9M645.7,455.8 646.6,451.6 674.9,448.3 674.9,448.3M648.2,391.5 648.2,391.5 646.2,377.4M648.2,410 648.2,410 649.9,405.7 648.2,391.5M648.2,391.5 654.6,391.6M654.6,391.6 653.2,392.4 648.2,391.5M651.9,538.3 651.6,530.7 650.7,511.5M650.7,511.5 650.7,511.5 650.8,505.7M650.8,505.7 651,489.9M650.8,505.7 650.9,505.7 673.2,504.9 673.2,504.9M651,489.9 684,485.7M652.2,548.6 651.9,538.3 651.9,538.3M651.9,538.3 658.2,535 661.6,534.1 664.9,536.6 673.2,537.5 678.2,539.9 681.5,546.6 683.2,548.3 689.9,544.9M657.4,300 654.9,295.7 652.4,288.2 650.2,281.5 651.6,276.5 652,274.6M652,274.6 653.2,269.9 654,263.2 656.5,258.2 660.7,254.9 662.4,260.7 664.5,259.9 663.5,251.9 666.5,248.2 669.9,244.9 669,239.1 672.4,233.2M652,274.6 668.1,272.7M652.5,554.1 652.4,553.3 652.2,548.6M652.5,554.1 654.1,568.3 655.7,581.6 655.7,581.6M689.9,555.9 683.2,556.6 674.9,554.1 669.9,553.3 668.2,559.1 660.7,559.9 659.9,553.3 652.5,554.1M653.4,330.6 654.9,328.3 658.2,319.9 659.1,309.9 657.4,300 657.4,300M672.4,329.5 671.5,329.6 653.4,330.6M663.2,386.9 661.6,391.7 654.6,391.6M654.6,391.6 663.2,386.9M656.2,585.8 655.7,581.6M655.7,581.6 655.7,581.6 664.9,579.9 666.5,577.4 669.9,576.6 671.5,583.2M657.4,597.4 656.2,585.8M657.4,300 666.5,299.1 669.9,295 670.3,295 670.7,295M657.4,597.4 657.4,597.4 663.2,596.6 664.9,589.9 666.5,596.6 669.9,599.1 674.9,596.6 675.7,595.7M658.2,359.9 663.2,361.6 664.9,358.2 675.7,355.7M663.2,386.9 659.9,373.2 658.2,359.9M664.9,419.1 664.9,413.3 664,405.7 663.2,386.9M663.2,386.9 663.2,386.9 673.2,387.4 674.9,391.5 679.9,391.5M664.9,419.1 664.9,419.1 669,420.8 669,420.8M670.7,295 668.1,272.9 668.1,272.7M668.1,272.7 678.2,271.5M674.9,448.3 669.9,443.3 664.9,438.3 666.5,428.3 669,420.8M669,420.8 673.2,416.6 678.2,413.3 681.5,411.6 681.5,411.6M670.7,295 674.9,295M671.5,583.2 671.5,583.2M671.5,583.2 671.5,583.2 671.5,583.2M675.7,595.7 674,589.9 671.5,583.2M671.5,583.2 710,576.6 722.5,574.9M675.7,355.7 674,343.2 672.4,329.5M674.9,295 675.7,303.3 672.4,308.3 673.2,314.9 677.4,315.8 676.5,323.3 670.7,324.1 672.4,329.5M672.4,329.5 687.4,327.4 687.4,327.4M676.1,235.9 672.4,233.2M689.9,544.9 689.9,538.3 686.5,531.6 678.2,530.8 674.9,530.7 673.2,524.9 679,521.5 679.9,514.9 674,511.5 673.2,504.9M673.2,504.9 684.9,504M674.9,295 688.2,292.5M674.9,448.3 694.8,446.6 696.5,446.3M675.7,355.7 675.7,355.7 679.9,356.6 679.9,356.6M675.7,595.7 678.2,593.2 683.2,590.7 689.9,591.6 696.5,589.9 703.2,590.7 710,594.1 715,596.6 719.1,599.9 720,604.9 726.6,603.2 733.3,599.9 739.1,596.6 739.9,594.1 743.3,592.4 747.4,591.6M697.5,268.3 699.1,266.6 701.6,261.7 700.8,255 700,248.2 694.8,243.2 686.5,239.9 678.2,237.4 676.1,235.9M678.2,271.5 676.5,253.2 676.1,235.9M678.2,271.5 678.2,271.5 697.5,268.3M681.5,411.6 680.7,405.7 679.9,391.5M679.9,391.5 686.5,383.2 686.5,379.9M686.5,379.9 684.9,376.5 679,373.2 678.2,364.9 679.9,356.6 679.9,356.6M679.9,356.6 691.5,354.9M681.5,411.6 683.2,408.3 686.5,407.5M684.9,504 685.7,498.2 683.2,494.9 684,485.7M684,485.7 683.2,473.2 686.5,468.2 684.9,461.6 689.9,454.9 696.5,446.3M684,485.7 684,485.7 698.2,484.4 698.2,484.4M684.9,504 688.2,508.2 689.9,506.5M686.5,379.9 694,379M686.5,407.5 691.5,411.6 694.8,418.3 692.4,423.3 698.2,426.6 704,430M686.5,407.5 688.2,398.2 690.3,397.7M690.9,350.7 687.4,327.4M687.4,327.4 695.2,326.3M688.2,292.5 688.5,292.4M688.5,292.4 689,295.7 688.2,292.5 688.2,292.5M688.5,292.4 688.2,289.9 689.8,283.2 689.9,283.1M688.5,292.4 696.3,290M689.9,283.1 689.2,291.6 696.3,290M689.9,283.1 691.5,273.2 697.5,268.3M689.9,544.9 700,539.9 710,538.3 710.5,543.2M710.5,543.2 704.8,540.8 699.8,544.1 689.9,544.9M689.9,506.5 694.8,501.5 697.3,491.6 697.7,488.3M697.7,488.3 696.7,500 689.9,506.5M689.9,555.9 691.5,555.8 699.8,553.3 708.8,552M708.8,552 708.3,553.3 700,553.3 693.3,555.8 689.9,555.9M696.2,392.5 696.7,398.3 690.3,397.7M690.3,397.7 694.8,396.5 696.2,392.5M691.5,354.9 690.9,350.7M690.9,350.7 706.5,349.9 707.3,344.9 710,344.1 713.3,345.7 715,347.4M693.1,369.9 691.5,354.9 691.5,354.9M694,379 694,379 693.1,369.9M693.1,369.9 703.2,368.2 710,366.6 715.8,369.9M695.9,388.3 694,379M695.2,326.3 694.8,323.3 697.3,318.3 695.7,305 697.3,300 696.5,290M710,324.1 695.2,326.3M695.9,388.3 706.6,388.3 711.6,390 718.3,394.2 718.8,394.9M695.9,388.3 696.5,391.5 696.2,392.5M696.2,392.5 695.8,388.3 695.9,388.3M696.3,290 696.5,290 696.5,290M696.5,290 696.3,290M696.5,446.3 700.7,443.3 701.5,436.6 704,430M696.5,446.3 710,444.1 714.8,443M696.5,290 696.6,290 700,289.1 706.6,287.5 710.8,289.1 720.5,288.6M720.5,288.6 719.1,285 716.6,278.3 714.1,272.5 710.8,270 706.6,270.8 702.5,275 699.1,280 695.8,280.8 693.3,276.6 694.2,271.6 696.6,269.1 697.5,268.3M697.7,488.3 698.2,484.4M698.2,484.4 704.8,504.9 705.2,506.7M703.6,505.9 703.3,504.9 698.2,484.4M698.2,484.4 701.2,477.5 707.5,467.5 713.7,457.5 714.8,443M698.2,484.4 710,482.7 715,481.4M703.6,505.9 705.2,506.7M707.8,518.9 703.6,505.9M704,430 708.3,425 711.6,416.6 718.3,410 721.6,400 721.6,400M705.2,506.7 706.6,507.4 717.5,506.5M705.2,506.7 707.8,518.9M719.1,544.9 719.1,544.9 716.6,539.9 710,525.7 707.8,518.9M710.5,543.2 710.8,546.6 708.8,552M737.3,323.1 734.9,324.9 728.3,328.3 723.3,327.4 719.1,326.3 715.8,327.4 710,324.1M715,347.4 715,347.4 713.3,333.2 710,324.1M710,324.1 712.5,323.3 714.1,318.3 715.8,311.6 717.5,306.6 719.1,300.8 720.8,301.6 722.5,298.3 721.6,291.6 720.5,288.6M714.8,443 715,442.9 730,440.8M715.8,369.9 715,347.4M715,347.4 726.6,344.9 726.6,344.9M717.5,506.5 717.5,506.5 716.6,496.5 715,481.4M715,481.4 720.8,479.9M720,378.2 715.8,369.9 715.8,369.9M731.6,508.2 720,511.5 717.5,506.5M721.6,400 718.8,394.9M718.8,394.9 719.1,388.2 720,378.2M720,378.2 720.8,386.7 718.8,394.9M722.5,574.9 722.5,574.9 721.6,569.9 718.3,556.6 719.1,544.9M719.1,544.9 728.3,543.3 733.3,544.1 739.1,539.9 739.1,539.9M720,378.2 731.6,373.2 731.6,373.2M720.8,479.9 721.6,474.9 725,470.7 730,466.6 735,463.2 739.9,459.1 744.9,454.9 748.3,449.9 754.9,446.6 758.3,448.3 758.7,447.5M720.8,479.9 720.8,479.9 734.1,478.2 734.1,478.2M734.2,394.2 730,391.7 723.3,395 721.6,400M749.1,577.6 725.8,579.9 722.5,574.9M737.4,354.9 728.3,353.2 726.6,344.9M726.6,344.9 727.5,339.9 734.9,336.6 734.9,336.6M730,440.8 735,433.3 739.9,428.3 744.9,423.3 749.9,417.5 752.7,415.4M763.3,435.8 763.3,435.8 730,440.8 730,440.8M731.6,373.2 733.3,379.9 733.3,379.9M731.6,373.2 736.6,364.9 733.3,361.6 737.4,354.9M739.1,539.9 738.3,535 732.5,528.3 733.3,525.7 731.6,508.2M731.6,508.2 731.6,508.2 739.9,506.5 748,503.5M733.3,379.9 738.3,381.5 743.3,378.2 749.9,376.5 753.3,369.9 758.3,368.2 761.6,363.2 763.2,356.6 764.1,350.7 764.1,349.9M734.2,394.2 731.6,388.2 733.3,379.9M748,503.5 746.6,499.9 739.9,493.2 735,486.6 734.1,478.2M734.1,478.2 743.3,476.2 743.3,476.2M738.3,396.6 734.2,394.2M734.9,336.6 737.4,331.6 738.3,326.6 737.3,323.1M734.9,336.6 744.1,335.7 744.9,341.6M758.3,309.1 758.3,309.1 748.3,314.9 741.6,319.9 737.3,323.1M737.4,354.9 737.4,354.9 745.8,351.6M746.3,409.5 739.9,401.6 738.3,396.6 738.3,396.6M738.3,396.6 739.1,396.6 743.3,393.3 744.1,387.5 745,384.1 746.6,381.6 748.7,383.7 750.8,382.5 750,379.1 750.8,379.1 753.3,380 758.5,380.4M739.1,539.9 746.6,541.6 753.3,544.9 758.3,541.6 767.4,543.3M749.1,577.6 747.4,569.9 743.3,568.3 741.6,553.3 739.1,539.9M753.3,491.6 744.9,486.6 741.6,481.6 743.3,476.2M743.3,476.2 754.9,470.7 768.3,466.6 768.3,466.6M745.8,351.6 744.9,341.6 744.9,341.6M744.9,341.6 746.6,333.2 754.9,329.9 762.7,328.3M745.8,351.6 764.1,349.9 764.1,349.9M746.3,409.5 746.8,410.1M746.8,410.1 746.6,410 746.3,409.5M753.3,415 753.3,415 746.8,410.1M752.7,415.4 750.2,413.7 746.8,410.1M747.4,591.6 749.9,584.9 749.1,577.6M747.4,591.6 747.4,591.6 753.3,594.9 759.9,599.9 764.9,604.9 769.9,609 776.6,609.9M748,503.5 748.3,504 758.3,504.9M749.1,577.6 750.8,577.4 774.9,575.3M753.7,415.3 753.3,415.8 752.7,415.4M752.7,415.4 753.3,415M753.3,491.6 753.3,491.6 756.6,488.2 761.6,484.9 768.3,488.2 773.2,483.2 776.6,479.9M763.3,502.4 763.3,502.4 756.6,494.9 753.3,491.6M753.7,415.3 753.3,415M783.2,415 778.2,413.3 771.6,415.8 764.9,418.3 759.9,420 753.7,415.3M753.7,415.3 759.6,406.4M762.7,328.3 762.4,326.6 758.3,309.1M770.2,300.8 766.6,303.3 758.3,309.1M758.3,504.9 758.3,504.9 763.3,502.4M768.3,534.1 768.3,534.1 763.3,528.3 766.6,525.7 763.3,514.9 758.3,504.9M758.5,380.4 763.7,385.6 767.9,388.7 767.9,388.7M758.5,380.4 760.1,376.2 760.6,371 763.7,366.9 768.9,363.7 769.9,359.1M758.7,447.5 761.6,448.3 768.3,451.6 770.7,456.6M758.7,447.5 761.6,443.3 763.3,435.8M759.6,406.4 764.8,413.7 772.1,407.4 777.3,401.2 781.4,398.1 786.9,397.4M767.9,388.7 765.8,393.9 762.7,398.1 761.6,403.3 759.8,406.1 759.6,406.4 759.6,406.4M764.5,340.7 762.7,328.3M762.7,328.3 769.9,325.8 776.6,324.9 779.9,327.4 786.6,326.6 789.9,328.3 793.2,329.9M763.3,502.4 778.2,511.5M763.3,435.8 780.7,432.4 780.7,432.4M764.1,349.9 764.5,340.7M769.9,359.1 766.6,349.9 764.9,343.2 764.5,340.7M774.9,575.3 773.2,571.6 769.9,563.3 765.8,556.6 767.4,543.3M767.4,543.3 768.3,534.1M767.9,388.7 771,386.6 776.2,382.5 780.4,378.3 782.5,374.1 784.5,370 783.5,365.8 781.9,361.6 782.3,356.7M768.3,534.1 779.9,535 789.9,531.6 794.9,534.1M768.3,466.6 768.3,458.3 770.7,456.6M775.7,466.2 775.7,466.2 768.3,466.6M769.9,359.1 782.3,356.6M769.9,359.1 782.3,356.7M783,302 770.7,304.9 770.2,300.8M822.5,237.8 822.5,238.1 820,240.6 818.1,242.5 820,244.3 821.2,247.4 818.9,250 821,253.1 819.9,257.3 815.8,261.4 809.5,266.1 800.2,268.7 790.8,268.7 782.5,270.8 776.8,275 776.8,278.1 779.4,280.2 780.4,285.4 775.2,291.6 770,298.9 770.2,300.4 770.2,300.8M770.7,456.6 771.6,444.9 784.1,442.9 784.1,442.9M813.2,453.3 813.2,453.3 803.2,451.6 789.9,454.1 770.7,456.6M792.4,567.9 783.2,568.3 783.2,577.4 780.7,578.2 779.9,574.9 774.9,575.3M776.6,479.9 776.6,479.9 775.7,466.2M775.7,466.2 779.9,465.7 783.2,466.6 788.2,470.7M776.6,609.9 776.6,609.9 778.2,616.5 779.9,623.2 779.1,629.9 779.1,630M776.6,609.9 779.9,598.2 784.9,596.6 789.9,598.2 796.6,596.6 804.9,594.9 806.5,596.6M776.6,479.9 779.9,486.6 779.9,486.6M778.2,511.5 778.2,511.5 784.9,504.9M794.9,534.1 792.4,530.8 786.6,525.7 783.2,516.5 778.2,511.5M779.1,630 779.9,635.7 780,638.7 783.1,640.6 783.7,636.2 787.5,637.5 786.2,641.2 783.7,644.9 785,646.2 788.7,651.2 793.1,654.9M779.1,630 789.9,624.9 816.5,617.4 819,612.4M779.9,486.6 788.2,487.4 793.2,483.2 798.2,479.9M784.9,504.9 779.9,499.9 778.2,493.2 779.9,486.6M780.7,432.4 781.4,428.2 783.5,423 785,417.9M785,417.9 785.7,419.1 783.2,425 780.7,432.4M782.9,431.9 780.7,432.4M782.3,356.7 782.3,356.6M782.3,356.7 787.7,355.6M782.3,356.6 787.7,355.5M784.1,442.9 782.9,431.9M782.9,431.9 815.1,424.7M783,302 781.4,292.7 790.3,290.1M807.5,297.9 783,302 783,302M783.2,415 783.2,415 785,417.9M785,417.9 783.2,415M783.2,415 782.5,413.7 784.5,407.4 785.6,403.3 786.6,398.1 786.9,397.4M784.1,442.9 784.1,442.9 791.6,444.1 798.2,442.4 806.5,443.3 813.2,441.6 818.2,438.3 821.5,436.6 826.5,439.9M784.9,504.9 784.9,504.9 793.2,509 799.9,504.9 806.5,499.9M809.9,386.7 806.4,388.7 804.3,393.9 800.2,396 797,400.2 794.9,404.3 791.8,408.5 790.8,412.6 788.7,416.8 785,417.9M786.9,397.4 788.7,392.9 790.3,387.7 790.8,383.5 793.8,384M787.7,355.6 787.7,355.5M787.7,355.5 795.7,353.9M794.9,364.8 794.9,364.8 789.7,367.1 787.7,355.6M787.7,355.6 795.8,354M798.2,479.9 791.6,470.7 788.2,470.7M788.2,470.7 806.5,469.1 809.9,468.2M826.2,289 819.9,288.5 813.7,289.5 811.6,284.9 803.3,285.9 801.2,288.5 790.3,290.1 790.3,290.1M790.3,290.1 788.7,283.8 797.1,280.2 798.1,277.6 803.3,277.1 804.3,274.5 809.5,272.4 815.8,270.3 819.9,266.6 825.2,264.6 828.8,263.5M806.5,596.6 806.5,596.6 803.2,589.9 798.2,579.9 794.1,569.9 792.4,567.9M792.4,567.9 792.4,564.9 792.4,556.6 794.1,548.3 796.6,539.9 798,533.6M793.1,654.9 793.7,658.1 797.5,659.9 801.2,659.9 800,663.7 802.5,666.2 805,669.9 807.5,674.9 809.9,678.7 814.9,678.7 818.7,681.2 822.4,686.1 824.9,689.9 826.2,693.6 829.9,695.5 832.9,694M793.1,654.9 801.2,652.4 812.4,649.9 814.9,646.2 819.9,644.9 824.9,643.7 829.9,642.4 829.9,642.4M800,353.1 798.7,348.7 797.5,341.2 791.9,341.1 793.2,329.9M793.2,329.9 791.9,324.9 790.8,318.7 785.6,316.6 786.6,312.4 798.1,309.8 810.6,309.3M812.7,328 801.2,329.6 793.2,329.9M809.9,386.7 806.4,379.3 801.2,375.2 799.6,375.7 798.1,379.3 797,383.5 793.9,384 793.8,384M793.8,384 796,374.1 794.9,364.8 794.9,364.8M794.9,534.1 794.9,534.1M794.9,534.1 794.9,534.1 794.9,534.1M794.9,534.1 798,533.6M794.9,364.8 795.8,354M795.8,354 795.7,353.9M795.7,353.9 795.8,353.9M795.8,354 799.1,358 803.3,356.4 806.4,357 808.5,358.5 816.8,361.6 819.9,362.2 824.1,360.6 828.2,362.7 834.2,364.1M795.8,353.9 795.8,354M795.8,354 800,353.2M795.8,353.9 800,353.1M798,533.6 799.9,525.7 803.2,523.2 809.9,519.9 813.2,514.9 818.2,509.9 823.2,504 823.2,504M798.2,479.9 803.2,486.6 808.2,489.9 806.5,499.9 806.5,499.9M800,353.2 800,353.1M808.5,351.6 800,353.1 800,353.1M808.5,351.6 800,353.2M806.5,499.9 816.5,503.2 823.2,504M819,612.4 818.2,611.5 813.2,604.9 806.5,596.6M810.6,309.3 809,304.1 807.5,297.9M807.5,297.9 807.5,297.9 826.2,292.7 826.7,292.6M808.5,351.6 813.1,350.7M813.1,350.8 808.5,351.6M809.9,468.2 813.2,453.3M831.5,484.1 819.9,476.6 809.9,468.2 809.9,468.2M809.9,386.7 806.5,393.3 808.2,401.6 811.5,408.3 815.7,413.3 816.5,421.6 815.1,424.7M821.1,385.1 819.9,386.6 814.7,386.6 809.9,386.7M810.6,309.3 810.6,309.3M810.6,309.3 810.6,309.3M810.6,309.3 810.6,309.3 810.6,309.3M810.6,309.3 810.6,309.3M812.7,328 816.8,324.9 819.9,320.8 818.4,316.6 813.7,312.4 810.6,309.3M810.6,309.3 815.8,307.2 822,305.2 824.1,306.7 828.3,309.3 832.4,309.3 832.4,309.3M832.4,327 829.3,331.2 826.2,335.3 819.9,336.9 813.7,336.4 811.1,332.2 812.7,328M813.1,350.8 813.1,350.7M821.9,349.1 821.2,349.3 813.1,350.8M813.1,350.7 813.7,346.2 814.9,339.9 827.4,335.6 829.3,335 834.9,338.7 841.2,342.5 847.4,341.9 853,340.6M813.1,350.7 821.5,349.1 821.9,349M823.2,444.9 823.2,444.9 816.5,448.3 813.2,453.3M815.1,424.7 830.6,421.1M833.7,639.9 829.9,635.7 824.9,626.5 821.5,621.5 823.2,616.5 819,612.4M831.7,375.8 831.4,375.2 827.2,378.3 824.1,381.4 821.1,385.1M821.1,385.1 826.2,381.2 829.9,379.9 834.9,382.4M821.9,349.1 821.9,349M821.9,349 827.2,347.7M834.2,364.1 831.7,362.5 824.2,358.3 821.9,349.1M821.9,349.1 827.2,347.7M829.4,238.1 822.5,237.8M846.2,215.6 846.2,215.6 835,217.5 831.2,220.6 827.5,225 823.7,231.2 822.5,236.2 822.5,237.8M823.2,504 824,499.9 826.5,493.2 831.5,484.1M823.2,444.9 829.9,453.3 835,453 840,454.9 843.7,456.2 850,458.7 850.6,459.3M826.5,439.9 826.5,439.9 826.3,440.3 823.2,444.9M828.8,263.5 830.4,266.6 831.4,271.9 827.2,275 828.3,280.2 829.3,284.3 826.7,285.4 826.2,289 826.2,289M826.7,292.6 826.2,289M830.6,421.1 829.9,434.9 827.8,438.1 826.5,439.9M842.8,289 842.8,289 826.7,292.6M827.2,347.7 853,340.6M861.4,264.6 858.4,266.6 853.2,267.2 846,266.6 841.8,268.2 838.7,266.6 834.5,264 828.8,263.5M828.8,263.5 829.3,255.7M829.3,255.7 828.7,253.7 826.9,249.9 827.5,246.2 830,242.5 829.4,238.1 829.4,238.1M858.4,255.7 853.2,256.8 844.9,255.2 837.6,254.7 829.3,255.7M847.5,220 847.5,220 842.5,225 836.2,231.2 829.4,238.1M829.9,642.4 829.9,642.4 833.7,649.9 836.2,659.9 837.4,669.9 836.8,679.9 834.9,687.4 832.9,694M829.9,642.4 833.7,639.9M834.9,382.5 837.4,389.9 836.2,397.4 837.4,404.9 834.9,413.7 830.6,421.1M830.6,421.1 865.5,411.8M831.5,484.1 836.5,483.2 843.2,479.9 845.7,474.9 847.3,466.6 850.6,459.3M831.7,375.8 831.7,375.8M831.7,375.8 831.7,375.8 831.7,375.8M831.7,375.8 831.7,375.8M831.7,375.8 831.7,375.8M832.1,376.6 831.7,375.8M831.7,375.8 831.7,375.8M834.2,364.1 835,368.3 832.5,372.5 831.7,375.8M831.7,375.8 836.6,378.3 840.8,379.1 845,378.3 849.1,377.4 851.4,378.8M831.7,375.8 832.1,376.6M832.1,376.6 833.3,379.1 834.9,382.4M834.9,382.4 832.1,376.6M832.4,327 829.3,324.9 835.6,321.8 842.8,320.2 846,321.8 851.2,323.9M851.2,323.9 840.8,325.4 832.4,327M832.4,309.3 833.5,312.4 836.6,316.6 841.8,314.5 843.9,311.4 847,312.4 849.1,315.6 855.3,312.4 855.3,312.4M832.4,309.3 834.5,306.2 840.8,303.1 842.8,298.9 844.4,293.7 842.8,289M832.9,694 833.7,693.6 837.4,689.9 841.2,684.9 842.4,679.9 844.3,676.2 843.7,669.9 842.4,662.4 841.8,653.7 838.7,646.2 833.7,639.9 833.7,639.9M834.2,364.1 835.8,358.3 840.8,355 842.6,356.3M834.9,382.4 834.9,382.4M834.9,382.5 834.9,382.4M834.9,382.4 834.9,382.4 834.9,382.5M834.9,382.5 834.9,382.4M851.4,378.8 849.2,376.6 850.8,374.9 849.2,371.6 846.7,368.3 844.9,364.1 844.2,360 842.6,356.3M842.6,356.3 842.4,355.8 843.3,352.5 844.9,349.1 847.4,345.8 846.7,350 845.8,355.8 848.3,358.3 849.2,363.3 850.8,367.5 851.7,372.4 855.8,373.3 857.4,374.9 859.1,378.3 860.8,379.9 861.6,383.3 861.1,387.4 861.6,391.6 861.6,397.4 863,400.5 864.5,397.4 865.4,391.6 866.6,387.4 867.4,383.3 867.4,378.3 869.1,374.9 870.8,369.9 869.9,365.6M842.8,289 847,289 850.1,291.1 852.2,295.8 853.2,297.9 858.4,298.9M847.5,220 846.2,215.6M858.7,211.9 858.7,211.9 846.2,215.6M861.2,251.2 860,247.4 857.5,240 853.7,231.2 848.7,221.2 847.5,220 847.5,220M850.6,459.3 850.6,459.3 853.7,462.4 859.9,458 868.1,454.3 870.6,449.3 868.7,448.7 859.9,451.2 864.9,446.2 863.7,441.2 869.9,437.4 874.3,434.3 876.2,429.9 872.4,426.8 864.9,427.5 857.5,428.1 862.4,423.7 867.4,417.5 866.2,412.2 865.5,411.8M851.2,323.9 851.2,323.9 851.2,323.9M851.2,323.9 851.2,323.9M855.3,320.8 851.2,323.9M865.5,411.8 863.6,408 860.5,404.9 858,399.9 856.6,394.9 855.8,391.6 854.2,388.3 853.3,383.3 851.7,379.1 851.4,378.8M853,340.6 855.3,341.6M869.9,365.6 858.6,367.5 854.9,348.7 853,340.6M853,340.6 854.9,337.5 856.8,340 856.8,340.1M856.8,340.1 857.4,339.5 860.5,336.4 863.7,332.2 866.8,327 855.3,320.8M855.3,320.8 855.3,320.8 856.4,314.5 855.3,312.4M855.3,320.8 858.3,319.9 863.3,322.4 868.3,319.9 870,317.5 872.9,317 874.8,316.4M855.3,341.6 856.5,342.1M856.8,340.1 855.3,341.6M855.3,312.4 858.4,298.9M856.1,345 856.1,345M856.1,345 856.1,345 856.1,345M856.5,342.1 856.1,345M856.1,345 858.6,347.5 862.4,348.7 866.1,348.7 869.9,347.5 871.1,347.5 870.5,353.7 872.4,351.2 875.5,345 877.4,338.7 880,331.2 878.7,326.6 878.3,319.9 876.6,315.8M869.9,365.6 870.5,363.1 867.4,360 863.6,355 859.9,350 856.1,345M856.8,340.1 856.5,342.1M861.4,264.6 860.5,260.4 858.4,255.7M858.4,255.7 858.1,251.8 861.2,251.2M858.4,298.9 867.5,301.2 875,303.3 876.2,306.6M858.4,298.9 863.7,293.7 865.7,288.5 866.3,281.2 863.7,272.9 861.6,265.6 861.4,264.6M869.9,246.2 869.3,244.3 866.2,242.5 863.7,235 863.1,227.5 860,220 858.7,211.9M866.8,209.4 858.7,211.9M861.2,251.2 861.2,251.2M861.2,251.2 861.2,251.2 861.2,251.2M869.9,246.2 865,248.7 861.2,251.2M874.9,259.9 874.3,251.2 873.1,242.5 871.2,231.2 868.7,220 866.8,209.4M886.8,203.5 866.8,209.4 866.8,209.4M874.9,259.9 872.4,253.7 870.6,248.1 869.9,246.2M875.4,316.2 875,316.6 874.8,316.4M874.8,316.4 873.3,315 875.6,310.4M874.8,316.4 875.4,316.2M874.9,259.9 874.9,259.9 874.9,259.9M874.9,259.9 874.9,259.9M874.9,259.9 876.2,254.9 878.7,247.4 881.8,238.7 883.7,233.7M886,257.1 884.9,257.4 874.9,259.9M876.2,277.4 875.6,269.9 874.9,259.9M875.4,316.2 876.4,315.1M876.6,315.8 875.4,316.2M875.6,310.4 875.4,311.6 876.4,315.1M875.6,310.4 876.2,306.6M876.4,315.1 876.6,315 879.1,313.3 882,311.9 885.4,309.5 888.7,307.9 892,305.4 895.4,303.5 898.7,300.6 902,298.5 905.3,295.8 908.4,293.3 908.7,291.2 906.6,292.1 903.3,294.1 899.9,295.8 901.2,292.5 899.9,291.6 898.3,294.1 897.4,297.5 895.8,296.6 891.6,299.1 887.5,301.2 884.1,303.3 880.8,305 878.3,307.5 875.8,310 875.6,310.4M876.7,282.4 876.2,277.4 876.2,277.4M876.2,277.4 885.6,275.5 885.6,275.5M876.2,306.6 876.2,306.6 877.5,303.3 878.7,301.1M876.6,315.8 876.6,315.8 876.4,315.1M876.7,282.4 879.3,287.4 882.4,290.5 884.9,288 886.2,282.4 885.6,275.5M878.7,301.1 877.4,289.9 876.7,282.4M878.7,301.1 882.4,296.1 889.9,291.1 897.4,287.4 906.2,284.9 908.7,284.3 908.7,284.3M883.7,233.7 887.4,235 891.2,238.7 894.9,237.5 896.2,230 897.4,222.5 900.4,217.5M883.7,233.7 884.3,242.5 884.9,249.9 886,257.1M883.7,233.7 883.7,233.7 884.3,227.5 884.9,220 888.7,211.2 886.8,203.5M885.6,275.5 884.9,266.2 886,257.1M904.9,269.9 904.9,269.9 885.6,275.5M886,257.1 899.9,253.1 912.4,247.4 913,246.8M891.2,194.4 888.1,197.5 886.8,203.5 886.8,203.5M900.4,217.5 899.9,216.2 894.9,205 891.2,194.4M939.9,168.1 934.9,152.5 929.9,138.7 927.4,136.9 922.4,135 918.7,134.4 914.9,138.1 911.8,141.2 909.3,140.6 908.1,136.9 904.3,136.9 901.2,147.5 898.7,157.5 898.1,167.5 899.3,173.7 898.7,181.2 895.6,186.2 896.2,189.9 893.7,193.1 891.2,194.4M908,235.2 906.2,232.5 900.4,217.5M900.4,217.5 907.4,205 914.9,194.4 917.4,189.9 927.4,178.7 934.9,171.2 939.9,168.1M908.7,284.3 907.4,281.2 904.9,269.9M911.2,268.7 904.9,269.9M912.4,238.1 908.7,236.2 908,235.2M908,235.2 912.4,226.2 918.6,215 926.1,205 934.9,194.4 942.4,189.9 949.9,182.4 955.7,178.4M908.7,284.3 913,282.4 913,276.2 913,276.2M912.4,268.4 912.4,268.7 911.2,268.7M911.2,268.7 912.4,274.9 913,276.2M911.2,268.7 912.4,268.4M913,246.8 913.7,242.5 912.4,238.1 912.4,238.1M912.4,238.1 914.9,235 916.1,228.7 919.9,225 918.6,221.2 923.6,220 922.4,216.2 928.6,215 929.9,211.2 932.4,208.7 931.1,205 936.1,202.5 940,200 943.6,199.9 947.4,198.7 949.9,196.2 952.4,193.1 954.9,189.9 958,187.4 956.8,184.9 958.6,182.4 956.1,178.7 955.7,178.4M913,246.8 911.2,253.7 913,262.4 912.4,268.4M913,276.2 916.1,274.9 918.6,277.4 922.4,276.2 924.9,279.9 927.4,278.7 929.9,276.2 932.4,272.4 937.4,269.9 937.4,264.9 933.6,260.6 931.1,260.6 934.9,262.4 936.8,266.2 934.9,268.7 928.6,268.7 924.9,266.2 922.4,262.4 918.6,258.7 917.4,253.7 919.9,250.6 916.1,248.7 913,246.8 913,246.8M955.7,178.4 952.4,176.2 948.6,174.9 946.1,168.7 939.9,168.1 939.9,168.1M42.7,129.6 43.1,135 44.3,138.7 48.5,141.2 55.1,144.1 61,147.5 66.8,149.1 70.1,149.6 72.6,147.5 72.6,137.1 61,134.2 52.6,131.7 47.2,129 42.7,129.6M160.8,216.6 165,215.8 171.6,222.4 175.8,226.6 173.3,227.4 168.3,223.2 163.3,219.1 160.8,216.6M864.9,405 869.9,413.7 874.9,422.5 879.3,427.5M865.6,408.7 868.7,415 872.4,421.2M814.9,697.1 817.4,696.4 819.9,697.1 817.4,698.1 814.9,697.1M823.7,696.8 825.6,695.9 828.1,696.5 825.9,697.8 823.7,696.8M829.9,695.5 832.4,694.6 834.3,695.1 831.8,696.4 829.9,695.5M836.2,693.4 839.3,691.8 841.8,691.1 839.9,693.4 836.2,693.4M843.7,683 845.5,682.2 846.4,684.9 844.9,687.4 843.9,686.1 843.7,683M622.5,446.2 624.9,447 624,449.4 626.5,450.3 624.5,452 625.7,454.2 623.5,455.4 623.7,457.7 621.4,456.7 620.7,458.9 618.8,459.7 620.3,461.8 618.2,463.3 619.8,465.2 617.8,466.8 619.4,468.8 617.5,470.4 618.9,472.5 616.6,473.5 617.6,475.8 615.3,476.9 616.4,479.1 614.1,480.2 615.3,482.5 613,483.6 614.2,485.9 611.9,487 613,489.2 610.8,490.4 611.9,492.6 609.6,493.7 610.7,496 608.4,497 609.4,499.3 607.1,500.1 607.6,502.5 605.1,503 605.7,505.3 603.6,506.5 604.9,508.7 602.7,510 603.7,512.4 601.1,512.4 601.1,515 598.6,514.9 599,517.3 596.7,518.3 597.7,520.6 595.4,521.6 596.6,523.7 594.6,525.3 596.2,527.2 594.3,528.8 595.8,530.8M594.2,531.1 596.6,531.7 596,534.2 598.3,535.2 596.6,537.1 598.4,538.9 596.6,540.7 598.4,542.5 596.9,544.5 599.2,545.6 598,547.9 600.1,549.2 598.6,551.2 600.6,552.7 599,554.8 601.4,555.9 600.6,558.2 602,559.8 599.8,560.9 600.9,563.2 598.6,564.3 599.7,566.6 597.4,567.6 598.4,569.9 595.9,570.6 596.4,573.1 593.9,573.6 594.9,575.8 593,577.4 594.6,579.3 592.6,580.9 594.2,582.9 592.2,584.5 593.8,586.5 591.8,588 593.3,590M841.2,383.7 847.5,388.7 853.7,392.5 856.5,396.9M842.5,383.1 848.7,387.5 854.3,391.5M846.2,395 851.2,398.7 856.5,402.7M838.7,400 847.5,400.6 853.7,403.7 857.7,406.5M840,401 847.5,401.9 853.1,404.7M855,422.5 854.3,426.2 857.5,428.9M853.7,440.6 858.7,441.8 862.4,442.2M854.3,448.9 858.1,451.8 861.2,452.4M35.9,387.5 40,391.3M558.2,329.9 580,327.4M575.7,373.2 580,374.9M425.9,516 425.8,525.7M559,494.9 554.9,501.5 551.6,508.2M658.2,331.2 659.1,338.3 659.9,346.6 658.2,353.2 658.2,359.8M691.6,411.6 694.8,408.3 696.5,401.6 699.8,398.3 704.8,395 710,393.3M828.8,347.3 840.1,344.6M827.9,438 832.5,436.8 836.2,438.7 840,436.8 847.5,437.4 855,435.6 863.1,434.9M690,530 698.3,526.6 702.5,516.6 703.6,506M876.6,315.9 875.8,324.1 875,332.4 873.3,339.1 872,342.8"/>
</g>
<g id="legend">
<g stroke="#000" stroke-width="1.1">
<rect x="10.8" y="788.8" width="55.3" height="55.4" fill="#001eff"/>
<rect x="66.1" y="788.8" width="55.3" height="55.4" fill="#0064ff"/>
<rect x="121.4" y="788.8" width="55.3" height="55.4" fill="#0096ff"/>
<rect x="176.7" y="788.8" width="55.3" height="55.4" fill="#00c8ff"/>
<rect x="232.1" y="788.8" width="55.3" height="55.4" fill="#00ffff"/>
<rect x="287.4" y="788.8" width="55.3" height="55.4" fill="#28ffd2"/>
<rect x="342.7" y="788.8" width="55.3" height="55.4" fill="#5affa0"/>
<rect x="398" y="788.8" width="55.3" height="55.4" fill="#96ff64"/>
<rect x="453.3" y="788.8" width="55.3" height="55.4" fill="#ffffff"/>
<rect x="508.6" y="788.8" width="55.3" height="55.4" fill="#ffff00"/>
<rect x="564" y="788.8" width="55.3" height="55.4" fill="#ffc800"/>
<rect x="619.3" y="788.8" width="55.3" height="55.4" fill="#ff9600"/>
<rect x="674.6" y="788.8" width="55.3" height="55.4" fill="#ff6400"/>
<rect x="729.9" y="788.8" width="55.3" height="55.4" fill="#ff3200"/>
<rect x="785.2" y="788.8" width="55.3" height="55.4" fill="#ff0000"/>
<rect x="840.5" y="788.8" width="55.3" height="55.4" fill="#be0000"/>
<rect x="895.9" y="788.8" width="55.3" height="55.4" fill="#820000"/>
</g>
<g font-size="32">
<text x="40" y="873.7" textLength="68.6" lengthAdjust="spacing">−7.0</text>
<text x="151" y="873.7" textLength="68.6" lengthAdjust="spacing">−5.0</text>
<text x="261.5" y="873.7" textLength="68.6" lengthAdjust="spacing">−3.0</text>
<text x="372.3" y="873.7" textLength="68.6" lengthAdjust="spacing">−1.0</text>
<text x="504" y="873.7" textLength="42" lengthAdjust="spacing">1.0</text>
<text x="612.5" y="873.7" textLength="44.5" lengthAdjust="spacing">3.0</text>
<text x="723.5" y="873.7" textLength="44.5" lengthAdjust="spacing">5.0</text>
<text x="835" y="873.7" textLength="44" lengthAdjust="spacing">7.0</text>
</g>
<text y="779.5" font-size="19.6" stroke="#000" stroke-width="0.6"><tspan x="634.0" textLength="48.6" lengthAdjust="spacingAndGlyphs">NOAA</tspan> <tspan x="692.8" textLength="35.0" lengthAdjust="spacingAndGlyphs">PSL</tspan> <tspan x="738.0" textLength="33.5" lengthAdjust="spacingAndGlyphs">and</tspan> <tspan x="782.6" textLength="96.1" lengthAdjust="spacingAndGlyphs">CIRES−CU</tspan></text>
</g>
</svg>
</body>
</html>
